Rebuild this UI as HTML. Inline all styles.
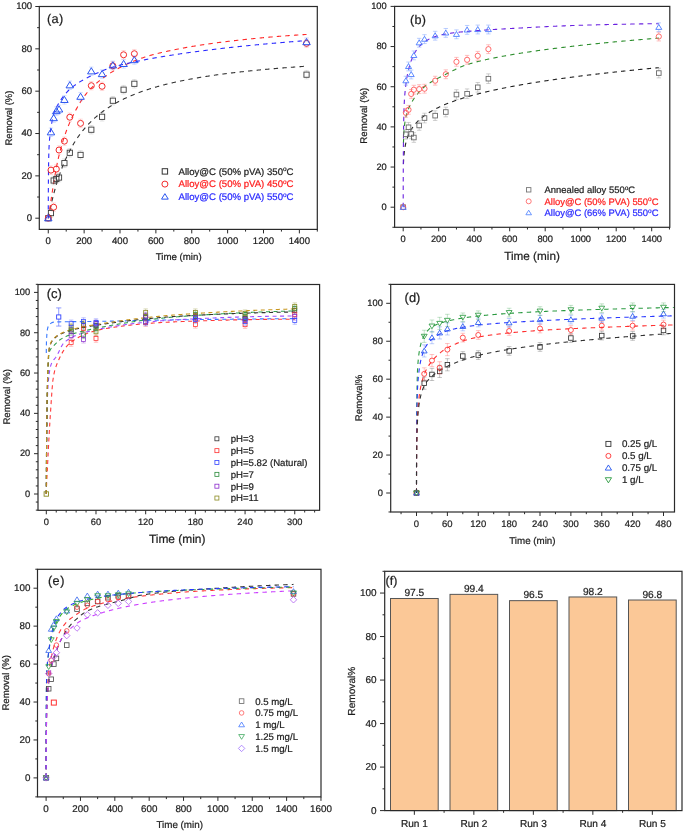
<!DOCTYPE html>
<html><head><meta charset="utf-8"><style>
html,body{margin:0;padding:0;background:#fff;}
body{width:685px;height:833px;overflow:hidden;}
svg{display:block;font-family:"Liberation Sans", sans-serif;text-rendering:geometricPrecision;will-change:transform;}
</style></head><body>
<svg width="685" height="833" viewBox="0 0 685 833" font-family="Liberation Sans, sans-serif">
<rect width="685" height="833" fill="#fff"/>
<path d="M48.27 218.2L48.27 218.2L48.27 218.2L48.27 218.19L48.28 218.17L48.28 218.14L48.29 218.1L48.3 218.04L48.32 217.96L48.34 217.86L48.36 217.73L48.39 217.58L48.43 217.39L48.47 217.17L48.52 216.92L48.58 216.63L48.64 216.3L48.72 215.92L48.8 215.5L48.89 215.04L49 214.52L49.11 213.95L49.24 213.34L49.37 212.67L49.52 211.94L49.69 211.16L49.86 210.32L50.06 209.42L50.26 208.47L50.48 207.45L50.72 206.38L50.97 205.25L51.24 204.07L51.53 202.82L51.84 201.52L52.16 200.17L52.5 198.76L52.86 197.29L53.25 195.78L53.65 194.22L53.65 194.22L54.28 191.83L54.92 189.51L55.55 187.27L56.19 185.1L56.82 182.99L57.45 180.95L58.09 178.97L58.72 177.04L59.35 175.17L59.99 173.35L60.62 171.59L61.26 169.87L61.89 168.2L62.52 166.57L63.16 164.99L63.79 163.45L64.42 161.95L65.06 160.48L65.69 159.06L66.33 157.66L66.96 156.31L67.59 154.98L68.23 153.69L68.86 152.42L69.5 151.19L70.13 149.99L70.76 148.81L71.4 147.66L72.03 146.53L72.66 145.43L73.3 144.35L73.93 143.3L74.57 142.27L75.2 141.26L75.83 140.27L76.47 139.31L77.1 138.36L77.73 137.43L78.37 136.52L79 135.63L79.64 134.75L80.27 133.9L80.9 133.06L81.54 132.23L82.17 131.42L82.8 130.63L83.44 129.85L84.07 129.09L84.71 128.33L85.34 127.6L85.97 126.87L86.61 126.16L87.24 125.46L87.88 124.78L88.51 124.1L89.14 123.44L89.78 122.79L90.41 122.15L91.04 121.52L91.68 120.9L92.31 120.29L92.95 119.69L93.58 119.1L94.21 118.52L94.85 117.95L95.48 117.38L96.11 116.83L96.75 116.29L97.38 115.75L98.02 115.22L98.65 114.7L99.28 114.19L99.92 113.68L100.55 113.19L101.18 112.7L101.82 112.22L102.45 111.74L103.09 111.27L103.72 110.81L104.35 110.35L104.99 109.9L105.62 109.46L106.26 109.03L106.89 108.59L107.52 108.17L108.16 107.75L108.79 107.34L109.42 106.93L110.06 106.53L110.69 106.13L111.33 105.74L111.96 105.35L112.59 104.97L113.23 104.6L113.86 104.22L114.49 103.86L115.13 103.49L115.76 103.14L116.4 102.78L117.03 102.43L117.66 102.09L118.3 101.75L118.93 101.41L119.56 101.08L120.2 100.75L120.83 100.43L121.47 100.11L122.1 99.79L122.73 99.48L123.37 99.17L124 98.87L124.64 98.56L125.27 98.26L125.9 97.97L126.54 97.68L127.17 97.39L127.8 97.1L128.44 96.82L129.07 96.54L129.71 96.27L130.34 96L130.97 95.73L131.61 95.46L132.24 95.2L132.87 94.93L133.51 94.68L134.14 94.42L134.78 94.17L135.41 93.92L136.04 93.67L136.68 93.43L137.31 93.18L137.95 92.94L138.58 92.71L139.21 92.47L139.85 92.24L140.48 92.01L141.11 91.78L141.75 91.55L142.38 91.33L143.02 91.11L143.65 90.89L144.28 90.67L144.92 90.46L145.55 90.25L146.18 90.04L146.82 89.83L147.45 89.62L148.09 89.42L148.72 89.21L149.35 89.01L149.99 88.81L150.62 88.62L151.25 88.42L151.89 88.23L152.52 88.04L153.16 87.85L153.79 87.66L154.42 87.47L155.06 87.29L155.69 87.11L156.33 86.92L156.96 86.74L157.59 86.57L158.23 86.39L158.86 86.21L159.49 86.04L160.13 85.87L160.76 85.7L161.4 85.53L162.03 85.36L162.66 85.2L163.3 85.03L163.93 84.87L164.56 84.71L165.2 84.55L165.83 84.39L166.47 84.23L167.1 84.07L167.73 83.92L168.37 83.76L169 83.61L169.63 83.46L170.27 83.31L170.9 83.16L171.54 83.01L172.17 82.87L172.8 82.72L173.44 82.58L174.07 82.43L174.71 82.29L175.34 82.15L175.97 82.01L176.61 81.87L177.24 81.74L177.87 81.6L178.51 81.46L179.14 81.33L179.78 81.2L180.41 81.06L181.04 80.93L181.68 80.8L182.31 80.67L182.94 80.55L183.58 80.42L184.21 80.29L184.85 80.17L185.48 80.04L186.11 79.92L186.75 79.8L187.38 79.67L188.01 79.55L188.65 79.43L189.28 79.31L189.92 79.2L190.55 79.08L191.18 78.96L191.82 78.85L192.45 78.73L193.09 78.62L193.72 78.5L194.35 78.39L194.99 78.28L195.62 78.17L196.25 78.06L196.89 77.95L197.52 77.84L198.16 77.73L198.79 77.63L199.42 77.52L200.06 77.41L200.69 77.31L201.32 77.21L201.96 77.1L202.59 77L203.23 76.9L203.86 76.8L204.49 76.7L205.13 76.6L205.76 76.5L206.39 76.4L207.03 76.3L207.66 76.2L208.3 76.11L208.93 76.01L209.56 75.91L210.2 75.82L210.83 75.72L211.47 75.63L212.1 75.54L212.73 75.45L213.37 75.35L214 75.26L214.63 75.17L215.27 75.08L215.9 74.99L216.54 74.9L217.17 74.81L217.8 74.73L218.44 74.64L219.07 74.55L219.7 74.47L220.34 74.38L220.97 74.3L221.61 74.21L222.24 74.13L222.87 74.04L223.51 73.96L224.14 73.88L224.77 73.8L225.41 73.71L226.04 73.63L226.68 73.55L227.31 73.47L227.94 73.39L228.58 73.31L229.21 73.23L229.85 73.16L230.48 73.08L231.11 73L231.75 72.92L232.38 72.85L233.01 72.77L233.65 72.7L234.28 72.62L234.92 72.55L235.55 72.47L236.18 72.4L236.82 72.32L237.45 72.25L238.08 72.18L238.72 72.11L239.35 72.03L239.99 71.96L240.62 71.89L241.25 71.82L241.89 71.75L242.52 71.68L243.15 71.61L243.79 71.54L244.42 71.47L245.06 71.41L245.69 71.34L246.32 71.27L246.96 71.2L247.59 71.14L248.23 71.07L248.86 71L249.49 70.94L250.13 70.87L250.76 70.81L251.39 70.74L252.03 70.68L252.66 70.62L253.3 70.55L253.93 70.49L254.56 70.43L255.2 70.36L255.83 70.3L256.46 70.24L257.1 70.18L257.73 70.12L258.37 70.06L259 70L259.63 69.93L260.27 69.87L260.9 69.81L261.53 69.76L262.17 69.7L262.8 69.64L263.44 69.58L264.07 69.52L264.7 69.46L265.34 69.41L265.97 69.35L266.61 69.29L267.24 69.23L267.87 69.18L268.51 69.12L269.14 69.07L269.77 69.01L270.41 68.95L271.04 68.9L271.68 68.84L272.31 68.79L272.94 68.74L273.58 68.68L274.21 68.63L274.84 68.58L275.48 68.52L276.11 68.47L276.75 68.42L277.38 68.36L278.01 68.31L278.65 68.26L279.28 68.21L279.91 68.16L280.55 68.11L281.18 68.05L281.82 68L282.45 67.95L283.08 67.9L283.72 67.85L284.35 67.8L284.99 67.75L285.62 67.7L286.25 67.66L286.89 67.61L287.52 67.56L288.15 67.51L288.79 67.46L289.42 67.41L290.06 67.37L290.69 67.32L291.32 67.27L291.96 67.22L292.59 67.18L293.22 67.13L293.86 67.08L294.49 67.04L295.13 66.99L295.76 66.95L296.39 66.9L297.03 66.86L297.66 66.81L298.29 66.77L298.93 66.72L299.56 66.68L300.2 66.63L300.83 66.59L301.46 66.54L302.1 66.5L302.73 66.46L303.37 66.41L304 66.37L304.63 66.33L305.27 66.28L305.9 66.24L306.53 66.2" fill="none" stroke="#333333" stroke-width="1.1" stroke-dasharray="4.4 4.2" opacity="1.0"/>
<path d="M48.27 218.2L48.27 218.2L48.27 218.19L48.27 218.18L48.28 218.15L48.28 218.11L48.29 218.04L48.3 217.95L48.32 217.84L48.34 217.69L48.36 217.51L48.39 217.29L48.43 217.04L48.47 216.76L48.52 216.43L48.58 216.07L48.64 215.67L48.72 215.24L48.8 214.77L48.89 214.27L49 213.73L49.11 213.17L49.24 212.56L49.37 211.76L49.52 210.76L49.69 209.59L49.86 208.27L50.06 206.83L50.26 205.3L50.48 203.73L50.72 202.14L50.97 200.48L51.24 198.7L51.53 196.8L51.84 194.8L52.16 192.7L52.5 190.52L52.86 188.27L53.25 185.97L53.65 183.55L53.65 183.55L54.28 179.75L54.92 175.98L55.55 172.31L56.19 168.79L56.82 165.43L57.45 162.27L58.09 159.33L58.72 156.61L59.35 154.04L59.99 151.57L60.62 149.19L61.26 146.89L61.89 144.67L62.52 142.52L63.16 140.45L63.79 138.44L64.42 136.5L65.06 134.63L65.69 132.81L66.33 131.06L66.96 129.36L67.59 127.72L68.23 126.13L68.86 124.6L69.5 123.12L70.13 121.69L70.76 120.3L71.4 118.93L72.03 117.59L72.66 116.27L73.3 114.98L73.93 113.71L74.57 112.47L75.2 111.25L75.83 110.05L76.47 108.88L77.1 107.73L77.73 106.6L78.37 105.5L79 104.42L79.64 103.37L80.27 102.33L80.9 101.33L81.54 100.34L82.17 99.38L82.8 98.44L83.44 97.52L84.07 96.63L84.71 95.76L85.34 94.91L85.97 94.08L86.61 93.28L87.24 92.5L87.88 91.74L88.51 91L89.14 90.29L89.78 89.59L90.41 88.92L91.04 88.27L91.68 87.65L92.31 87.03L92.95 86.42L93.58 85.82L94.21 85.24L94.85 84.66L95.48 84.09L96.11 83.53L96.75 82.99L97.38 82.44L98.02 81.91L98.65 81.39L99.28 80.87L99.92 80.37L100.55 79.87L101.18 79.37L101.82 78.89L102.45 78.41L103.09 77.94L103.72 77.47L104.35 77.02L104.99 76.57L105.62 76.12L106.26 75.68L106.89 75.25L107.52 74.83L108.16 74.41L108.79 73.99L109.42 73.58L110.06 73.18L110.69 72.78L111.33 72.39L111.96 72L112.59 71.62L113.23 71.24L113.86 70.87L114.49 70.5L115.13 70.14L115.76 69.78L116.4 69.42L117.03 69.07L117.66 68.73L118.3 68.39L118.93 68.05L119.56 67.72L120.2 67.39L120.83 67.06L121.47 66.74L122.1 66.42L122.73 66.11L123.37 65.8L124 65.49L124.64 65.19L125.27 64.88L125.9 64.59L126.54 64.29L127.17 64L127.8 63.71L128.44 63.43L129.07 63.15L129.71 62.87L130.34 62.59L130.97 62.32L131.61 62.05L132.24 61.78L132.87 61.52L133.51 61.25L134.14 60.99L134.78 60.74L135.41 60.48L136.04 60.23L136.68 59.99L137.31 59.74L137.95 59.5L138.58 59.26L139.21 59.03L139.85 58.8L140.48 58.57L141.11 58.35L141.75 58.12L142.38 57.91L143.02 57.69L143.65 57.48L144.28 57.27L144.92 57.06L145.55 56.86L146.18 56.65L146.82 56.46L147.45 56.26L148.09 56.07L148.72 55.88L149.35 55.69L149.99 55.51L150.62 55.33L151.25 55.15L151.89 54.97L152.52 54.8L153.16 54.63L153.79 54.46L154.42 54.29L155.06 54.13L155.69 53.97L156.33 53.81L156.96 53.65L157.59 53.5L158.23 53.34L158.86 53.19L159.49 53.04L160.13 52.88L160.76 52.73L161.4 52.58L162.03 52.44L162.66 52.29L163.3 52.14L163.93 52L164.56 51.85L165.2 51.71L165.83 51.57L166.47 51.43L167.1 51.29L167.73 51.15L168.37 51.01L169 50.87L169.63 50.74L170.27 50.6L170.9 50.47L171.54 50.34L172.17 50.2L172.8 50.07L173.44 49.94L174.07 49.81L174.71 49.68L175.34 49.55L175.97 49.43L176.61 49.3L177.24 49.18L177.87 49.05L178.51 48.93L179.14 48.81L179.78 48.68L180.41 48.56L181.04 48.44L181.68 48.32L182.31 48.21L182.94 48.09L183.58 47.97L184.21 47.85L184.85 47.74L185.48 47.62L186.11 47.51L186.75 47.4L187.38 47.28L188.01 47.17L188.65 47.06L189.28 46.95L189.92 46.84L190.55 46.73L191.18 46.62L191.82 46.52L192.45 46.41L193.09 46.3L193.72 46.2L194.35 46.09L194.99 45.99L195.62 45.89L196.25 45.78L196.89 45.68L197.52 45.58L198.16 45.48L198.79 45.38L199.42 45.28L200.06 45.18L200.69 45.08L201.32 44.99L201.96 44.89L202.59 44.79L203.23 44.7L203.86 44.6L204.49 44.51L205.13 44.41L205.76 44.32L206.39 44.23L207.03 44.14L207.66 44.04L208.3 43.95L208.93 43.86L209.56 43.77L210.2 43.68L210.83 43.6L211.47 43.51L212.1 43.42L212.73 43.33L213.37 43.25L214 43.16L214.63 43.07L215.27 42.99L215.9 42.9L216.54 42.82L217.17 42.74L217.8 42.65L218.44 42.57L219.07 42.49L219.7 42.41L220.34 42.33L220.97 42.25L221.61 42.17L222.24 42.09L222.87 42.01L223.51 41.93L224.14 41.85L224.77 41.77L225.41 41.7L226.04 41.62L226.68 41.54L227.31 41.47L227.94 41.39L228.58 41.32L229.21 41.24L229.85 41.17L230.48 41.09L231.11 41.02L231.75 40.95L232.38 40.87L233.01 40.8L233.65 40.73L234.28 40.66L234.92 40.58L235.55 40.51L236.18 40.44L236.82 40.37L237.45 40.3L238.08 40.23L238.72 40.16L239.35 40.09L239.99 40.02L240.62 39.95L241.25 39.88L241.89 39.81L242.52 39.75L243.15 39.68L243.79 39.61L244.42 39.54L245.06 39.48L245.69 39.41L246.32 39.34L246.96 39.28L247.59 39.21L248.23 39.15L248.86 39.08L249.49 39.02L250.13 38.95L250.76 38.89L251.39 38.82L252.03 38.76L252.66 38.7L253.3 38.63L253.93 38.57L254.56 38.51L255.2 38.45L255.83 38.39L256.46 38.32L257.1 38.26L257.73 38.2L258.37 38.14L259 38.08L259.63 38.02L260.27 37.96L260.9 37.9L261.53 37.85L262.17 37.79L262.8 37.73L263.44 37.67L264.07 37.61L264.7 37.56L265.34 37.5L265.97 37.44L266.61 37.39L267.24 37.33L267.87 37.27L268.51 37.22L269.14 37.16L269.77 37.11L270.41 37.05L271.04 37L271.68 36.95L272.31 36.89L272.94 36.84L273.58 36.79L274.21 36.73L274.84 36.68L275.48 36.63L276.11 36.58L276.75 36.53L277.38 36.47L278.01 36.42L278.65 36.37L279.28 36.32L279.91 36.27L280.55 36.22L281.18 36.17L281.82 36.12L282.45 36.08L283.08 36.03L283.72 35.98L284.35 35.93L284.99 35.88L285.62 35.84L286.25 35.79L286.89 35.74L287.52 35.7L288.15 35.65L288.79 35.6L289.42 35.56L290.06 35.51L290.69 35.47L291.32 35.42L291.96 35.38L292.59 35.34L293.22 35.29L293.86 35.25L294.49 35.21L295.13 35.16L295.76 35.12L296.39 35.08L297.03 35.04L297.66 35L298.29 34.95L298.93 34.91L299.56 34.87L300.2 34.83L300.83 34.79L301.46 34.75L302.1 34.71L302.73 34.67L303.37 34.63L304 34.6L304.63 34.56L305.27 34.52L305.9 34.48L306.53 34.44" fill="none" stroke="#ff2a2a" stroke-width="1.1" stroke-dasharray="4.4 4.2" opacity="1.0"/>
<path d="M48.27 218.2L48.27 217.08L48.27 215.06L48.27 212.47L48.28 209.45L48.28 206.09L48.29 202.45L48.3 198.61L48.32 194.6L48.34 190.5L48.36 186.34L48.39 182.18L48.43 178.08L48.47 174.06L48.52 169.96L48.58 165.83L48.64 161.74L48.72 157.8L48.8 154.13L48.89 150.87L49 148.15L49.11 145.82L49.24 143.66L49.37 141.64L49.52 139.77L49.69 138.02L49.86 136.35L50.06 134.74L50.26 133.16L50.48 131.56L50.72 129.91L50.97 128.14L51.24 126.28L51.53 124.39L51.84 122.48L52.16 120.6L52.5 118.78L52.86 117.06L53.25 115.48L53.65 114.08L53.65 114.08L54.28 112.19L54.92 110.55L55.55 109.11L56.19 107.81L56.82 106.61L57.45 105.48L58.09 104.4L58.72 103.34L59.35 102.29L59.99 101.27L60.62 100.29L61.26 99.33L61.89 98.41L62.52 97.52L63.16 96.66L63.79 95.82L64.42 95.02L65.06 94.24L65.69 93.49L66.33 92.77L66.96 92.07L67.59 91.4L68.23 90.76L68.86 90.14L69.5 89.54L70.13 88.97L70.76 88.42L71.4 87.89L72.03 87.36L72.66 86.86L73.3 86.36L73.93 85.88L74.57 85.41L75.2 84.96L75.83 84.51L76.47 84.07L77.1 83.65L77.73 83.23L78.37 82.82L79 82.42L79.64 82.02L80.27 81.63L80.9 81.25L81.54 80.88L82.17 80.51L82.8 80.15L83.44 79.8L84.07 79.45L84.71 79.1L85.34 78.76L85.97 78.42L86.61 78.09L87.24 77.76L87.88 77.43L88.51 77.11L89.14 76.79L89.78 76.48L90.41 76.17L91.04 75.86L91.68 75.55L92.31 75.24L92.95 74.94L93.58 74.64L94.21 74.35L94.85 74.05L95.48 73.76L96.11 73.47L96.75 73.19L97.38 72.91L98.02 72.63L98.65 72.35L99.28 72.08L99.92 71.81L100.55 71.54L101.18 71.28L101.82 71.02L102.45 70.77L103.09 70.51L103.72 70.27L104.35 70.02L104.99 69.78L105.62 69.54L106.26 69.31L106.89 69.08L107.52 68.85L108.16 68.63L108.79 68.41L109.42 68.19L110.06 67.98L110.69 67.77L111.33 67.57L111.96 67.37L112.59 67.17L113.23 66.98L113.86 66.79L114.49 66.61L115.13 66.43L115.76 66.25L116.4 66.08L117.03 65.9L117.66 65.74L118.3 65.57L118.93 65.41L119.56 65.24L120.2 65.09L120.83 64.93L121.47 64.77L122.1 64.62L122.73 64.47L123.37 64.32L124 64.17L124.64 64.03L125.27 63.88L125.9 63.74L126.54 63.59L127.17 63.45L127.8 63.31L128.44 63.17L129.07 63.03L129.71 62.89L130.34 62.76L130.97 62.62L131.61 62.48L132.24 62.34L132.87 62.21L133.51 62.07L134.14 61.93L134.78 61.8L135.41 61.66L136.04 61.53L136.68 61.4L137.31 61.26L137.95 61.13L138.58 61L139.21 60.87L139.85 60.74L140.48 60.61L141.11 60.49L141.75 60.36L142.38 60.23L143.02 60.11L143.65 59.98L144.28 59.86L144.92 59.74L145.55 59.61L146.18 59.49L146.82 59.37L147.45 59.25L148.09 59.13L148.72 59.01L149.35 58.9L149.99 58.78L150.62 58.66L151.25 58.55L151.89 58.43L152.52 58.32L153.16 58.21L153.79 58.1L154.42 57.98L155.06 57.87L155.69 57.76L156.33 57.65L156.96 57.55L157.59 57.44L158.23 57.33L158.86 57.22L159.49 57.12L160.13 57.01L160.76 56.9L161.4 56.8L162.03 56.69L162.66 56.59L163.3 56.49L163.93 56.38L164.56 56.28L165.2 56.18L165.83 56.07L166.47 55.97L167.1 55.87L167.73 55.77L168.37 55.67L169 55.57L169.63 55.47L170.27 55.37L170.9 55.27L171.54 55.17L172.17 55.07L172.8 54.97L173.44 54.87L174.07 54.78L174.71 54.68L175.34 54.58L175.97 54.49L176.61 54.39L177.24 54.3L177.87 54.2L178.51 54.11L179.14 54.01L179.78 53.92L180.41 53.82L181.04 53.73L181.68 53.64L182.31 53.55L182.94 53.45L183.58 53.36L184.21 53.27L184.85 53.18L185.48 53.09L186.11 53L186.75 52.91L187.38 52.82L188.01 52.73L188.65 52.64L189.28 52.55L189.92 52.46L190.55 52.38L191.18 52.29L191.82 52.2L192.45 52.11L193.09 52.03L193.72 51.94L194.35 51.85L194.99 51.77L195.62 51.68L196.25 51.6L196.89 51.51L197.52 51.43L198.16 51.35L198.79 51.26L199.42 51.18L200.06 51.1L200.69 51.01L201.32 50.93L201.96 50.85L202.59 50.77L203.23 50.69L203.86 50.6L204.49 50.52L205.13 50.44L205.76 50.36L206.39 50.28L207.03 50.2L207.66 50.12L208.3 50.05L208.93 49.97L209.56 49.89L210.2 49.81L210.83 49.73L211.47 49.66L212.1 49.58L212.73 49.5L213.37 49.43L214 49.35L214.63 49.27L215.27 49.2L215.9 49.12L216.54 49.05L217.17 48.97L217.8 48.9L218.44 48.82L219.07 48.75L219.7 48.68L220.34 48.6L220.97 48.53L221.61 48.46L222.24 48.39L222.87 48.31L223.51 48.24L224.14 48.17L224.77 48.1L225.41 48.03L226.04 47.96L226.68 47.89L227.31 47.82L227.94 47.75L228.58 47.68L229.21 47.61L229.85 47.54L230.48 47.47L231.11 47.4L231.75 47.33L232.38 47.26L233.01 47.19L233.65 47.13L234.28 47.06L234.92 46.99L235.55 46.92L236.18 46.86L236.82 46.79L237.45 46.72L238.08 46.66L238.72 46.59L239.35 46.53L239.99 46.46L240.62 46.39L241.25 46.33L241.89 46.26L242.52 46.2L243.15 46.13L243.79 46.07L244.42 46L245.06 45.94L245.69 45.88L246.32 45.81L246.96 45.75L247.59 45.69L248.23 45.62L248.86 45.56L249.49 45.5L250.13 45.44L250.76 45.37L251.39 45.31L252.03 45.25L252.66 45.19L253.3 45.13L253.93 45.06L254.56 45L255.2 44.94L255.83 44.88L256.46 44.82L257.1 44.76L257.73 44.7L258.37 44.64L259 44.58L259.63 44.52L260.27 44.46L260.9 44.4L261.53 44.34L262.17 44.28L262.8 44.23L263.44 44.17L264.07 44.11L264.7 44.05L265.34 43.99L265.97 43.93L266.61 43.88L267.24 43.82L267.87 43.76L268.51 43.71L269.14 43.65L269.77 43.59L270.41 43.53L271.04 43.48L271.68 43.42L272.31 43.37L272.94 43.31L273.58 43.25L274.21 43.2L274.84 43.14L275.48 43.09L276.11 43.03L276.75 42.98L277.38 42.92L278.01 42.87L278.65 42.82L279.28 42.76L279.91 42.71L280.55 42.65L281.18 42.6L281.82 42.55L282.45 42.49L283.08 42.44L283.72 42.39L284.35 42.33L284.99 42.28L285.62 42.23L286.25 42.18L286.89 42.12L287.52 42.07L288.15 42.02L288.79 41.97L289.42 41.92L290.06 41.87L290.69 41.81L291.32 41.76L291.96 41.71L292.59 41.66L293.22 41.61L293.86 41.56L294.49 41.51L295.13 41.46L295.76 41.41L296.39 41.36L297.03 41.31L297.66 41.26L298.29 41.21L298.93 41.16L299.56 41.11L300.2 41.06L300.83 41.02L301.46 40.97L302.1 40.92L302.73 40.87L303.37 40.82L304 40.77L304.63 40.73L305.27 40.68L305.9 40.63L306.53 40.58" fill="none" stroke="#2b2bff" stroke-width="1.1" stroke-dasharray="4.4 4.2" opacity="1.0"/>
<path d="M48.76 217.35h4.4M48.76 208.89h4.4M50.96 217.35V216.02M50.96 208.89V210.22" stroke="#999999" stroke-width="0.8" fill="none" opacity="0.35"/>
<path d="M51.45 184.75h4.4M51.45 176.28h4.4M53.65 184.75V183.42M53.65 176.28V177.62" stroke="#999999" stroke-width="0.8" fill="none" opacity="0.35"/>
<path d="M54.14 183.27h4.4M54.14 174.8h4.4M56.34 183.27V181.94M56.34 174.8V176.14" stroke="#999999" stroke-width="0.8" fill="none" opacity="0.35"/>
<path d="M56.83 181.79h4.4M56.83 173.32h4.4M59.03 181.79V180.45M59.03 173.32V174.65" stroke="#999999" stroke-width="0.8" fill="none" opacity="0.35"/>
<path d="M62.21 167.39h4.4M62.21 158.92h4.4M64.41 167.39V166.06M64.41 158.92V160.26" stroke="#999999" stroke-width="0.8" fill="none" opacity="0.35"/>
<path d="M67.59 157.02h4.4M67.59 148.55h4.4M69.79 157.02V155.68M69.79 148.55V149.88" stroke="#999999" stroke-width="0.8" fill="none" opacity="0.35"/>
<path d="M78.35 159.14h4.4M78.35 150.67h4.4M80.55 159.14V157.8M80.55 150.67V152" stroke="#999999" stroke-width="0.8" fill="none" opacity="0.35"/>
<path d="M89.11 133.94h4.4M89.11 125.48h4.4M91.31 133.94V132.61M91.31 125.48V126.81" stroke="#999999" stroke-width="0.8" fill="none" opacity="0.35"/>
<path d="M99.88 121.03h4.4M99.88 112.56h4.4M102.08 121.03V119.7M102.08 112.56V113.9" stroke="#999999" stroke-width="0.8" fill="none" opacity="0.35"/>
<path d="M110.64 104.94h4.4M110.64 96.47h4.4M112.84 104.94V103.61M112.84 96.47V97.81" stroke="#999999" stroke-width="0.8" fill="none" opacity="0.35"/>
<path d="M121.4 93.93h4.4M121.4 85.46h4.4M123.6 93.93V92.6M123.6 85.46V86.8" stroke="#999999" stroke-width="0.8" fill="none" opacity="0.35"/>
<path d="M132.16 88h4.4M132.16 79.54h4.4M134.36 88V86.67M134.36 79.54V80.87" stroke="#999999" stroke-width="0.8" fill="none" opacity="0.35"/>
<path d="M304.33 78.9h4.4M304.33 70.43h4.4M306.53 78.9V77.57M306.53 70.43V71.77" stroke="#999999" stroke-width="0.8" fill="none" opacity="0.35"/>
<path d="M48.76 174.38h4.4M48.76 165.91h4.4M50.96 174.38V173.34M50.96 165.91V166.94" stroke="#ff8080" stroke-width="0.8" fill="none" opacity="0.35"/>
<path d="M51.45 211.43h4.4M51.45 202.96h4.4M53.65 211.43V210.39M53.65 202.96V203.99" stroke="#ff8080" stroke-width="0.8" fill="none" opacity="0.35"/>
<path d="M54.14 173.32h4.4M54.14 164.85h4.4M56.34 173.32V172.29M56.34 164.85V165.89" stroke="#ff8080" stroke-width="0.8" fill="none" opacity="0.35"/>
<path d="M56.83 154.27h4.4M56.83 145.8h4.4M59.03 154.27V153.23M59.03 145.8V146.83" stroke="#ff8080" stroke-width="0.8" fill="none" opacity="0.35"/>
<path d="M62.21 145.38h4.4M62.21 136.91h4.4M64.41 145.38V144.34M64.41 136.91V137.94" stroke="#ff8080" stroke-width="0.8" fill="none" opacity="0.35"/>
<path d="M67.59 121.45h4.4M67.59 112.99h4.4M69.79 121.45V120.42M69.79 112.99V114.02" stroke="#ff8080" stroke-width="0.8" fill="none" opacity="0.35"/>
<path d="M78.35 127.59h4.4M78.35 119.12h4.4M80.55 127.59V126.56M80.55 119.12V120.16" stroke="#ff8080" stroke-width="0.8" fill="none" opacity="0.35"/>
<path d="M89.11 89.91h4.4M89.11 81.44h4.4M91.31 89.91V88.88M91.31 81.44V82.48" stroke="#ff8080" stroke-width="0.8" fill="none" opacity="0.35"/>
<path d="M99.88 90.54h4.4M99.88 82.08h4.4M102.08 90.54V89.51M102.08 82.08V83.11" stroke="#ff8080" stroke-width="0.8" fill="none" opacity="0.35"/>
<path d="M110.64 70.01h4.4M110.64 61.54h4.4M112.84 70.01V68.98M112.84 61.54V62.58" stroke="#ff8080" stroke-width="0.8" fill="none" opacity="0.35"/>
<path d="M121.4 59h4.4M121.4 50.53h4.4M123.6 59V57.97M123.6 50.53V51.57" stroke="#ff8080" stroke-width="0.8" fill="none" opacity="0.35"/>
<path d="M132.16 57.94h4.4M132.16 49.48h4.4M134.36 57.94V56.91M134.36 49.48V50.51" stroke="#ff8080" stroke-width="0.8" fill="none" opacity="0.35"/>
<path d="M304.33 47.57h4.4M304.33 39.1h4.4M306.53 47.57V46.54M306.53 39.1V40.14" stroke="#ff8080" stroke-width="0.8" fill="none" opacity="0.35"/>
<path d="M48.76 136.48h4.4M48.76 128.02h4.4M50.96 136.48V135.45M50.96 128.02V129.05" stroke="#7799ff" stroke-width="0.8" fill="none" opacity="0.4"/>
<path d="M51.45 122.3h4.4M51.45 113.83h4.4M53.65 122.3V121.27M53.65 113.83V114.87" stroke="#7799ff" stroke-width="0.8" fill="none" opacity="0.4"/>
<path d="M54.14 115.31h4.4M54.14 106.85h4.4M56.34 115.31V114.28M56.34 106.85V107.88" stroke="#7799ff" stroke-width="0.8" fill="none" opacity="0.4"/>
<path d="M56.83 113.62h4.4M56.83 105.15h4.4M59.03 113.62V112.59M59.03 105.15V106.19" stroke="#7799ff" stroke-width="0.8" fill="none" opacity="0.4"/>
<path d="M62.21 104.09h4.4M62.21 95.63h4.4M64.41 104.09V103.06M64.41 95.63V96.66" stroke="#7799ff" stroke-width="0.8" fill="none" opacity="0.4"/>
<path d="M67.59 89.49h4.4M67.59 81.02h4.4M69.79 89.49V88.45M69.79 81.02V82.05" stroke="#7799ff" stroke-width="0.8" fill="none" opacity="0.4"/>
<path d="M78.35 100.92h4.4M78.35 92.45h4.4M80.55 100.92V99.88M80.55 92.45V93.48" stroke="#7799ff" stroke-width="0.8" fill="none" opacity="0.4"/>
<path d="M89.11 75.51h4.4M89.11 67.05h4.4M91.31 75.51V74.48M91.31 67.05V68.08" stroke="#7799ff" stroke-width="0.8" fill="none" opacity="0.4"/>
<path d="M99.88 78.27h4.4M99.88 69.8h4.4M102.08 78.27V77.23M102.08 69.8V70.83" stroke="#7799ff" stroke-width="0.8" fill="none" opacity="0.4"/>
<path d="M110.64 69.59h4.4M110.64 61.12h4.4M112.84 69.59V68.55M112.84 61.12V62.15" stroke="#7799ff" stroke-width="0.8" fill="none" opacity="0.4"/>
<path d="M121.4 68.1h4.4M121.4 59.64h4.4M123.6 68.1V67.07M123.6 59.64V60.67" stroke="#7799ff" stroke-width="0.8" fill="none" opacity="0.4"/>
<path d="M132.16 64.29h4.4M132.16 55.83h4.4M134.36 64.29V63.26M134.36 55.83V56.86" stroke="#7799ff" stroke-width="0.8" fill="none" opacity="0.4"/>
<path d="M304.33 46.3h4.4M304.33 37.83h4.4M306.53 46.3V45.27M306.53 37.83V38.87" stroke="#7799ff" stroke-width="0.8" fill="none" opacity="0.4"/>
<rect x="45.67" y="215.6" width="5.2" height="5.2" fill="none" stroke="#3c3c3c" stroke-width="0.9"/>
<rect x="48.36" y="210.52" width="5.2" height="5.2" fill="none" stroke="#3c3c3c" stroke-width="0.9"/>
<rect x="51.05" y="177.92" width="5.2" height="5.2" fill="none" stroke="#3c3c3c" stroke-width="0.9"/>
<rect x="53.74" y="176.44" width="5.2" height="5.2" fill="none" stroke="#3c3c3c" stroke-width="0.9"/>
<rect x="56.43" y="174.95" width="5.2" height="5.2" fill="none" stroke="#3c3c3c" stroke-width="0.9"/>
<rect x="61.81" y="160.56" width="5.2" height="5.2" fill="none" stroke="#3c3c3c" stroke-width="0.9"/>
<rect x="67.19" y="150.18" width="5.2" height="5.2" fill="none" stroke="#3c3c3c" stroke-width="0.9"/>
<rect x="77.95" y="152.3" width="5.2" height="5.2" fill="none" stroke="#3c3c3c" stroke-width="0.9"/>
<rect x="88.71" y="127.11" width="5.2" height="5.2" fill="none" stroke="#3c3c3c" stroke-width="0.9"/>
<rect x="99.48" y="114.2" width="5.2" height="5.2" fill="none" stroke="#3c3c3c" stroke-width="0.9"/>
<rect x="110.24" y="98.11" width="5.2" height="5.2" fill="none" stroke="#3c3c3c" stroke-width="0.9"/>
<rect x="121" y="87.1" width="5.2" height="5.2" fill="none" stroke="#3c3c3c" stroke-width="0.9"/>
<rect x="131.76" y="81.17" width="5.2" height="5.2" fill="none" stroke="#3c3c3c" stroke-width="0.9"/>
<rect x="303.93" y="72.07" width="5.2" height="5.2" fill="none" stroke="#3c3c3c" stroke-width="0.9"/>
<circle cx="48.27" cy="218.2" r="3" fill="none" stroke="#f22a2a" stroke-width="1.0"/>
<circle cx="50.96" cy="170.14" r="3" fill="none" stroke="#f22a2a" stroke-width="1.0"/>
<circle cx="53.65" cy="207.19" r="3" fill="none" stroke="#f22a2a" stroke-width="1.0"/>
<circle cx="56.34" cy="169.09" r="3" fill="none" stroke="#f22a2a" stroke-width="1.0"/>
<circle cx="59.03" cy="150.03" r="3" fill="none" stroke="#f22a2a" stroke-width="1.0"/>
<circle cx="64.41" cy="141.14" r="3" fill="none" stroke="#f22a2a" stroke-width="1.0"/>
<circle cx="69.79" cy="117.22" r="3" fill="none" stroke="#f22a2a" stroke-width="1.0"/>
<circle cx="80.55" cy="123.36" r="3" fill="none" stroke="#f22a2a" stroke-width="1.0"/>
<circle cx="91.31" cy="85.68" r="3" fill="none" stroke="#f22a2a" stroke-width="1.0"/>
<circle cx="102.08" cy="86.31" r="3" fill="none" stroke="#f22a2a" stroke-width="1.0"/>
<circle cx="112.84" cy="65.78" r="3" fill="none" stroke="#f22a2a" stroke-width="1.0"/>
<circle cx="123.6" cy="54.77" r="3" fill="none" stroke="#f22a2a" stroke-width="1.0"/>
<circle cx="134.36" cy="53.71" r="3" fill="none" stroke="#f22a2a" stroke-width="1.0"/>
<circle cx="306.53" cy="43.34" r="3" fill="none" stroke="#f22a2a" stroke-width="1.0"/>
<path d="M48.27 214.68L52.02 220.81L44.52 220.81Z" fill="none" stroke="#2a55f0" stroke-width="1.0"/>
<path d="M50.96 128.73L54.71 134.86L47.21 134.86Z" fill="none" stroke="#2a55f0" stroke-width="1.0"/>
<path d="M53.65 114.55L57.4 120.68L49.9 120.68Z" fill="none" stroke="#2a55f0" stroke-width="1.0"/>
<path d="M56.34 107.56L60.09 113.69L52.59 113.69Z" fill="none" stroke="#2a55f0" stroke-width="1.0"/>
<path d="M59.03 105.87L62.78 112L55.28 112Z" fill="none" stroke="#2a55f0" stroke-width="1.0"/>
<path d="M64.41 96.34L68.16 102.47L60.66 102.47Z" fill="none" stroke="#2a55f0" stroke-width="1.0"/>
<path d="M69.79 81.73L73.54 87.87L66.04 87.87Z" fill="none" stroke="#2a55f0" stroke-width="1.0"/>
<path d="M80.55 93.17L84.3 99.3L76.8 99.3Z" fill="none" stroke="#2a55f0" stroke-width="1.0"/>
<path d="M91.31 67.76L95.07 73.89L87.56 73.89Z" fill="none" stroke="#2a55f0" stroke-width="1.0"/>
<path d="M102.08 70.51L105.83 76.65L98.32 76.65Z" fill="none" stroke="#2a55f0" stroke-width="1.0"/>
<path d="M112.84 61.84L116.59 67.97L109.08 67.97Z" fill="none" stroke="#2a55f0" stroke-width="1.0"/>
<path d="M123.6 60.35L127.35 66.48L119.85 66.48Z" fill="none" stroke="#2a55f0" stroke-width="1.0"/>
<path d="M134.36 56.54L138.11 62.67L130.61 62.67Z" fill="none" stroke="#2a55f0" stroke-width="1.0"/>
<path d="M306.53 38.55L310.29 44.68L302.78 44.68Z" fill="none" stroke="#2a55f0" stroke-width="1.0"/>
<rect x="39.3" y="6.5" width="278" height="222.9" fill="none" stroke="#2a2a2a" stroke-width="1.2"/>
<path d="M48.27 229.4V233.4M84.14 229.4V233.4M120.01 229.4V233.4M155.88 229.4V233.4M191.75 229.4V233.4M227.62 229.4V233.4M263.49 229.4V233.4M299.36 229.4V233.4M66.21 229.4V231.6M102.08 229.4V231.6M137.95 229.4V231.6M173.81 229.4V231.6M209.69 229.4V231.6M245.56 229.4V231.6M281.43 229.4V231.6M317.3 229.4V231.6" stroke="#2a2a2a" stroke-width="1.0" fill="none"/>
<text x="48.27" y="244.2" font-size="9.58" text-anchor="middle" fill="#1e1e1e"  stroke="#1e1e1e" stroke-width="0.22">0</text>
<text x="84.14" y="244.2" font-size="9.58" text-anchor="middle" fill="#1e1e1e"  stroke="#1e1e1e" stroke-width="0.22">200</text>
<text x="120.01" y="244.2" font-size="9.58" text-anchor="middle" fill="#1e1e1e"  stroke="#1e1e1e" stroke-width="0.22">400</text>
<text x="155.88" y="244.2" font-size="9.58" text-anchor="middle" fill="#1e1e1e"  stroke="#1e1e1e" stroke-width="0.22">600</text>
<text x="191.75" y="244.2" font-size="9.58" text-anchor="middle" fill="#1e1e1e"  stroke="#1e1e1e" stroke-width="0.22">800</text>
<text x="227.62" y="244.2" font-size="9.58" text-anchor="middle" fill="#1e1e1e"  stroke="#1e1e1e" stroke-width="0.22">1000</text>
<text x="263.49" y="244.2" font-size="9.58" text-anchor="middle" fill="#1e1e1e"  stroke="#1e1e1e" stroke-width="0.22">1200</text>
<text x="299.36" y="244.2" font-size="9.58" text-anchor="middle" fill="#1e1e1e"  stroke="#1e1e1e" stroke-width="0.22">1400</text>
<path d="M39.3 218.2H35.3M39.3 175.86H35.3M39.3 133.52H35.3M39.3 91.18H35.3M39.3 48.84H35.3M39.3 6.5H35.3M39.3 197.03H37.1M39.3 154.69H37.1M39.3 112.35H37.1M39.3 70.01H37.1M39.3 27.67H37.1" stroke="#2a2a2a" stroke-width="1.0" fill="none"/>
<text x="32.2" y="221.08" font-size="9.58" text-anchor="end" fill="#1e1e1e"  stroke="#1e1e1e" stroke-width="0.22">0</text>
<text x="32.2" y="178.74" font-size="9.58" text-anchor="end" fill="#1e1e1e"  stroke="#1e1e1e" stroke-width="0.22">20</text>
<text x="32.2" y="136.4" font-size="9.58" text-anchor="end" fill="#1e1e1e"  stroke="#1e1e1e" stroke-width="0.22">40</text>
<text x="32.2" y="94.06" font-size="9.58" text-anchor="end" fill="#1e1e1e"  stroke="#1e1e1e" stroke-width="0.22">60</text>
<text x="32.2" y="51.72" font-size="9.58" text-anchor="end" fill="#1e1e1e"  stroke="#1e1e1e" stroke-width="0.22">80</text>
<text x="32.2" y="9.38" font-size="9.58" text-anchor="end" fill="#1e1e1e"  stroke="#1e1e1e" stroke-width="0.22">100</text>
<text x="0" y="0" transform="translate(11.5,118) rotate(-90)" font-size="9.53" text-anchor="middle" fill="#1e1e1e"  stroke="#1e1e1e" stroke-width="0.22">Removal (%)</text>
<text x="178.7" y="260" font-size="9.68" text-anchor="middle" fill="#1e1e1e"  stroke="#1e1e1e" stroke-width="0.22">Time (min)</text>
<text x="46.9" y="23.2" font-size="12.77" text-anchor="start" fill="#1e1e1e" letter-spacing="0.35" stroke="#1e1e1e" stroke-width="0.22">(a)</text>
<rect x="162.2" y="168.7" width="5.4" height="5.4" fill="none" stroke="#333333" stroke-width="1.0"/>
<text x="178.5" y="174.7" font-size="9.6" text-anchor="start" fill="#222222"  stroke="#222222" stroke-width="0.22">Alloy@C (50% pVA) 350<tspan font-size="6.5" dy="-3.4">o</tspan><tspan dy="3.4">C</tspan></text>
<circle cx="164.9" cy="184.1" r="3" fill="none" stroke="#f22a2a" stroke-width="1.0"/>
<text x="178.5" y="187.4" font-size="9.6" text-anchor="start" fill="#ff2020"  stroke="#ff2020" stroke-width="0.22">Alloy@C (50% pVA) 450<tspan font-size="6.5" dy="-3.4">o</tspan><tspan dy="3.4">C</tspan></text>
<path d="M164.9 193.65L168.26 199.14L161.54 199.14Z" fill="none" stroke="#2a55f0" stroke-width="1.0"/>
<text x="178.5" y="200.1" font-size="9.6" text-anchor="start" fill="#2a2aff"  stroke="#2a2aff" stroke-width="0.22">Alloy@C (50% pVA) 550<tspan font-size="6.5" dy="-3.4">o</tspan><tspan dy="3.4">C</tspan></text>
<path d="M403.46 163.96L403.5 162.69L403.57 161.21L403.64 159.76L403.72 158.36L403.82 157L403.92 155.68L404.03 154.38L404.16 153.11L404.29 151.88L404.44 150.67L404.6 149.48L404.78 148.32L404.97 147.18L405.17 146.05L405.39 144.95L405.62 143.87L405.87 142.8L406.14 141.76L406.43 140.72L406.73 139.71L407.05 138.7L407.39 137.71L407.75 136.74L408.13 135.78L408.52 134.83L408.52 134.83L409.15 133.45L409.78 132.18L410.41 131.01L411.03 129.93L411.66 128.91L412.29 127.96L412.92 127.05L413.54 126.2L414.17 125.39L414.8 124.61L415.42 123.87L416.05 123.16L416.68 122.48L417.31 121.82L417.93 121.19L418.56 120.58L419.19 119.99L419.82 119.42L420.44 118.87L421.07 118.33L421.7 117.81L422.32 117.3L422.95 116.81L423.58 116.33L424.21 115.86L424.83 115.4L425.46 114.95L426.09 114.52L426.72 114.09L427.34 113.68L427.97 113.27L428.6 112.87L429.22 112.48L429.85 112.09L430.48 111.72L431.11 111.35L431.73 110.99L432.36 110.63L432.99 110.28L433.62 109.94L434.24 109.6L434.87 109.27L435.5 108.94L436.12 108.62L436.75 108.31L437.38 108L438.01 107.69L438.63 107.39L439.26 107.09L439.89 106.8L440.52 106.51L441.14 106.22L441.77 105.94L442.4 105.66L443.02 105.39L443.65 105.12L444.28 104.85L444.91 104.59L445.53 104.33L446.16 104.07L446.79 103.82L447.41 103.57L448.04 103.32L448.67 103.08L449.3 102.83L449.92 102.59L450.55 102.36L451.18 102.12L451.81 101.89L452.43 101.66L453.06 101.44L453.69 101.21L454.31 100.99L454.94 100.77L455.57 100.55L456.2 100.34L456.82 100.12L457.45 99.91L458.08 99.7L458.71 99.49L459.33 99.29L459.96 99.08L460.59 98.88L461.21 98.68L461.84 98.48L462.47 98.29L463.1 98.09L463.72 97.9L464.35 97.71L464.98 97.52L465.61 97.33L466.23 97.15L466.86 96.96L467.49 96.78L468.11 96.59L468.74 96.41L469.37 96.24L470 96.06L470.62 95.88L471.25 95.71L471.88 95.53L472.51 95.36L473.13 95.19L473.76 95.02L474.39 94.85L475.01 94.68L475.64 94.52L476.27 94.35L476.9 94.19L477.52 94.03L478.15 93.87L478.78 93.7L479.4 93.55L480.03 93.39L480.66 93.23L481.29 93.07L481.91 92.92L482.54 92.77L483.17 92.61L483.8 92.46L484.42 92.31L485.05 92.16L485.68 92.01L486.3 91.86L486.93 91.72L487.56 91.57L488.19 91.42L488.81 91.28L489.44 91.14L490.07 90.99L490.7 90.85L491.32 90.71L491.95 90.57L492.58 90.43L493.2 90.29L493.83 90.15L494.46 90.02L495.09 89.88L495.71 89.75L496.34 89.61L496.97 89.48L497.6 89.34L498.22 89.21L498.85 89.08L499.48 88.95L500.1 88.82L500.73 88.69L501.36 88.56L501.99 88.43L502.61 88.3L503.24 88.18L503.87 88.05L504.5 87.92L505.12 87.8L505.75 87.68L506.38 87.55L507 87.43L507.63 87.31L508.26 87.18L508.89 87.06L509.51 86.94L510.14 86.82L510.77 86.7L511.39 86.58L512.02 86.47L512.65 86.35L513.28 86.23L513.9 86.11L514.53 86L515.16 85.88L515.79 85.77L516.41 85.65L517.04 85.54L517.67 85.43L518.29 85.31L518.92 85.2L519.55 85.09L520.18 84.98L520.8 84.87L521.43 84.76L522.06 84.65L522.69 84.54L523.31 84.43L523.94 84.32L524.57 84.21L525.19 84.1L525.82 84L526.45 83.89L527.08 83.78L527.7 83.68L528.33 83.57L528.96 83.47L529.59 83.36L530.21 83.26L530.84 83.16L531.47 83.05L532.09 82.95L532.72 82.85L533.35 82.75L533.98 82.64L534.6 82.54L535.23 82.44L535.86 82.34L536.49 82.24L537.11 82.14L537.74 82.04L538.37 81.94L538.99 81.85L539.62 81.75L540.25 81.65L540.88 81.55L541.5 81.46L542.13 81.36L542.76 81.26L543.38 81.17L544.01 81.07L544.64 80.98L545.27 80.88L545.89 80.79L546.52 80.69L547.15 80.6L547.78 80.51L548.4 80.41L549.03 80.32L549.66 80.23L550.28 80.14L550.91 80.04L551.54 79.95L552.17 79.86L552.79 79.77L553.42 79.68L554.05 79.59L554.68 79.5L555.3 79.41L555.93 79.32L556.56 79.23L557.18 79.14L557.81 79.06L558.44 78.97L559.07 78.88L559.69 78.79L560.32 78.71L560.95 78.62L561.58 78.53L562.2 78.45L562.83 78.36L563.46 78.27L564.08 78.19L564.71 78.1L565.34 78.02L565.97 77.93L566.59 77.85L567.22 77.77L567.85 77.68L568.48 77.6L569.1 77.52L569.73 77.43L570.36 77.35L570.98 77.27L571.61 77.18L572.24 77.1L572.87 77.02L573.49 76.94L574.12 76.86L574.75 76.78L575.38 76.7L576 76.62L576.63 76.54L577.26 76.46L577.88 76.38L578.51 76.3L579.14 76.22L579.77 76.14L580.39 76.06L581.02 75.98L581.65 75.9L582.27 75.82L582.9 75.75L583.53 75.67L584.16 75.59L584.78 75.51L585.41 75.44L586.04 75.36L586.67 75.28L587.29 75.21L587.92 75.13L588.55 75.05L589.17 74.98L589.8 74.9L590.43 74.83L591.06 74.75L591.68 74.68L592.31 74.6L592.94 74.53L593.57 74.45L594.19 74.38L594.82 74.31L595.45 74.23L596.07 74.16L596.7 74.09L597.33 74.01L597.96 73.94L598.58 73.87L599.21 73.79L599.84 73.72L600.47 73.65L601.09 73.58L601.72 73.51L602.35 73.44L602.97 73.36L603.6 73.29L604.23 73.22L604.86 73.15L605.48 73.08L606.11 73.01L606.74 72.94L607.37 72.87L607.99 72.8L608.62 72.73L609.25 72.66L609.87 72.59L610.5 72.52L611.13 72.45L611.76 72.38L612.38 72.32L613.01 72.25L613.64 72.18L614.26 72.11L614.89 72.04L615.52 71.97L616.15 71.91L616.77 71.84L617.4 71.77L618.03 71.7L618.66 71.64L619.28 71.57L619.91 71.5L620.54 71.44L621.16 71.37L621.79 71.3L622.42 71.24L623.05 71.17L623.67 71.11L624.3 71.04L624.93 70.98L625.56 70.91L626.18 70.85L626.81 70.78L627.44 70.72L628.06 70.65L628.69 70.59L629.32 70.52L629.95 70.46L630.57 70.39L631.2 70.33L631.83 70.27L632.46 70.2L633.08 70.14L633.71 70.08L634.34 70.01L634.96 69.95L635.59 69.89L636.22 69.82L636.85 69.76L637.47 69.7L638.1 69.64L638.73 69.57L639.36 69.51L639.98 69.45L640.61 69.39L641.24 69.33L641.86 69.26L642.49 69.2L643.12 69.14L643.75 69.08L644.37 69.02L645 68.96L645.63 68.9L646.25 68.84L646.88 68.78L647.51 68.72L648.14 68.66L648.76 68.6L649.39 68.54L650.02 68.48L650.65 68.42L651.27 68.36L651.9 68.3L652.53 68.24L653.15 68.18L653.78 68.12L654.41 68.06L655.04 68L655.66 67.94L656.29 67.88L656.92 67.83L657.55 67.77L658.17 67.71L658.8 67.65" fill="none" stroke="#222222" stroke-width="1.1" stroke-dasharray="4.4 4.2" opacity="1.0"/>
<path d="M403.46 143.14L403.5 141.59L403.57 139.68L403.64 137.77L403.72 135.89L403.82 134.05L403.92 132.28L404.03 130.62L404.16 129.07L404.29 127.58L404.44 126.14L404.6 124.74L404.78 123.38L404.97 122.06L405.17 120.79L405.39 119.56L405.62 118.36L405.87 117.19L406.14 116.05L406.43 114.94L406.73 113.86L407.05 112.8L407.39 111.76L407.75 110.75L408.13 109.75L408.52 108.76L408.52 108.76L409.15 107.33L409.78 106L410.41 104.74L411.03 103.54L411.66 102.4L412.29 101.31L412.92 100.26L413.54 99.27L414.17 98.31L414.8 97.39L415.42 96.5L416.05 95.65L416.68 94.83L417.31 94.04L417.93 93.28L418.56 92.55L419.19 91.84L419.82 91.15L420.44 90.49L421.07 89.85L421.7 89.23L422.32 88.64L422.95 88.06L423.58 87.5L424.21 86.97L424.83 86.45L425.46 85.94L426.09 85.46L426.72 84.99L427.34 84.53L427.97 84.09L428.6 83.66L429.22 83.25L429.85 82.84L430.48 82.44L431.11 82.05L431.73 81.67L432.36 81.3L432.99 80.94L433.62 80.58L434.24 80.22L434.87 79.88L435.5 79.53L436.12 79.2L436.75 78.86L437.38 78.53L438.01 78.2L438.63 77.88L439.26 77.56L439.89 77.24L440.52 76.92L441.14 76.6L441.77 76.29L442.4 75.97L443.02 75.66L443.65 75.35L444.28 75.03L444.91 74.72L445.53 74.4L446.16 74.09L446.79 73.77L447.41 73.46L448.04 73.14L448.67 72.82L449.3 72.5L449.92 72.18L450.55 71.86L451.18 71.54L451.81 71.22L452.43 70.91L453.06 70.6L453.69 70.29L454.31 69.98L454.94 69.67L455.57 69.37L456.2 69.07L456.82 68.78L457.45 68.48L458.08 68.2L458.71 67.91L459.33 67.63L459.96 67.36L460.59 67.09L461.21 66.83L461.84 66.57L462.47 66.32L463.1 66.07L463.72 65.83L464.35 65.59L464.98 65.36L465.61 65.14L466.23 64.92L466.86 64.71L467.49 64.51L468.11 64.31L468.74 64.11L469.37 63.91L470 63.72L470.62 63.54L471.25 63.35L471.88 63.17L472.51 62.99L473.13 62.81L473.76 62.63L474.39 62.46L475.01 62.29L475.64 62.12L476.27 61.96L476.9 61.8L477.52 61.63L478.15 61.48L478.78 61.32L479.4 61.16L480.03 61.01L480.66 60.86L481.29 60.71L481.91 60.56L482.54 60.41L483.17 60.27L483.8 60.12L484.42 59.98L485.05 59.84L485.68 59.7L486.3 59.56L486.93 59.43L487.56 59.29L488.19 59.16L488.81 59.02L489.44 58.89L490.07 58.76L490.7 58.63L491.32 58.5L491.95 58.37L492.58 58.24L493.2 58.12L493.83 57.99L494.46 57.87L495.09 57.74L495.71 57.62L496.34 57.5L496.97 57.37L497.6 57.25L498.22 57.13L498.85 57.01L499.48 56.89L500.1 56.77L500.73 56.65L501.36 56.53L501.99 56.41L502.61 56.3L503.24 56.18L503.87 56.07L504.5 55.95L505.12 55.84L505.75 55.72L506.38 55.61L507 55.5L507.63 55.39L508.26 55.28L508.89 55.16L509.51 55.06L510.14 54.95L510.77 54.84L511.39 54.73L512.02 54.62L512.65 54.52L513.28 54.41L513.9 54.3L514.53 54.2L515.16 54.1L515.79 53.99L516.41 53.89L517.04 53.79L517.67 53.68L518.29 53.58L518.92 53.48L519.55 53.38L520.18 53.28L520.8 53.18L521.43 53.08L522.06 52.98L522.69 52.89L523.31 52.79L523.94 52.69L524.57 52.59L525.19 52.5L525.82 52.4L526.45 52.31L527.08 52.21L527.7 52.12L528.33 52.02L528.96 51.93L529.59 51.84L530.21 51.75L530.84 51.65L531.47 51.56L532.09 51.47L532.72 51.38L533.35 51.29L533.98 51.2L534.6 51.11L535.23 51.02L535.86 50.93L536.49 50.84L537.11 50.75L537.74 50.67L538.37 50.58L538.99 50.49L539.62 50.41L540.25 50.32L540.88 50.23L541.5 50.15L542.13 50.06L542.76 49.98L543.38 49.89L544.01 49.81L544.64 49.72L545.27 49.64L545.89 49.56L546.52 49.47L547.15 49.39L547.78 49.31L548.4 49.23L549.03 49.15L549.66 49.06L550.28 48.98L550.91 48.9L551.54 48.82L552.17 48.74L552.79 48.66L553.42 48.58L554.05 48.5L554.68 48.42L555.3 48.34L555.93 48.27L556.56 48.19L557.18 48.11L557.81 48.03L558.44 47.95L559.07 47.88L559.69 47.8L560.32 47.72L560.95 47.65L561.58 47.57L562.2 47.5L562.83 47.42L563.46 47.34L564.08 47.27L564.71 47.19L565.34 47.12L565.97 47.04L566.59 46.97L567.22 46.9L567.85 46.82L568.48 46.75L569.1 46.68L569.73 46.6L570.36 46.53L570.98 46.46L571.61 46.38L572.24 46.31L572.87 46.24L573.49 46.17L574.12 46.1L574.75 46.02L575.38 45.95L576 45.88L576.63 45.81L577.26 45.74L577.88 45.67L578.51 45.6L579.14 45.53L579.77 45.46L580.39 45.39L581.02 45.32L581.65 45.25L582.27 45.18L582.9 45.11L583.53 45.04L584.16 44.97L584.78 44.91L585.41 44.84L586.04 44.77L586.67 44.7L587.29 44.64L587.92 44.57L588.55 44.5L589.17 44.43L589.8 44.37L590.43 44.3L591.06 44.24L591.68 44.17L592.31 44.1L592.94 44.04L593.57 43.97L594.19 43.91L594.82 43.84L595.45 43.78L596.07 43.71L596.7 43.65L597.33 43.58L597.96 43.52L598.58 43.46L599.21 43.39L599.84 43.33L600.47 43.27L601.09 43.2L601.72 43.14L602.35 43.08L602.97 43.02L603.6 42.95L604.23 42.89L604.86 42.83L605.48 42.77L606.11 42.71L606.74 42.65L607.37 42.58L607.99 42.52L608.62 42.46L609.25 42.4L609.87 42.34L610.5 42.28L611.13 42.22L611.76 42.16L612.38 42.1L613.01 42.04L613.64 41.98L614.26 41.92L614.89 41.86L615.52 41.81L616.15 41.75L616.77 41.69L617.4 41.63L618.03 41.57L618.66 41.51L619.28 41.46L619.91 41.4L620.54 41.34L621.16 41.28L621.79 41.23L622.42 41.17L623.05 41.11L623.67 41.06L624.3 41L624.93 40.94L625.56 40.89L626.18 40.83L626.81 40.78L627.44 40.72L628.06 40.66L628.69 40.61L629.32 40.55L629.95 40.5L630.57 40.44L631.2 40.39L631.83 40.33L632.46 40.28L633.08 40.23L633.71 40.17L634.34 40.12L634.96 40.06L635.59 40.01L636.22 39.96L636.85 39.9L637.47 39.85L638.1 39.8L638.73 39.74L639.36 39.69L639.98 39.64L640.61 39.59L641.24 39.53L641.86 39.48L642.49 39.43L643.12 39.38L643.75 39.33L644.37 39.27L645 39.22L645.63 39.17L646.25 39.12L646.88 39.07L647.51 39.02L648.14 38.97L648.76 38.92L649.39 38.87L650.02 38.82L650.65 38.77L651.27 38.72L651.9 38.67L652.53 38.62L653.15 38.57L653.78 38.52L654.41 38.47L655.04 38.42L655.66 38.37L656.29 38.32L656.92 38.27L657.55 38.22L658.17 38.17L658.8 38.13" fill="none" stroke="#2f8f2f" stroke-width="1.1" stroke-dasharray="4.4 4.2" opacity="1.0"/>
<path d="M403.2 207.2L403.2 205.86L403.2 203.42L403.2 200.28L403.21 196.6L403.21 192.45L403.22 187.92L403.23 183.04L403.25 177.88L403.27 172.46L403.29 166.82L403.32 160.82L403.36 154.44L403.4 147.88L403.45 141.4L403.5 135.31L403.57 129.96L403.64 125.03L403.72 120.31L403.82 115.88L403.92 111.83L404.03 108.26L404.16 105.21L404.29 102.4L404.44 99.78L404.6 97.33L404.78 95.02L404.97 92.83L405.17 90.73L405.39 88.69L405.62 86.67L405.87 84.62L406.14 82.57L406.43 80.57L406.73 78.63L407.05 76.74L407.39 74.9L407.75 73.11L408.13 71.36L408.52 69.65L408.52 69.65L409.15 67.2L409.78 64.97L410.41 62.94L411.03 61.11L411.66 59.44L412.29 57.92L412.92 56.54L413.54 55.22L414.17 53.97L414.8 52.79L415.42 51.69L416.05 50.65L416.68 49.68L417.31 48.79L417.93 47.96L418.56 47.2L419.19 46.51L419.82 45.88L420.44 45.28L421.07 44.71L421.7 44.16L422.32 43.63L422.95 43.12L423.58 42.64L424.21 42.17L424.83 41.72L425.46 41.29L426.09 40.87L426.72 40.48L427.34 40.1L427.97 39.74L428.6 39.39L429.22 39.05L429.85 38.74L430.48 38.43L431.11 38.14L431.73 37.86L432.36 37.6L432.99 37.35L433.62 37.11L434.24 36.88L434.87 36.67L435.5 36.47L436.12 36.27L436.75 36.08L437.38 35.9L438.01 35.73L438.63 35.56L439.26 35.4L439.89 35.24L440.52 35.09L441.14 34.94L441.77 34.8L442.4 34.66L443.02 34.53L443.65 34.4L444.28 34.27L444.91 34.15L445.53 34.03L446.16 33.92L446.79 33.81L447.41 33.7L448.04 33.6L448.67 33.5L449.3 33.4L449.92 33.3L450.55 33.21L451.18 33.12L451.81 33.03L452.43 32.94L453.06 32.86L453.69 32.78L454.31 32.7L454.94 32.62L455.57 32.55L456.2 32.47L456.82 32.4L457.45 32.33L458.08 32.27L458.71 32.2L459.33 32.13L459.96 32.07L460.59 32.01L461.21 31.95L461.84 31.89L462.47 31.83L463.1 31.77L463.72 31.71L464.35 31.66L464.98 31.6L465.61 31.55L466.23 31.5L466.86 31.44L467.49 31.39L468.11 31.34L468.74 31.29L469.37 31.24L470 31.19L470.62 31.14L471.25 31.09L471.88 31.04L472.51 31L473.13 30.95L473.76 30.9L474.39 30.85L475.01 30.81L475.64 30.76L476.27 30.71L476.9 30.67L477.52 30.62L478.15 30.57L478.78 30.53L479.4 30.48L480.03 30.43L480.66 30.39L481.29 30.34L481.91 30.3L482.54 30.25L483.17 30.21L483.8 30.16L484.42 30.12L485.05 30.07L485.68 30.03L486.3 29.99L486.93 29.95L487.56 29.91L488.19 29.86L488.81 29.82L489.44 29.78L490.07 29.74L490.7 29.7L491.32 29.66L491.95 29.62L492.58 29.58L493.2 29.54L493.83 29.5L494.46 29.46L495.09 29.42L495.71 29.39L496.34 29.35L496.97 29.31L497.6 29.27L498.22 29.23L498.85 29.2L499.48 29.16L500.1 29.12L500.73 29.09L501.36 29.05L501.99 29.01L502.61 28.98L503.24 28.94L503.87 28.91L504.5 28.87L505.12 28.83L505.75 28.8L506.38 28.76L507 28.73L507.63 28.69L508.26 28.66L508.89 28.62L509.51 28.59L510.14 28.55L510.77 28.52L511.39 28.48L512.02 28.45L512.65 28.42L513.28 28.38L513.9 28.35L514.53 28.31L515.16 28.28L515.79 28.25L516.41 28.21L517.04 28.18L517.67 28.14L518.29 28.11L518.92 28.08L519.55 28.04L520.18 28.01L520.8 27.97L521.43 27.94L522.06 27.91L522.69 27.87L523.31 27.84L523.94 27.8L524.57 27.77L525.19 27.74L525.82 27.7L526.45 27.67L527.08 27.63L527.7 27.6L528.33 27.57L528.96 27.53L529.59 27.5L530.21 27.46L530.84 27.43L531.47 27.4L532.09 27.36L532.72 27.33L533.35 27.3L533.98 27.27L534.6 27.23L535.23 27.2L535.86 27.17L536.49 27.13L537.11 27.1L537.74 27.07L538.37 27.04L538.99 27L539.62 26.97L540.25 26.94L540.88 26.91L541.5 26.88L542.13 26.85L542.76 26.81L543.38 26.78L544.01 26.75L544.64 26.72L545.27 26.69L545.89 26.66L546.52 26.63L547.15 26.6L547.78 26.57L548.4 26.54L549.03 26.51L549.66 26.48L550.28 26.45L550.91 26.42L551.54 26.39L552.17 26.36L552.79 26.33L553.42 26.3L554.05 26.28L554.68 26.25L555.3 26.22L555.93 26.19L556.56 26.16L557.18 26.14L557.81 26.11L558.44 26.08L559.07 26.06L559.69 26.03L560.32 26L560.95 25.98L561.58 25.95L562.2 25.93L562.83 25.9L563.46 25.87L564.08 25.85L564.71 25.83L565.34 25.8L565.97 25.78L566.59 25.75L567.22 25.73L567.85 25.7L568.48 25.68L569.1 25.66L569.73 25.64L570.36 25.61L570.98 25.59L571.61 25.57L572.24 25.55L572.87 25.52L573.49 25.5L574.12 25.48L574.75 25.46L575.38 25.44L576 25.42L576.63 25.4L577.26 25.38L577.88 25.36L578.51 25.34L579.14 25.32L579.77 25.3L580.39 25.28L581.02 25.27L581.65 25.25L582.27 25.23L582.9 25.21L583.53 25.19L584.16 25.18L584.78 25.16L585.41 25.14L586.04 25.12L586.67 25.1L587.29 25.09L587.92 25.07L588.55 25.05L589.17 25.04L589.8 25.02L590.43 25L591.06 24.98L591.68 24.97L592.31 24.95L592.94 24.93L593.57 24.92L594.19 24.9L594.82 24.88L595.45 24.87L596.07 24.85L596.7 24.83L597.33 24.82L597.96 24.8L598.58 24.79L599.21 24.77L599.84 24.75L600.47 24.74L601.09 24.72L601.72 24.71L602.35 24.69L602.97 24.68L603.6 24.66L604.23 24.65L604.86 24.63L605.48 24.62L606.11 24.6L606.74 24.59L607.37 24.57L607.99 24.56L608.62 24.54L609.25 24.53L609.87 24.51L610.5 24.5L611.13 24.48L611.76 24.47L612.38 24.46L613.01 24.44L613.64 24.43L614.26 24.41L614.89 24.4L615.52 24.39L616.15 24.37L616.77 24.36L617.4 24.35L618.03 24.33L618.66 24.32L619.28 24.31L619.91 24.29L620.54 24.28L621.16 24.27L621.79 24.25L622.42 24.24L623.05 24.23L623.67 24.22L624.3 24.2L624.93 24.19L625.56 24.18L626.18 24.17L626.81 24.16L627.44 24.14L628.06 24.13L628.69 24.12L629.32 24.11L629.95 24.1L630.57 24.09L631.2 24.07L631.83 24.06L632.46 24.05L633.08 24.04L633.71 24.03L634.34 24.02L634.96 24.01L635.59 24L636.22 23.99L636.85 23.98L637.47 23.97L638.1 23.96L638.73 23.94L639.36 23.93L639.98 23.92L640.61 23.91L641.24 23.9L641.86 23.9L642.49 23.89L643.12 23.88L643.75 23.87L644.37 23.86L645 23.85L645.63 23.84L646.25 23.83L646.88 23.82L647.51 23.81L648.14 23.8L648.76 23.79L649.39 23.79L650.02 23.78L650.65 23.77L651.27 23.76L651.9 23.75L652.53 23.74L653.15 23.74L653.78 23.73L654.41 23.72L655.04 23.71L655.66 23.71L656.29 23.7L656.92 23.69L657.55 23.68L658.17 23.68L658.8 23.67" fill="none" stroke="#6a22e0" stroke-width="1.1" stroke-dasharray="4.4 4.2" opacity="1.0"/>
<path d="M403.66 139.13h4.4M403.66 129.49h4.4M405.86 139.13V136.71M405.86 129.49V131.91" stroke="#aaaaaa" stroke-width="0.8" fill="none" opacity="0.7"/>
<path d="M406.32 132.1h4.4M406.32 122.46h4.4M408.52 132.1V129.68M408.52 122.46V124.88" stroke="#aaaaaa" stroke-width="0.8" fill="none" opacity="0.7"/>
<path d="M408.99 138.73h4.4M408.99 129.09h4.4M411.19 138.73V136.31M411.19 129.09V131.51" stroke="#aaaaaa" stroke-width="0.8" fill="none" opacity="0.7"/>
<path d="M411.65 142.34h4.4M411.65 132.7h4.4M413.85 142.34V139.92M413.85 132.7V135.12" stroke="#aaaaaa" stroke-width="0.8" fill="none" opacity="0.7"/>
<path d="M416.98 130.29h4.4M416.98 120.66h4.4M419.18 130.29V127.87M419.18 120.66V123.07" stroke="#aaaaaa" stroke-width="0.8" fill="none" opacity="0.7"/>
<path d="M422.3 122.86h4.4M422.3 113.23h4.4M424.5 122.86V120.44M424.5 113.23V115.64" stroke="#aaaaaa" stroke-width="0.8" fill="none" opacity="0.7"/>
<path d="M432.95 120.45h4.4M432.95 110.82h4.4M435.15 120.45V118.04M435.15 110.82V113.24" stroke="#aaaaaa" stroke-width="0.8" fill="none" opacity="0.7"/>
<path d="M443.6 116.84h4.4M443.6 107.2h4.4M445.8 116.84V114.42M445.8 107.2V109.62" stroke="#aaaaaa" stroke-width="0.8" fill="none" opacity="0.7"/>
<path d="M454.25 99.37h4.4M454.25 89.73h4.4M456.45 99.37V96.95M456.45 89.73V92.15" stroke="#aaaaaa" stroke-width="0.8" fill="none" opacity="0.7"/>
<path d="M464.9 98.57h4.4M464.9 88.93h4.4M467.1 98.57V96.15M467.1 88.93V91.35" stroke="#aaaaaa" stroke-width="0.8" fill="none" opacity="0.7"/>
<path d="M475.55 92.14h4.4M475.55 82.5h4.4M477.75 92.14V89.72M477.75 82.5V84.92" stroke="#aaaaaa" stroke-width="0.8" fill="none" opacity="0.7"/>
<path d="M486.2 83.51h4.4M486.2 73.87h4.4M488.4 83.51V81.09M488.4 73.87V76.29" stroke="#aaaaaa" stroke-width="0.8" fill="none" opacity="0.7"/>
<path d="M656.6 77.88h4.4M656.6 68.25h4.4M658.8 77.88V75.47M658.8 68.25V70.67" stroke="#aaaaaa" stroke-width="0.8" fill="none" opacity="0.7"/>
<path d="M403.66 117.24h4.4M403.66 108.41h4.4M405.86 117.24V115.52M405.86 108.41V110.12" stroke="#ff9090" stroke-width="0.8" fill="none" opacity="0.7"/>
<path d="M406.32 114.23h4.4M406.32 105.39h4.4M408.52 114.23V112.51M408.52 105.39V107.11" stroke="#ff9090" stroke-width="0.8" fill="none" opacity="0.7"/>
<path d="M408.99 98.37h4.4M408.99 89.53h4.4M411.19 98.37V96.65M411.19 89.53V91.25" stroke="#ff9090" stroke-width="0.8" fill="none" opacity="0.7"/>
<path d="M411.65 94.15h4.4M411.65 85.31h4.4M413.85 94.15V92.43M413.85 85.31V87.03" stroke="#ff9090" stroke-width="0.8" fill="none" opacity="0.7"/>
<path d="M416.98 93.55h4.4M416.98 84.71h4.4M419.18 93.55V91.83M419.18 84.71V86.43" stroke="#ff9090" stroke-width="0.8" fill="none" opacity="0.7"/>
<path d="M422.3 93.15h4.4M422.3 84.31h4.4M424.5 93.15V91.43M424.5 84.31V86.03" stroke="#ff9090" stroke-width="0.8" fill="none" opacity="0.7"/>
<path d="M432.95 85.11h4.4M432.95 76.28h4.4M435.15 85.11V83.4M435.15 76.28V78" stroke="#ff9090" stroke-width="0.8" fill="none" opacity="0.7"/>
<path d="M443.6 78.69h4.4M443.6 69.85h4.4M445.8 78.69V76.97M445.8 69.85V71.57" stroke="#ff9090" stroke-width="0.8" fill="none" opacity="0.7"/>
<path d="M454.25 66.24h4.4M454.25 57.4h4.4M456.45 66.24V64.52M456.45 57.4V59.12" stroke="#ff9090" stroke-width="0.8" fill="none" opacity="0.7"/>
<path d="M464.9 64.23h4.4M464.9 55.4h4.4M467.1 64.23V62.51M467.1 55.4V57.11" stroke="#ff9090" stroke-width="0.8" fill="none" opacity="0.7"/>
<path d="M475.55 60.21h4.4M475.55 51.38h4.4M477.75 60.21V58.5M477.75 51.38V53.1" stroke="#ff9090" stroke-width="0.8" fill="none" opacity="0.7"/>
<path d="M486.2 53.59h4.4M486.2 44.75h4.4M488.4 53.59V51.87M488.4 44.75V46.47" stroke="#ff9090" stroke-width="0.8" fill="none" opacity="0.7"/>
<path d="M656.6 40.94h4.4M656.6 32.1h4.4M658.8 40.94V39.22M658.8 32.1V33.82" stroke="#ff9090" stroke-width="0.8" fill="none" opacity="0.7"/>
<path d="M403.66 85.11h4.4M403.66 76.28h4.4M405.86 85.11V83.4M405.86 76.28V78" stroke="#88aaff" stroke-width="0.8" fill="none" opacity="0.7"/>
<path d="M406.32 70.86h4.4M406.32 62.02h4.4M408.52 70.86V69.14M408.52 62.02V63.74" stroke="#88aaff" stroke-width="0.8" fill="none" opacity="0.7"/>
<path d="M408.99 78.89h4.4M408.99 70.05h4.4M411.19 78.89V77.17M411.19 70.05V71.77" stroke="#88aaff" stroke-width="0.8" fill="none" opacity="0.7"/>
<path d="M411.65 59.81h4.4M411.65 50.98h4.4M413.85 59.81V58.1M413.85 50.98V52.7" stroke="#88aaff" stroke-width="0.8" fill="none" opacity="0.7"/>
<path d="M416.98 47.16h4.4M416.98 38.33h4.4M419.18 47.16V45.44M419.18 38.33V40.04" stroke="#88aaff" stroke-width="0.8" fill="none" opacity="0.7"/>
<path d="M422.3 43.55h4.4M422.3 34.71h4.4M424.5 43.55V41.83M424.5 34.71V36.43" stroke="#88aaff" stroke-width="0.8" fill="none" opacity="0.7"/>
<path d="M432.95 40.13h4.4M432.95 31.3h4.4M435.15 40.13V38.42M435.15 31.3V33.02" stroke="#88aaff" stroke-width="0.8" fill="none" opacity="0.7"/>
<path d="M443.6 37.32h4.4M443.6 28.49h4.4M445.8 37.32V35.61M445.8 28.49V30.21" stroke="#88aaff" stroke-width="0.8" fill="none" opacity="0.7"/>
<path d="M454.25 38.73h4.4M454.25 29.89h4.4M456.45 38.73V37.01M456.45 29.89V31.61" stroke="#88aaff" stroke-width="0.8" fill="none" opacity="0.7"/>
<path d="M464.9 34.31h4.4M464.9 25.48h4.4M467.1 34.31V32.59M467.1 25.48V27.19" stroke="#88aaff" stroke-width="0.8" fill="none" opacity="0.7"/>
<path d="M475.55 33.91h4.4M475.55 25.07h4.4M477.75 33.91V32.19M477.75 25.07V26.79" stroke="#88aaff" stroke-width="0.8" fill="none" opacity="0.7"/>
<path d="M486.2 33.91h4.4M486.2 25.07h4.4M488.4 33.91V32.19M488.4 25.07V26.79" stroke="#88aaff" stroke-width="0.8" fill="none" opacity="0.7"/>
<path d="M656.6 31.7h4.4M656.6 22.87h4.4M658.8 31.7V29.98M658.8 22.87V24.58" stroke="#88aaff" stroke-width="0.8" fill="none" opacity="0.7"/>
<rect x="400.9" y="204.9" width="4.6" height="4.6" fill="none" stroke="#6a6a6a" stroke-width="0.9"/>
<rect x="403.56" y="132.01" width="4.6" height="4.6" fill="none" stroke="#6a6a6a" stroke-width="0.9"/>
<rect x="406.22" y="124.98" width="4.6" height="4.6" fill="none" stroke="#6a6a6a" stroke-width="0.9"/>
<rect x="408.89" y="131.61" width="4.6" height="4.6" fill="none" stroke="#6a6a6a" stroke-width="0.9"/>
<rect x="411.55" y="135.22" width="4.6" height="4.6" fill="none" stroke="#6a6a6a" stroke-width="0.9"/>
<rect x="416.88" y="123.17" width="4.6" height="4.6" fill="none" stroke="#6a6a6a" stroke-width="0.9"/>
<rect x="422.2" y="115.74" width="4.6" height="4.6" fill="none" stroke="#6a6a6a" stroke-width="0.9"/>
<rect x="432.85" y="113.34" width="4.6" height="4.6" fill="none" stroke="#6a6a6a" stroke-width="0.9"/>
<rect x="443.5" y="109.72" width="4.6" height="4.6" fill="none" stroke="#6a6a6a" stroke-width="0.9"/>
<rect x="454.15" y="92.25" width="4.6" height="4.6" fill="none" stroke="#6a6a6a" stroke-width="0.9"/>
<rect x="464.8" y="91.45" width="4.6" height="4.6" fill="none" stroke="#6a6a6a" stroke-width="0.9"/>
<rect x="475.45" y="85.02" width="4.6" height="4.6" fill="none" stroke="#6a6a6a" stroke-width="0.9"/>
<rect x="486.1" y="76.39" width="4.6" height="4.6" fill="none" stroke="#6a6a6a" stroke-width="0.9"/>
<rect x="656.5" y="70.77" width="4.6" height="4.6" fill="none" stroke="#6a6a6a" stroke-width="0.9"/>
<circle cx="403.2" cy="207.2" r="2.6" fill="none" stroke="#ff5a5a" stroke-width="0.9"/>
<circle cx="405.86" cy="112.82" r="2.6" fill="none" stroke="#ff5a5a" stroke-width="0.9"/>
<circle cx="408.52" cy="109.81" r="2.6" fill="none" stroke="#ff5a5a" stroke-width="0.9"/>
<circle cx="411.19" cy="93.95" r="2.6" fill="none" stroke="#ff5a5a" stroke-width="0.9"/>
<circle cx="413.85" cy="89.73" r="2.6" fill="none" stroke="#ff5a5a" stroke-width="0.9"/>
<circle cx="419.18" cy="89.13" r="2.6" fill="none" stroke="#ff5a5a" stroke-width="0.9"/>
<circle cx="424.5" cy="88.73" r="2.6" fill="none" stroke="#ff5a5a" stroke-width="0.9"/>
<circle cx="435.15" cy="80.7" r="2.6" fill="none" stroke="#ff5a5a" stroke-width="0.9"/>
<circle cx="445.8" cy="74.27" r="2.6" fill="none" stroke="#ff5a5a" stroke-width="0.9"/>
<circle cx="456.45" cy="61.82" r="2.6" fill="none" stroke="#ff5a5a" stroke-width="0.9"/>
<circle cx="467.1" cy="59.81" r="2.6" fill="none" stroke="#ff5a5a" stroke-width="0.9"/>
<circle cx="477.75" cy="55.8" r="2.6" fill="none" stroke="#ff5a5a" stroke-width="0.9"/>
<circle cx="488.4" cy="49.17" r="2.6" fill="none" stroke="#ff5a5a" stroke-width="0.9"/>
<circle cx="658.8" cy="36.52" r="2.6" fill="none" stroke="#ff5a5a" stroke-width="0.9"/>
<path d="M403.2 204.36L406.22 209.31L400.18 209.31Z" fill="none" stroke="#4a7aff" stroke-width="0.9"/>
<path d="M405.86 77.86L408.89 82.8L402.84 82.8Z" fill="none" stroke="#4a7aff" stroke-width="0.9"/>
<path d="M408.52 63.6L411.55 68.55L405.5 68.55Z" fill="none" stroke="#4a7aff" stroke-width="0.9"/>
<path d="M411.19 71.64L414.21 76.58L408.16 76.58Z" fill="none" stroke="#4a7aff" stroke-width="0.9"/>
<path d="M413.85 52.56L416.87 57.5L410.83 57.5Z" fill="none" stroke="#4a7aff" stroke-width="0.9"/>
<path d="M419.18 39.91L422.2 44.85L416.15 44.85Z" fill="none" stroke="#4a7aff" stroke-width="0.9"/>
<path d="M424.5 36.3L427.52 41.24L421.48 41.24Z" fill="none" stroke="#4a7aff" stroke-width="0.9"/>
<path d="M435.15 32.88L438.17 37.82L432.13 37.82Z" fill="none" stroke="#4a7aff" stroke-width="0.9"/>
<path d="M445.8 30.07L448.82 35.01L442.78 35.01Z" fill="none" stroke="#4a7aff" stroke-width="0.9"/>
<path d="M456.45 31.48L459.47 36.42L453.43 36.42Z" fill="none" stroke="#4a7aff" stroke-width="0.9"/>
<path d="M467.1 27.06L470.12 32L464.08 32Z" fill="none" stroke="#4a7aff" stroke-width="0.9"/>
<path d="M477.75 26.66L480.77 31.6L474.73 31.6Z" fill="none" stroke="#4a7aff" stroke-width="0.9"/>
<path d="M488.4 26.66L491.42 31.6L485.38 31.6Z" fill="none" stroke="#4a7aff" stroke-width="0.9"/>
<path d="M658.8 24.45L661.82 29.39L655.78 29.39Z" fill="none" stroke="#4a7aff" stroke-width="0.9"/>
<rect x="394.6" y="6.4" width="275.2" height="220.9" fill="none" stroke="#2a2a2a" stroke-width="1.2"/>
<path d="M403.2 227.3V231.3M438.7 227.3V231.3M474.2 227.3V231.3M509.7 227.3V231.3M545.2 227.3V231.3M580.7 227.3V231.3M616.2 227.3V231.3M651.7 227.3V231.3M420.95 227.3V229.5M456.45 227.3V229.5M491.95 227.3V229.5M527.45 227.3V229.5M562.95 227.3V229.5M598.45 227.3V229.5M633.95 227.3V229.5M669.45 227.3V229.5" stroke="#2a2a2a" stroke-width="1.0" fill="none"/>
<text x="403.2" y="242.3" font-size="9.27" text-anchor="middle" fill="#1e1e1e"  stroke="#1e1e1e" stroke-width="0.22">0</text>
<text x="438.7" y="242.3" font-size="9.27" text-anchor="middle" fill="#1e1e1e"  stroke="#1e1e1e" stroke-width="0.22">200</text>
<text x="474.2" y="242.3" font-size="9.27" text-anchor="middle" fill="#1e1e1e"  stroke="#1e1e1e" stroke-width="0.22">400</text>
<text x="509.7" y="242.3" font-size="9.27" text-anchor="middle" fill="#1e1e1e"  stroke="#1e1e1e" stroke-width="0.22">600</text>
<text x="545.2" y="242.3" font-size="9.27" text-anchor="middle" fill="#1e1e1e"  stroke="#1e1e1e" stroke-width="0.22">800</text>
<text x="580.7" y="242.3" font-size="9.27" text-anchor="middle" fill="#1e1e1e"  stroke="#1e1e1e" stroke-width="0.22">1000</text>
<text x="616.2" y="242.3" font-size="9.27" text-anchor="middle" fill="#1e1e1e"  stroke="#1e1e1e" stroke-width="0.22">1200</text>
<text x="651.7" y="242.3" font-size="9.27" text-anchor="middle" fill="#1e1e1e"  stroke="#1e1e1e" stroke-width="0.22">1400</text>
<path d="M394.6 207.2H390.6M394.6 167.04H390.6M394.6 126.88H390.6M394.6 86.72H390.6M394.6 46.56H390.6M394.6 6.4H390.6M394.6 227.28H392.4M394.6 187.12H392.4M394.6 146.96H392.4M394.6 106.8H392.4M394.6 66.64H392.4M394.6 26.48H392.4" stroke="#2a2a2a" stroke-width="1.0" fill="none"/>
<text x="386.7" y="209.99" font-size="9.27" text-anchor="end" fill="#1e1e1e"  stroke="#1e1e1e" stroke-width="0.22">0</text>
<text x="386.7" y="169.83" font-size="9.27" text-anchor="end" fill="#1e1e1e"  stroke="#1e1e1e" stroke-width="0.22">20</text>
<text x="386.7" y="129.67" font-size="9.27" text-anchor="end" fill="#1e1e1e"  stroke="#1e1e1e" stroke-width="0.22">40</text>
<text x="386.7" y="89.51" font-size="9.27" text-anchor="end" fill="#1e1e1e"  stroke="#1e1e1e" stroke-width="0.22">60</text>
<text x="386.7" y="49.35" font-size="9.27" text-anchor="end" fill="#1e1e1e"  stroke="#1e1e1e" stroke-width="0.22">80</text>
<text x="386.7" y="9.19" font-size="9.27" text-anchor="end" fill="#1e1e1e"  stroke="#1e1e1e" stroke-width="0.22">100</text>
<text x="0" y="0" transform="translate(366.8,115.7) rotate(-90)" font-size="9.68" text-anchor="middle" fill="#1e1e1e"  stroke="#1e1e1e" stroke-width="0.22">Removal (%)</text>
<text x="532" y="259.8" font-size="11.74" text-anchor="middle" fill="#1e1e1e"  stroke="#1e1e1e" stroke-width="0.22">Time (min)</text>
<text x="409.9" y="23.6" font-size="12.57" text-anchor="start" fill="#1e1e1e" letter-spacing="0.35" stroke="#1e1e1e" stroke-width="0.22">(b)</text>
<rect x="526.5" y="187.6" width="4.4" height="4.4" fill="none" stroke="#777777" stroke-width="0.9"/>
<text x="544.6" y="193" font-size="9.42" text-anchor="start" fill="#222222"  stroke="#222222" stroke-width="0.22">Annealed alloy 550<tspan font-size="6.5" dy="-3.4">o</tspan><tspan dy="3.4">C</tspan></text>
<circle cx="528.7" cy="201.3" r="2.5" fill="none" stroke="#ff6a6a" stroke-width="0.9"/>
<text x="544.6" y="204.5" font-size="9.42" text-anchor="start" fill="#ff2020"  stroke="#ff2020" stroke-width="0.22">Alloy@C (50% PVA) 550<tspan font-size="6.5" dy="-3.4">o</tspan><tspan dy="3.4">C</tspan></text>
<path d="M528.7 210.18L531.5 214.75L525.9 214.75Z" fill="none" stroke="#5a8aff" stroke-width="0.9"/>
<text x="544.6" y="216" font-size="9.42" text-anchor="start" fill="#2a2aff"  stroke="#2a2aff" stroke-width="0.22">Alloy@C (66% PVA) 550<tspan font-size="6.5" dy="-3.4">o</tspan><tspan dy="3.4">C</tspan></text>
<path d="M46.3 352.88L46.3 352.28L46.3 351.19L46.31 349.8L46.33 348.21L46.35 346.45L46.39 344.58L46.44 342.64L46.51 340.65L46.61 338.65L46.72 336.68L46.86 334.66L47.02 332.62L47.22 330.71L47.45 329.14L47.71 328.01L48.02 327.02L48.36 326.13L48.74 325.36L49.17 324.72L49.65 324.22L50.18 323.78L50.76 323.36L51.4 322.97L52.09 322.63L52.84 322.35L53.66 322.15L54.54 322.04L55.49 321.99L56.52 321.94L57.61 321.9L58.78 321.86L60.03 321.83L61.35 321.8L62.76 321.77L64.26 321.74L65.84 321.72L67.52 321.7L69.28 321.68L71.15 321.67L71.15 321.67L71.71 321.66L72.27 321.66L72.83 321.65L73.39 321.65L73.95 321.65L74.51 321.64L75.07 321.64L75.63 321.63L76.19 321.63L76.75 321.62L77.31 321.62L77.87 321.62L78.43 321.61L78.99 321.61L79.55 321.6L80.11 321.6L80.67 321.6L81.23 321.59L81.79 321.59L82.35 321.58L82.92 321.58L83.48 321.57L84.04 321.57L84.6 321.56L85.16 321.56L85.72 321.55L86.28 321.55L86.84 321.54L87.4 321.54L87.96 321.53L88.52 321.52L89.08 321.52L89.64 321.51L90.2 321.51L90.76 321.5L91.32 321.49L91.88 321.49L92.44 321.48L93 321.47L93.56 321.46L94.12 321.46L94.68 321.45L95.24 321.44L95.81 321.43L96.37 321.42L96.93 321.42L97.49 321.41L98.05 321.4L98.61 321.39L99.17 321.38L99.73 321.37L100.29 321.36L100.85 321.35L101.41 321.34L101.97 321.33L102.53 321.32L103.09 321.31L103.65 321.3L104.21 321.29L104.77 321.28L105.33 321.27L105.89 321.26L106.45 321.25L107.01 321.24L107.57 321.23L108.13 321.22L108.7 321.2L109.26 321.19L109.82 321.18L110.38 321.17L110.94 321.16L111.5 321.15L112.06 321.13L112.62 321.12L113.18 321.11L113.74 321.1L114.3 321.09L114.86 321.08L115.42 321.06L115.98 321.05L116.54 321.04L117.1 321.03L117.66 321.01L118.22 321L118.78 320.99L119.34 320.98L119.9 320.97L120.46 320.95L121.02 320.94L121.59 320.93L122.15 320.92L122.71 320.9L123.27 320.89L123.83 320.88L124.39 320.87L124.95 320.85L125.51 320.84L126.07 320.83L126.63 320.82L127.19 320.8L127.75 320.79L128.31 320.78L128.87 320.77L129.43 320.75L129.99 320.74L130.55 320.73L131.11 320.72L131.67 320.7L132.23 320.69L132.79 320.68L133.35 320.67L133.91 320.65L134.48 320.64L135.04 320.63L135.6 320.62L136.16 320.6L136.72 320.59L137.28 320.58L137.84 320.57L138.4 320.56L138.96 320.54L139.52 320.53L140.08 320.52L140.64 320.51L141.2 320.5L141.76 320.48L142.32 320.47L142.88 320.46L143.44 320.45L144 320.44L144.56 320.42L145.12 320.41L145.68 320.4L146.24 320.39L146.8 320.38L147.37 320.37L147.93 320.35L148.49 320.34L149.05 320.33L149.61 320.32L150.17 320.31L150.73 320.3L151.29 320.29L151.85 320.28L152.41 320.26L152.97 320.25L153.53 320.24L154.09 320.23L154.65 320.22L155.21 320.21L155.77 320.2L156.33 320.19L156.89 320.18L157.45 320.17L158.01 320.16L158.57 320.15L159.13 320.14L159.69 320.13L160.26 320.12L160.82 320.11L161.38 320.1L161.94 320.09L162.5 320.08L163.06 320.07L163.62 320.06L164.18 320.05L164.74 320.04L165.3 320.03L165.86 320.02L166.42 320.01L166.98 320L167.54 319.99L168.1 319.98L168.66 319.97L169.22 319.96L169.78 319.95L170.34 319.94L170.9 319.93L171.46 319.93L172.02 319.92L172.58 319.91L173.15 319.9L173.71 319.89L174.27 319.88L174.83 319.87L175.39 319.87L175.95 319.86L176.51 319.85L177.07 319.84L177.63 319.83L178.19 319.83L178.75 319.82L179.31 319.81L179.87 319.8L180.43 319.8L180.99 319.79L181.55 319.78L182.11 319.77L182.67 319.76L183.23 319.76L183.79 319.75L184.35 319.74L184.91 319.73L185.47 319.73L186.04 319.72L186.6 319.71L187.16 319.7L187.72 319.7L188.28 319.69L188.84 319.68L189.4 319.68L189.96 319.67L190.52 319.66L191.08 319.65L191.64 319.65L192.2 319.64L192.76 319.63L193.32 319.63L193.88 319.62L194.44 319.61L195 319.6L195.56 319.6L196.12 319.59L196.68 319.58L197.24 319.58L197.8 319.57L198.36 319.56L198.93 319.55L199.49 319.55L200.05 319.54L200.61 319.53L201.17 319.53L201.73 319.52L202.29 319.51L202.85 319.51L203.41 319.5L203.97 319.49L204.53 319.49L205.09 319.48L205.65 319.47L206.21 319.47L206.77 319.46L207.33 319.45L207.89 319.45L208.45 319.44L209.01 319.43L209.57 319.43L210.13 319.42L210.69 319.41L211.26 319.41L211.82 319.4L212.38 319.39L212.94 319.39L213.5 319.38L214.06 319.37L214.62 319.37L215.18 319.36L215.74 319.36L216.3 319.35L216.86 319.34L217.42 319.34L217.98 319.33L218.54 319.32L219.1 319.32L219.66 319.31L220.22 319.3L220.78 319.3L221.34 319.29L221.9 319.29L222.46 319.28L223.02 319.27L223.58 319.27L224.15 319.26L224.71 319.26L225.27 319.25L225.83 319.24L226.39 319.24L226.95 319.23L227.51 319.23L228.07 319.22L228.63 319.21L229.19 319.21L229.75 319.2L230.31 319.2L230.87 319.19L231.43 319.18L231.99 319.18L232.55 319.17L233.11 319.17L233.67 319.16L234.23 319.15L234.79 319.15L235.35 319.14L235.91 319.14L236.47 319.13L237.04 319.13L237.6 319.12L238.16 319.11L238.72 319.11L239.28 319.1L239.84 319.1L240.4 319.09L240.96 319.09L241.52 319.08L242.08 319.07L242.64 319.07L243.2 319.06L243.76 319.06L244.32 319.05L244.88 319.05L245.44 319.04L246 319.04L246.56 319.03L247.12 319.02L247.68 319.02L248.24 319.01L248.8 319.01L249.36 319L249.93 319L250.49 318.99L251.05 318.99L251.61 318.98L252.17 318.98L252.73 318.97L253.29 318.97L253.85 318.96L254.41 318.96L254.97 318.95L255.53 318.94L256.09 318.94L256.65 318.93L257.21 318.93L257.77 318.92L258.33 318.92L258.89 318.91L259.45 318.91L260.01 318.9L260.57 318.9L261.13 318.89L261.69 318.89L262.25 318.88L262.82 318.88L263.38 318.87L263.94 318.87L264.5 318.86L265.06 318.86L265.62 318.85L266.18 318.85L266.74 318.84L267.3 318.84L267.86 318.83L268.42 318.83L268.98 318.82L269.54 318.82L270.1 318.81L270.66 318.81L271.22 318.8L271.78 318.8L272.34 318.79L272.9 318.79L273.46 318.78L274.02 318.78L274.58 318.77L275.14 318.77L275.71 318.76L276.27 318.76L276.83 318.75L277.39 318.75L277.95 318.74L278.51 318.74L279.07 318.74L279.63 318.73L280.19 318.73L280.75 318.72L281.31 318.72L281.87 318.71L282.43 318.71L282.99 318.7L283.55 318.7L284.11 318.69L284.67 318.69L285.23 318.68L285.79 318.68L286.35 318.68L286.91 318.67L287.47 318.67L288.03 318.66L288.6 318.66L289.16 318.65L289.72 318.65L290.28 318.64L290.84 318.64L291.4 318.63L291.96 318.63L292.52 318.63L293.08 318.62L293.64 318.62L294.2 318.61L294.76 318.61" fill="none" stroke="#3a7aff" stroke-width="1.1" stroke-dasharray="4 3.5" opacity="1.0"/>
<path d="M46.3 494L46.3 493.85L46.3 493.53L46.31 493.01L46.33 492.28L46.35 491.28L46.39 489.99L46.44 488.39L46.51 486.47L46.61 484.22L46.72 481.66L46.86 478.79L47.02 475.66L47.22 472.2L47.45 467.7L47.71 462.22L48.02 456.09L48.36 449.61L48.74 442.34L49.17 434.35L49.65 425.89L50.18 417.29L50.76 408.58L51.4 398.8L52.09 389.01L52.84 380.71L53.66 375.32L54.54 371.32L55.49 367.98L56.52 365.09L57.61 362.45L58.78 359.81L60.03 357.11L61.35 354.45L62.76 351.88L64.26 349.46L65.84 347.24L67.52 345.3L69.28 343.68L71.15 342.18L71.15 342.18L71.71 341.75L72.27 341.34L72.83 340.93L73.39 340.54L73.95 340.15L74.51 339.78L75.07 339.41L75.63 339.06L76.19 338.71L76.75 338.37L77.31 338.04L77.87 337.72L78.43 337.4L78.99 337.09L79.55 336.79L80.11 336.5L80.67 336.22L81.23 335.94L81.79 335.67L82.35 335.4L82.92 335.14L83.48 334.89L84.04 334.64L84.6 334.4L85.16 334.17L85.72 333.94L86.28 333.72L86.84 333.5L87.4 333.29L87.96 333.08L88.52 332.88L89.08 332.68L89.64 332.49L90.2 332.3L90.76 332.12L91.32 331.94L91.88 331.77L92.44 331.6L93 331.44L93.56 331.28L94.12 331.12L94.68 330.97L95.24 330.82L95.81 330.68L96.37 330.54L96.93 330.4L97.49 330.27L98.05 330.14L98.61 330.02L99.17 329.9L99.73 329.78L100.29 329.66L100.85 329.55L101.41 329.44L101.97 329.33L102.53 329.22L103.09 329.12L103.65 329.01L104.21 328.91L104.77 328.8L105.33 328.7L105.89 328.6L106.45 328.5L107.01 328.4L107.57 328.3L108.13 328.21L108.7 328.11L109.26 328.02L109.82 327.92L110.38 327.83L110.94 327.74L111.5 327.65L112.06 327.56L112.62 327.47L113.18 327.38L113.74 327.3L114.3 327.21L114.86 327.13L115.42 327.04L115.98 326.96L116.54 326.88L117.1 326.8L117.66 326.72L118.22 326.64L118.78 326.56L119.34 326.48L119.9 326.4L120.46 326.33L121.02 326.25L121.59 326.18L122.15 326.1L122.71 326.03L123.27 325.96L123.83 325.89L124.39 325.82L124.95 325.75L125.51 325.68L126.07 325.61L126.63 325.54L127.19 325.48L127.75 325.41L128.31 325.34L128.87 325.28L129.43 325.22L129.99 325.15L130.55 325.09L131.11 325.03L131.67 324.97L132.23 324.91L132.79 324.85L133.35 324.79L133.91 324.73L134.48 324.67L135.04 324.61L135.6 324.56L136.16 324.5L136.72 324.44L137.28 324.39L137.84 324.33L138.4 324.28L138.96 324.23L139.52 324.17L140.08 324.12L140.64 324.07L141.2 324.02L141.76 323.97L142.32 323.92L142.88 323.87L143.44 323.82L144 323.77L144.56 323.72L145.12 323.68L145.68 323.63L146.24 323.58L146.8 323.54L147.37 323.49L147.93 323.45L148.49 323.4L149.05 323.36L149.61 323.32L150.17 323.28L150.73 323.23L151.29 323.19L151.85 323.15L152.41 323.11L152.97 323.07L153.53 323.03L154.09 322.99L154.65 322.95L155.21 322.91L155.77 322.87L156.33 322.84L156.89 322.8L157.45 322.76L158.01 322.73L158.57 322.69L159.13 322.66L159.69 322.62L160.26 322.59L160.82 322.55L161.38 322.52L161.94 322.49L162.5 322.45L163.06 322.42L163.62 322.39L164.18 322.36L164.74 322.33L165.3 322.29L165.86 322.26L166.42 322.23L166.98 322.2L167.54 322.18L168.1 322.15L168.66 322.12L169.22 322.09L169.78 322.06L170.34 322.03L170.9 322.01L171.46 321.98L172.02 321.95L172.58 321.93L173.15 321.9L173.71 321.88L174.27 321.85L174.83 321.83L175.39 321.8L175.95 321.78L176.51 321.76L177.07 321.73L177.63 321.71L178.19 321.69L178.75 321.67L179.31 321.64L179.87 321.62L180.43 321.6L180.99 321.58L181.55 321.56L182.11 321.54L182.67 321.52L183.23 321.5L183.79 321.47L184.35 321.45L184.91 321.43L185.47 321.41L186.04 321.39L186.6 321.37L187.16 321.35L187.72 321.33L188.28 321.31L188.84 321.29L189.4 321.27L189.96 321.25L190.52 321.23L191.08 321.21L191.64 321.19L192.2 321.17L192.76 321.15L193.32 321.13L193.88 321.11L194.44 321.09L195 321.07L195.56 321.05L196.12 321.03L196.68 321.01L197.24 320.99L197.8 320.97L198.36 320.95L198.93 320.93L199.49 320.92L200.05 320.9L200.61 320.88L201.17 320.86L201.73 320.84L202.29 320.82L202.85 320.8L203.41 320.78L203.97 320.77L204.53 320.75L205.09 320.73L205.65 320.71L206.21 320.69L206.77 320.68L207.33 320.66L207.89 320.64L208.45 320.62L209.01 320.61L209.57 320.59L210.13 320.57L210.69 320.55L211.26 320.54L211.82 320.52L212.38 320.5L212.94 320.49L213.5 320.47L214.06 320.45L214.62 320.44L215.18 320.42L215.74 320.4L216.3 320.39L216.86 320.37L217.42 320.36L217.98 320.34L218.54 320.32L219.1 320.31L219.66 320.29L220.22 320.28L220.78 320.26L221.34 320.25L221.9 320.23L222.46 320.22L223.02 320.2L223.58 320.19L224.15 320.17L224.71 320.16L225.27 320.14L225.83 320.13L226.39 320.11L226.95 320.1L227.51 320.08L228.07 320.07L228.63 320.06L229.19 320.04L229.75 320.03L230.31 320.02L230.87 320L231.43 319.99L231.99 319.98L232.55 319.96L233.11 319.95L233.67 319.94L234.23 319.92L234.79 319.91L235.35 319.9L235.91 319.88L236.47 319.87L237.04 319.86L237.6 319.85L238.16 319.84L238.72 319.82L239.28 319.81L239.84 319.8L240.4 319.79L240.96 319.78L241.52 319.77L242.08 319.75L242.64 319.74L243.2 319.73L243.76 319.72L244.32 319.71L244.88 319.7L245.44 319.69L246 319.68L246.56 319.67L247.12 319.66L247.68 319.65L248.24 319.64L248.8 319.63L249.36 319.62L249.93 319.61L250.49 319.6L251.05 319.59L251.61 319.58L252.17 319.57L252.73 319.56L253.29 319.55L253.85 319.54L254.41 319.53L254.97 319.52L255.53 319.52L256.09 319.51L256.65 319.5L257.21 319.49L257.77 319.48L258.33 319.47L258.89 319.47L259.45 319.46L260.01 319.45L260.57 319.44L261.13 319.44L261.69 319.43L262.25 319.42L262.82 319.41L263.38 319.41L263.94 319.4L264.5 319.39L265.06 319.39L265.62 319.38L266.18 319.37L266.74 319.37L267.3 319.36L267.86 319.36L268.42 319.35L268.98 319.34L269.54 319.34L270.1 319.33L270.66 319.33L271.22 319.32L271.78 319.32L272.34 319.31L272.9 319.31L273.46 319.3L274.02 319.3L274.58 319.29L275.14 319.29L275.71 319.28L276.27 319.28L276.83 319.28L277.39 319.27L277.95 319.27L278.51 319.27L279.07 319.26L279.63 319.26L280.19 319.26L280.75 319.25L281.31 319.25L281.87 319.25L282.43 319.24L282.99 319.24L283.55 319.24L284.11 319.24L284.67 319.23L285.23 319.23L285.79 319.23L286.35 319.23L286.91 319.23L287.47 319.22L288.03 319.22L288.6 319.22L289.16 319.22L289.72 319.22L290.28 319.22L290.84 319.22L291.4 319.22L291.96 319.21L292.52 319.21L293.08 319.21L293.64 319.21L294.2 319.21L294.76 319.21" fill="none" stroke="#ff3a3a" stroke-width="1.1" stroke-dasharray="4 3.5" opacity="1.0"/>
<path d="M46.3 494L46.3 493.55L46.3 492.5L46.31 490.73L46.33 488.06L46.35 484.37L46.39 479.55L46.44 473.58L46.51 466.47L46.61 458.32L46.72 449.28L46.86 435.52L47.02 418.11L47.22 405.15L47.45 397.67L47.71 391.29L48.02 385.91L48.36 381.36L48.74 377.45L49.17 373.91L49.65 370.71L50.18 367.89L50.76 365.52L51.4 363.65L52.09 362.19L52.84 361L53.66 359.96L54.54 358.94L55.49 357.79L56.52 356.33L57.61 354.36L58.78 351.94L60.03 349.28L61.35 346.63L62.76 344.25L64.26 342.43L65.84 341.15L67.52 339.95L69.28 338.82L71.15 337.76L71.15 337.76L71.71 337.46L72.27 337.17L72.83 336.89L73.39 336.62L73.95 336.36L74.51 336.11L75.07 335.86L75.63 335.62L76.19 335.38L76.75 335.16L77.31 334.94L77.87 334.72L78.43 334.51L78.99 334.31L79.55 334.11L80.11 333.92L80.67 333.73L81.23 333.54L81.79 333.36L82.35 333.19L82.92 333.01L83.48 332.84L84.04 332.68L84.6 332.52L85.16 332.36L85.72 332.2L86.28 332.05L86.84 331.9L87.4 331.75L87.96 331.61L88.52 331.47L89.08 331.33L89.64 331.19L90.2 331.05L90.76 330.92L91.32 330.79L91.88 330.66L92.44 330.53L93 330.4L93.56 330.28L94.12 330.15L94.68 330.03L95.24 329.91L95.81 329.79L96.37 329.67L96.93 329.55L97.49 329.43L98.05 329.32L98.61 329.2L99.17 329.09L99.73 328.97L100.29 328.86L100.85 328.75L101.41 328.63L101.97 328.52L102.53 328.41L103.09 328.3L103.65 328.2L104.21 328.09L104.77 327.98L105.33 327.88L105.89 327.77L106.45 327.67L107.01 327.57L107.57 327.47L108.13 327.36L108.7 327.26L109.26 327.17L109.82 327.07L110.38 326.97L110.94 326.87L111.5 326.78L112.06 326.68L112.62 326.59L113.18 326.49L113.74 326.4L114.3 326.31L114.86 326.22L115.42 326.13L115.98 326.04L116.54 325.95L117.1 325.86L117.66 325.77L118.22 325.69L118.78 325.6L119.34 325.51L119.9 325.43L120.46 325.35L121.02 325.26L121.59 325.18L122.15 325.1L122.71 325.02L123.27 324.94L123.83 324.86L124.39 324.78L124.95 324.7L125.51 324.62L126.07 324.54L126.63 324.47L127.19 324.39L127.75 324.31L128.31 324.24L128.87 324.17L129.43 324.09L129.99 324.02L130.55 323.95L131.11 323.88L131.67 323.8L132.23 323.73L132.79 323.66L133.35 323.59L133.91 323.53L134.48 323.46L135.04 323.39L135.6 323.32L136.16 323.26L136.72 323.19L137.28 323.13L137.84 323.06L138.4 323L138.96 322.93L139.52 322.87L140.08 322.81L140.64 322.75L141.2 322.68L141.76 322.62L142.32 322.56L142.88 322.5L143.44 322.44L144 322.39L144.56 322.33L145.12 322.27L145.68 322.21L146.24 322.16L146.8 322.1L147.37 322.04L147.93 321.99L148.49 321.93L149.05 321.88L149.61 321.83L150.17 321.77L150.73 321.72L151.29 321.67L151.85 321.62L152.41 321.57L152.97 321.51L153.53 321.46L154.09 321.41L154.65 321.37L155.21 321.32L155.77 321.27L156.33 321.22L156.89 321.17L157.45 321.13L158.01 321.08L158.57 321.03L159.13 320.99L159.69 320.94L160.26 320.9L160.82 320.85L161.38 320.81L161.94 320.77L162.5 320.72L163.06 320.68L163.62 320.64L164.18 320.6L164.74 320.56L165.3 320.52L165.86 320.48L166.42 320.44L166.98 320.4L167.54 320.36L168.1 320.32L168.66 320.28L169.22 320.24L169.78 320.21L170.34 320.17L170.9 320.13L171.46 320.1L172.02 320.06L172.58 320.03L173.15 319.99L173.71 319.96L174.27 319.92L174.83 319.89L175.39 319.86L175.95 319.82L176.51 319.79L177.07 319.76L177.63 319.73L178.19 319.7L178.75 319.66L179.31 319.63L179.87 319.6L180.43 319.57L180.99 319.54L181.55 319.51L182.11 319.48L182.67 319.45L183.23 319.43L183.79 319.4L184.35 319.37L184.91 319.34L185.47 319.31L186.04 319.28L186.6 319.25L187.16 319.22L187.72 319.19L188.28 319.16L188.84 319.14L189.4 319.11L189.96 319.08L190.52 319.05L191.08 319.02L191.64 318.99L192.2 318.97L192.76 318.94L193.32 318.91L193.88 318.88L194.44 318.86L195 318.83L195.56 318.8L196.12 318.77L196.68 318.75L197.24 318.72L197.8 318.69L198.36 318.67L198.93 318.64L199.49 318.61L200.05 318.59L200.61 318.56L201.17 318.53L201.73 318.51L202.29 318.48L202.85 318.45L203.41 318.43L203.97 318.4L204.53 318.38L205.09 318.35L205.65 318.33L206.21 318.3L206.77 318.28L207.33 318.25L207.89 318.23L208.45 318.2L209.01 318.18L209.57 318.15L210.13 318.13L210.69 318.1L211.26 318.08L211.82 318.06L212.38 318.03L212.94 318.01L213.5 317.99L214.06 317.96L214.62 317.94L215.18 317.91L215.74 317.89L216.3 317.87L216.86 317.85L217.42 317.82L217.98 317.8L218.54 317.78L219.1 317.76L219.66 317.73L220.22 317.71L220.78 317.69L221.34 317.67L221.9 317.65L222.46 317.62L223.02 317.6L223.58 317.58L224.15 317.56L224.71 317.54L225.27 317.52L225.83 317.5L226.39 317.48L226.95 317.46L227.51 317.43L228.07 317.41L228.63 317.39L229.19 317.37L229.75 317.35L230.31 317.33L230.87 317.31L231.43 317.29L231.99 317.28L232.55 317.26L233.11 317.24L233.67 317.22L234.23 317.2L234.79 317.18L235.35 317.16L235.91 317.14L236.47 317.12L237.04 317.11L237.6 317.09L238.16 317.07L238.72 317.05L239.28 317.04L239.84 317.02L240.4 317L240.96 316.98L241.52 316.97L242.08 316.95L242.64 316.93L243.2 316.92L243.76 316.9L244.32 316.88L244.88 316.87L245.44 316.85L246 316.83L246.56 316.82L247.12 316.8L247.68 316.79L248.24 316.77L248.8 316.76L249.36 316.74L249.93 316.73L250.49 316.71L251.05 316.7L251.61 316.68L252.17 316.67L252.73 316.65L253.29 316.64L253.85 316.62L254.41 316.61L254.97 316.6L255.53 316.58L256.09 316.57L256.65 316.56L257.21 316.54L257.77 316.53L258.33 316.52L258.89 316.5L259.45 316.49L260.01 316.48L260.57 316.47L261.13 316.45L261.69 316.44L262.25 316.43L262.82 316.42L263.38 316.41L263.94 316.4L264.5 316.38L265.06 316.37L265.62 316.36L266.18 316.35L266.74 316.34L267.3 316.33L267.86 316.32L268.42 316.31L268.98 316.3L269.54 316.29L270.1 316.28L270.66 316.27L271.22 316.26L271.78 316.25L272.34 316.24L272.9 316.23L273.46 316.22L274.02 316.21L274.58 316.2L275.14 316.2L275.71 316.19L276.27 316.18L276.83 316.17L277.39 316.16L277.95 316.15L278.51 316.15L279.07 316.14L279.63 316.13L280.19 316.12L280.75 316.12L281.31 316.11L281.87 316.1L282.43 316.1L282.99 316.09L283.55 316.08L284.11 316.08L284.67 316.07L285.23 316.07L285.79 316.06L286.35 316.05L286.91 316.05L287.47 316.04L288.03 316.04L288.6 316.03L289.16 316.03L289.72 316.02L290.28 316.02L290.84 316.01L291.4 316.01L291.96 316.01L292.52 316L293.08 316L293.64 315.99L294.2 315.99L294.76 315.99" fill="none" stroke="#a050ff" stroke-width="1.1" stroke-dasharray="4 3.5" opacity="1.0"/>
<path d="M46.3 494L46.3 492.54L46.3 489.79L46.31 486.09L46.33 481.52L46.35 476.09L46.39 469.82L46.44 462.7L46.51 454.72L46.61 445.91L46.72 435.64L46.86 422.95L47.02 409.22L47.22 396.37L47.45 386.52L47.71 377.72L48.02 369.27L48.36 361.78L48.74 355.94L49.17 352.58L49.65 351.08L50.18 349.91L50.76 348.99L51.4 348.23L52.09 347.53L52.84 346.78L53.66 345.85L54.54 344.85L55.49 343.82L56.52 342.78L57.61 341.74L58.78 340.72L60.03 339.75L61.35 338.85L62.76 338.04L64.26 337.28L65.84 336.55L67.52 335.83L69.28 335.14L71.15 334.47L71.15 334.47L71.71 334.28L72.27 334.09L72.83 333.91L73.39 333.73L73.95 333.56L74.51 333.38L75.07 333.22L75.63 333.05L76.19 332.89L76.75 332.73L77.31 332.57L77.87 332.42L78.43 332.26L78.99 332.12L79.55 331.97L80.11 331.82L80.67 331.68L81.23 331.54L81.79 331.4L82.35 331.26L82.92 331.13L83.48 330.99L84.04 330.86L84.6 330.73L85.16 330.6L85.72 330.47L86.28 330.35L86.84 330.22L87.4 330.1L87.96 329.97L88.52 329.85L89.08 329.73L89.64 329.61L90.2 329.49L90.76 329.37L91.32 329.26L91.88 329.14L92.44 329.02L93 328.91L93.56 328.79L94.12 328.68L94.68 328.56L95.24 328.45L95.81 328.34L96.37 328.23L96.93 328.11L97.49 328L98.05 327.89L98.61 327.78L99.17 327.67L99.73 327.56L100.29 327.45L100.85 327.34L101.41 327.23L101.97 327.12L102.53 327.01L103.09 326.9L103.65 326.8L104.21 326.69L104.77 326.58L105.33 326.47L105.89 326.37L106.45 326.26L107.01 326.16L107.57 326.05L108.13 325.95L108.7 325.85L109.26 325.74L109.82 325.64L110.38 325.54L110.94 325.44L111.5 325.33L112.06 325.23L112.62 325.13L113.18 325.03L113.74 324.93L114.3 324.83L114.86 324.74L115.42 324.64L115.98 324.54L116.54 324.44L117.1 324.35L117.66 324.25L118.22 324.15L118.78 324.06L119.34 323.96L119.9 323.87L120.46 323.78L121.02 323.68L121.59 323.59L122.15 323.5L122.71 323.41L123.27 323.31L123.83 323.22L124.39 323.13L124.95 323.04L125.51 322.95L126.07 322.86L126.63 322.78L127.19 322.69L127.75 322.6L128.31 322.51L128.87 322.43L129.43 322.34L129.99 322.25L130.55 322.17L131.11 322.08L131.67 322L132.23 321.92L132.79 321.83L133.35 321.75L133.91 321.67L134.48 321.59L135.04 321.51L135.6 321.43L136.16 321.35L136.72 321.27L137.28 321.19L137.84 321.11L138.4 321.03L138.96 320.95L139.52 320.87L140.08 320.8L140.64 320.72L141.2 320.64L141.76 320.57L142.32 320.49L142.88 320.42L143.44 320.35L144 320.27L144.56 320.2L145.12 320.13L145.68 320.06L146.24 319.98L146.8 319.91L147.37 319.84L147.93 319.77L148.49 319.7L149.05 319.63L149.61 319.57L150.17 319.5L150.73 319.43L151.29 319.36L151.85 319.3L152.41 319.23L152.97 319.16L153.53 319.1L154.09 319.03L154.65 318.97L155.21 318.91L155.77 318.84L156.33 318.78L156.89 318.72L157.45 318.66L158.01 318.59L158.57 318.53L159.13 318.47L159.69 318.41L160.26 318.35L160.82 318.3L161.38 318.24L161.94 318.18L162.5 318.12L163.06 318.06L163.62 318.01L164.18 317.95L164.74 317.9L165.3 317.84L165.86 317.79L166.42 317.73L166.98 317.68L167.54 317.63L168.1 317.57L168.66 317.52L169.22 317.47L169.78 317.42L170.34 317.37L170.9 317.32L171.46 317.27L172.02 317.22L172.58 317.17L173.15 317.12L173.71 317.07L174.27 317.02L174.83 316.98L175.39 316.93L175.95 316.88L176.51 316.84L177.07 316.79L177.63 316.75L178.19 316.7L178.75 316.66L179.31 316.62L179.87 316.57L180.43 316.53L180.99 316.49L181.55 316.45L182.11 316.4L182.67 316.36L183.23 316.32L183.79 316.28L184.35 316.24L184.91 316.2L185.47 316.15L186.04 316.11L186.6 316.07L187.16 316.03L187.72 315.99L188.28 315.95L188.84 315.91L189.4 315.87L189.96 315.83L190.52 315.79L191.08 315.75L191.64 315.71L192.2 315.67L192.76 315.63L193.32 315.59L193.88 315.55L194.44 315.51L195 315.48L195.56 315.44L196.12 315.4L196.68 315.36L197.24 315.32L197.8 315.28L198.36 315.25L198.93 315.21L199.49 315.17L200.05 315.13L200.61 315.1L201.17 315.06L201.73 315.02L202.29 314.99L202.85 314.95L203.41 314.91L203.97 314.88L204.53 314.84L205.09 314.81L205.65 314.77L206.21 314.73L206.77 314.7L207.33 314.66L207.89 314.63L208.45 314.59L209.01 314.56L209.57 314.52L210.13 314.49L210.69 314.45L211.26 314.42L211.82 314.39L212.38 314.35L212.94 314.32L213.5 314.28L214.06 314.25L214.62 314.22L215.18 314.18L215.74 314.15L216.3 314.12L216.86 314.08L217.42 314.05L217.98 314.02L218.54 313.99L219.1 313.96L219.66 313.92L220.22 313.89L220.78 313.86L221.34 313.83L221.9 313.8L222.46 313.77L223.02 313.73L223.58 313.7L224.15 313.67L224.71 313.64L225.27 313.61L225.83 313.58L226.39 313.55L226.95 313.52L227.51 313.49L228.07 313.46L228.63 313.43L229.19 313.4L229.75 313.37L230.31 313.34L230.87 313.31L231.43 313.28L231.99 313.26L232.55 313.23L233.11 313.2L233.67 313.17L234.23 313.14L234.79 313.11L235.35 313.09L235.91 313.06L236.47 313.03L237.04 313L237.6 312.98L238.16 312.95L238.72 312.92L239.28 312.9L239.84 312.87L240.4 312.84L240.96 312.82L241.52 312.79L242.08 312.76L242.64 312.74L243.2 312.71L243.76 312.69L244.32 312.66L244.88 312.63L245.44 312.61L246 312.58L246.56 312.56L247.12 312.53L247.68 312.51L248.24 312.49L248.8 312.46L249.36 312.44L249.93 312.41L250.49 312.39L251.05 312.36L251.61 312.34L252.17 312.32L252.73 312.29L253.29 312.27L253.85 312.25L254.41 312.23L254.97 312.2L255.53 312.18L256.09 312.16L256.65 312.13L257.21 312.11L257.77 312.09L258.33 312.07L258.89 312.05L259.45 312.03L260.01 312L260.57 311.98L261.13 311.96L261.69 311.94L262.25 311.92L262.82 311.9L263.38 311.88L263.94 311.86L264.5 311.84L265.06 311.82L265.62 311.8L266.18 311.78L266.74 311.76L267.3 311.74L267.86 311.72L268.42 311.7L268.98 311.68L269.54 311.66L270.1 311.64L270.66 311.62L271.22 311.6L271.78 311.59L272.34 311.57L272.9 311.55L273.46 311.53L274.02 311.51L274.58 311.49L275.14 311.48L275.71 311.46L276.27 311.44L276.83 311.43L277.39 311.41L277.95 311.39L278.51 311.37L279.07 311.36L279.63 311.34L280.19 311.32L280.75 311.31L281.31 311.29L281.87 311.28L282.43 311.26L282.99 311.24L283.55 311.23L284.11 311.21L284.67 311.2L285.23 311.18L285.79 311.17L286.35 311.15L286.91 311.14L287.47 311.12L288.03 311.11L288.6 311.1L289.16 311.08L289.72 311.07L290.28 311.05L290.84 311.04L291.4 311.03L291.96 311.01L292.52 311L293.08 310.99L293.64 310.97L294.2 310.96L294.76 310.95" fill="none" stroke="#30a050" stroke-width="1.1" stroke-dasharray="4 3.5" opacity="1.0"/>
<path d="M46.3 494L46.3 492.53L46.3 489.76L46.31 486L46.33 481.31L46.35 475.7L46.39 469.16L46.44 461.69L46.51 453.29L46.61 443.56L46.72 431.24L46.86 417.42L47.02 403.85L47.22 392.8L47.45 383.61L47.71 374.53L48.02 365.99L48.36 358.5L48.74 352.61L49.17 348.97L49.65 346.97L50.18 345.19L50.76 343.63L51.4 342.27L52.09 341.08L52.84 340.04L53.66 339.12L54.54 338.28L55.49 337.48L56.52 336.66L57.61 335.86L58.78 335.11L60.03 334.41L61.35 333.75L62.76 333.12L64.26 332.53L65.84 331.96L67.52 331.4L69.28 330.85L71.15 330.3L71.15 330.3L71.71 330.14L72.27 329.98L72.83 329.83L73.39 329.68L73.95 329.53L74.51 329.39L75.07 329.25L75.63 329.11L76.19 328.98L76.75 328.84L77.31 328.71L77.87 328.59L78.43 328.46L78.99 328.34L79.55 328.22L80.11 328.1L80.67 327.98L81.23 327.87L81.79 327.75L82.35 327.64L82.92 327.53L83.48 327.42L84.04 327.32L84.6 327.21L85.16 327.11L85.72 327L86.28 326.9L86.84 326.8L87.4 326.7L87.96 326.6L88.52 326.51L89.08 326.41L89.64 326.32L90.2 326.22L90.76 326.13L91.32 326.04L91.88 325.94L92.44 325.85L93 325.76L93.56 325.67L94.12 325.58L94.68 325.49L95.24 325.41L95.81 325.32L96.37 325.23L96.93 325.14L97.49 325.06L98.05 324.97L98.61 324.89L99.17 324.8L99.73 324.72L100.29 324.63L100.85 324.55L101.41 324.46L101.97 324.38L102.53 324.3L103.09 324.21L103.65 324.13L104.21 324.05L104.77 323.97L105.33 323.89L105.89 323.8L106.45 323.72L107.01 323.64L107.57 323.56L108.13 323.48L108.7 323.4L109.26 323.32L109.82 323.24L110.38 323.16L110.94 323.08L111.5 323L112.06 322.93L112.62 322.85L113.18 322.77L113.74 322.69L114.3 322.62L114.86 322.54L115.42 322.46L115.98 322.39L116.54 322.31L117.1 322.24L117.66 322.16L118.22 322.09L118.78 322.01L119.34 321.94L119.9 321.86L120.46 321.79L121.02 321.72L121.59 321.65L122.15 321.57L122.71 321.5L123.27 321.43L123.83 321.36L124.39 321.29L124.95 321.22L125.51 321.15L126.07 321.08L126.63 321.01L127.19 320.94L127.75 320.87L128.31 320.8L128.87 320.73L129.43 320.67L129.99 320.6L130.55 320.53L131.11 320.47L131.67 320.4L132.23 320.34L132.79 320.27L133.35 320.21L133.91 320.14L134.48 320.08L135.04 320.01L135.6 319.95L136.16 319.89L136.72 319.82L137.28 319.76L137.84 319.7L138.4 319.64L138.96 319.58L139.52 319.52L140.08 319.46L140.64 319.4L141.2 319.34L141.76 319.28L142.32 319.22L142.88 319.16L143.44 319.1L144 319.05L144.56 318.99L145.12 318.93L145.68 318.88L146.24 318.82L146.8 318.76L147.37 318.71L147.93 318.65L148.49 318.6L149.05 318.55L149.61 318.49L150.17 318.44L150.73 318.39L151.29 318.33L151.85 318.28L152.41 318.23L152.97 318.18L153.53 318.13L154.09 318.08L154.65 318.03L155.21 317.98L155.77 317.93L156.33 317.88L156.89 317.83L157.45 317.78L158.01 317.73L158.57 317.69L159.13 317.64L159.69 317.59L160.26 317.55L160.82 317.5L161.38 317.46L161.94 317.41L162.5 317.37L163.06 317.32L163.62 317.28L164.18 317.23L164.74 317.19L165.3 317.15L165.86 317.11L166.42 317.06L166.98 317.02L167.54 316.98L168.1 316.94L168.66 316.9L169.22 316.86L169.78 316.82L170.34 316.78L170.9 316.74L171.46 316.7L172.02 316.67L172.58 316.63L173.15 316.59L173.71 316.55L174.27 316.52L174.83 316.48L175.39 316.45L175.95 316.41L176.51 316.38L177.07 316.34L177.63 316.31L178.19 316.27L178.75 316.24L179.31 316.21L179.87 316.18L180.43 316.14L180.99 316.11L181.55 316.08L182.11 316.05L182.67 316.01L183.23 315.98L183.79 315.95L184.35 315.92L184.91 315.89L185.47 315.86L186.04 315.83L186.6 315.79L187.16 315.76L187.72 315.73L188.28 315.7L188.84 315.67L189.4 315.64L189.96 315.61L190.52 315.58L191.08 315.55L191.64 315.52L192.2 315.49L192.76 315.46L193.32 315.43L193.88 315.4L194.44 315.37L195 315.34L195.56 315.31L196.12 315.28L196.68 315.25L197.24 315.22L197.8 315.2L198.36 315.17L198.93 315.14L199.49 315.11L200.05 315.08L200.61 315.05L201.17 315.03L201.73 315L202.29 314.97L202.85 314.94L203.41 314.91L203.97 314.89L204.53 314.86L205.09 314.83L205.65 314.8L206.21 314.78L206.77 314.75L207.33 314.72L207.89 314.7L208.45 314.67L209.01 314.64L209.57 314.62L210.13 314.59L210.69 314.57L211.26 314.54L211.82 314.51L212.38 314.49L212.94 314.46L213.5 314.44L214.06 314.41L214.62 314.39L215.18 314.36L215.74 314.34L216.3 314.31L216.86 314.29L217.42 314.26L217.98 314.24L218.54 314.21L219.1 314.19L219.66 314.16L220.22 314.14L220.78 314.12L221.34 314.09L221.9 314.07L222.46 314.04L223.02 314.02L223.58 314L224.15 313.97L224.71 313.95L225.27 313.93L225.83 313.9L226.39 313.88L226.95 313.86L227.51 313.84L228.07 313.81L228.63 313.79L229.19 313.77L229.75 313.75L230.31 313.72L230.87 313.7L231.43 313.68L231.99 313.66L232.55 313.64L233.11 313.62L233.67 313.59L234.23 313.57L234.79 313.55L235.35 313.53L235.91 313.51L236.47 313.49L237.04 313.47L237.6 313.45L238.16 313.43L238.72 313.41L239.28 313.39L239.84 313.37L240.4 313.35L240.96 313.33L241.52 313.31L242.08 313.29L242.64 313.27L243.2 313.25L243.76 313.23L244.32 313.21L244.88 313.19L245.44 313.17L246 313.15L246.56 313.14L247.12 313.12L247.68 313.1L248.24 313.08L248.8 313.06L249.36 313.04L249.93 313.03L250.49 313.01L251.05 312.99L251.61 312.97L252.17 312.96L252.73 312.94L253.29 312.92L253.85 312.9L254.41 312.89L254.97 312.87L255.53 312.85L256.09 312.84L256.65 312.82L257.21 312.8L257.77 312.79L258.33 312.77L258.89 312.75L259.45 312.74L260.01 312.72L260.57 312.71L261.13 312.69L261.69 312.68L262.25 312.66L262.82 312.64L263.38 312.63L263.94 312.61L264.5 312.6L265.06 312.58L265.62 312.57L266.18 312.55L266.74 312.54L267.3 312.53L267.86 312.51L268.42 312.5L268.98 312.48L269.54 312.47L270.1 312.45L270.66 312.44L271.22 312.43L271.78 312.41L272.34 312.4L272.9 312.39L273.46 312.37L274.02 312.36L274.58 312.35L275.14 312.33L275.71 312.32L276.27 312.31L276.83 312.3L277.39 312.28L277.95 312.27L278.51 312.26L279.07 312.25L279.63 312.24L280.19 312.22L280.75 312.21L281.31 312.2L281.87 312.19L282.43 312.18L282.99 312.17L283.55 312.16L284.11 312.14L284.67 312.13L285.23 312.12L285.79 312.11L286.35 312.1L286.91 312.09L287.47 312.08L288.03 312.07L288.6 312.06L289.16 312.05L289.72 312.04L290.28 312.03L290.84 312.02L291.4 312.01L291.96 312L292.52 311.99L293.08 311.98L293.64 311.97L294.2 311.96L294.76 311.96" fill="none" stroke="#333333" stroke-width="1.1" stroke-dasharray="4 3.5" opacity="1.0"/>
<path d="M46.3 494L46.3 492.58L46.3 489.87L46.31 486.18L46.33 481.53L46.35 475.94L46.39 469.38L46.44 461.85L46.51 453.34L46.61 443.41L46.72 430.62L46.86 416.18L47.02 402.06L47.22 390.79L47.45 381.67L47.71 372.75L48.02 364.42L48.36 357.15L48.74 351.46L49.17 347.96L49.65 346.02L50.18 344.31L50.76 342.8L51.4 341.49L52.09 340.35L52.84 339.35L53.66 338.46L54.54 337.65L55.49 336.86L56.52 336.06L57.61 335.27L58.78 334.53L60.03 333.83L61.35 333.17L62.76 332.54L64.26 331.95L65.84 331.37L67.52 330.81L69.28 330.26L71.15 329.7L71.15 329.7L71.71 329.53L72.27 329.37L72.83 329.21L73.39 329.06L73.95 328.91L74.51 328.77L75.07 328.62L75.63 328.48L76.19 328.34L76.75 328.21L77.31 328.07L77.87 327.94L78.43 327.82L78.99 327.69L79.55 327.57L80.11 327.44L80.67 327.32L81.23 327.21L81.79 327.09L82.35 326.97L82.92 326.86L83.48 326.75L84.04 326.64L84.6 326.53L85.16 326.42L85.72 326.31L86.28 326.21L86.84 326.1L87.4 326L87.96 325.9L88.52 325.8L89.08 325.7L89.64 325.6L90.2 325.5L90.76 325.4L91.32 325.3L91.88 325.21L92.44 325.11L93 325.02L93.56 324.92L94.12 324.83L94.68 324.74L95.24 324.64L95.81 324.55L96.37 324.46L96.93 324.37L97.49 324.28L98.05 324.19L98.61 324.09L99.17 324L99.73 323.91L100.29 323.82L100.85 323.74L101.41 323.65L101.97 323.56L102.53 323.47L103.09 323.38L103.65 323.29L104.21 323.2L104.77 323.12L105.33 323.03L105.89 322.94L106.45 322.86L107.01 322.77L107.57 322.69L108.13 322.6L108.7 322.52L109.26 322.43L109.82 322.35L110.38 322.26L110.94 322.18L111.5 322.09L112.06 322.01L112.62 321.93L113.18 321.85L113.74 321.76L114.3 321.68L114.86 321.6L115.42 321.52L115.98 321.44L116.54 321.36L117.1 321.28L117.66 321.2L118.22 321.12L118.78 321.04L119.34 320.96L119.9 320.88L120.46 320.81L121.02 320.73L121.59 320.65L122.15 320.58L122.71 320.5L123.27 320.42L123.83 320.35L124.39 320.27L124.95 320.2L125.51 320.12L126.07 320.05L126.63 319.97L127.19 319.9L127.75 319.83L128.31 319.75L128.87 319.68L129.43 319.61L129.99 319.54L130.55 319.46L131.11 319.39L131.67 319.32L132.23 319.25L132.79 319.18L133.35 319.11L133.91 319.04L134.48 318.97L135.04 318.9L135.6 318.84L136.16 318.77L136.72 318.7L137.28 318.63L137.84 318.57L138.4 318.5L138.96 318.43L139.52 318.37L140.08 318.3L140.64 318.24L141.2 318.17L141.76 318.11L142.32 318.04L142.88 317.98L143.44 317.92L144 317.85L144.56 317.79L145.12 317.73L145.68 317.67L146.24 317.61L146.8 317.54L147.37 317.48L147.93 317.42L148.49 317.36L149.05 317.3L149.61 317.24L150.17 317.18L150.73 317.13L151.29 317.07L151.85 317.01L152.41 316.95L152.97 316.89L153.53 316.84L154.09 316.78L154.65 316.72L155.21 316.67L155.77 316.61L156.33 316.56L156.89 316.5L157.45 316.45L158.01 316.39L158.57 316.34L159.13 316.29L159.69 316.23L160.26 316.18L160.82 316.13L161.38 316.08L161.94 316.03L162.5 315.97L163.06 315.92L163.62 315.87L164.18 315.82L164.74 315.77L165.3 315.72L165.86 315.67L166.42 315.63L166.98 315.58L167.54 315.53L168.1 315.48L168.66 315.43L169.22 315.39L169.78 315.34L170.34 315.29L170.9 315.25L171.46 315.2L172.02 315.16L172.58 315.11L173.15 315.07L173.71 315.02L174.27 314.98L174.83 314.94L175.39 314.89L175.95 314.85L176.51 314.81L177.07 314.77L177.63 314.72L178.19 314.68L178.75 314.64L179.31 314.6L179.87 314.56L180.43 314.52L180.99 314.48L181.55 314.44L182.11 314.4L182.67 314.36L183.23 314.32L183.79 314.28L184.35 314.24L184.91 314.2L185.47 314.16L186.04 314.12L186.6 314.09L187.16 314.05L187.72 314.01L188.28 313.97L188.84 313.93L189.4 313.89L189.96 313.86L190.52 313.82L191.08 313.78L191.64 313.74L192.2 313.71L192.76 313.67L193.32 313.63L193.88 313.6L194.44 313.56L195 313.52L195.56 313.49L196.12 313.45L196.68 313.41L197.24 313.38L197.8 313.34L198.36 313.3L198.93 313.27L199.49 313.23L200.05 313.2L200.61 313.16L201.17 313.13L201.73 313.09L202.29 313.06L202.85 313.02L203.41 312.99L203.97 312.95L204.53 312.92L205.09 312.89L205.65 312.85L206.21 312.82L206.77 312.78L207.33 312.75L207.89 312.72L208.45 312.68L209.01 312.65L209.57 312.62L210.13 312.58L210.69 312.55L211.26 312.52L211.82 312.49L212.38 312.45L212.94 312.42L213.5 312.39L214.06 312.36L214.62 312.32L215.18 312.29L215.74 312.26L216.3 312.23L216.86 312.2L217.42 312.17L217.98 312.13L218.54 312.1L219.1 312.07L219.66 312.04L220.22 312.01L220.78 311.98L221.34 311.95L221.9 311.92L222.46 311.89L223.02 311.86L223.58 311.83L224.15 311.8L224.71 311.77L225.27 311.74L225.83 311.71L226.39 311.68L226.95 311.65L227.51 311.62L228.07 311.59L228.63 311.56L229.19 311.53L229.75 311.51L230.31 311.48L230.87 311.45L231.43 311.42L231.99 311.39L232.55 311.36L233.11 311.34L233.67 311.31L234.23 311.28L234.79 311.25L235.35 311.23L235.91 311.2L236.47 311.17L237.04 311.14L237.6 311.12L238.16 311.09L238.72 311.06L239.28 311.04L239.84 311.01L240.4 310.98L240.96 310.96L241.52 310.93L242.08 310.9L242.64 310.88L243.2 310.85L243.76 310.83L244.32 310.8L244.88 310.77L245.44 310.75L246 310.72L246.56 310.7L247.12 310.67L247.68 310.65L248.24 310.62L248.8 310.6L249.36 310.57L249.93 310.55L250.49 310.53L251.05 310.5L251.61 310.48L252.17 310.45L252.73 310.43L253.29 310.4L253.85 310.38L254.41 310.36L254.97 310.33L255.53 310.31L256.09 310.29L256.65 310.26L257.21 310.24L257.77 310.22L258.33 310.19L258.89 310.17L259.45 310.15L260.01 310.13L260.57 310.1L261.13 310.08L261.69 310.06L262.25 310.04L262.82 310.02L263.38 309.99L263.94 309.97L264.5 309.95L265.06 309.93L265.62 309.91L266.18 309.89L266.74 309.86L267.3 309.84L267.86 309.82L268.42 309.8L268.98 309.78L269.54 309.76L270.1 309.74L270.66 309.72L271.22 309.7L271.78 309.68L272.34 309.66L272.9 309.64L273.46 309.62L274.02 309.6L274.58 309.58L275.14 309.56L275.71 309.54L276.27 309.52L276.83 309.5L277.39 309.48L277.95 309.46L278.51 309.44L279.07 309.42L279.63 309.4L280.19 309.38L280.75 309.37L281.31 309.35L281.87 309.33L282.43 309.31L282.99 309.29L283.55 309.27L284.11 309.26L284.67 309.24L285.23 309.22L285.79 309.2L286.35 309.18L286.91 309.17L287.47 309.15L288.03 309.13L288.6 309.11L289.16 309.1L289.72 309.08L290.28 309.06L290.84 309.05L291.4 309.03L291.96 309.01L292.52 309L293.08 308.98L293.64 308.96L294.2 308.95L294.76 308.93" fill="none" stroke="#c8961e" stroke-width="1.1" stroke-dasharray="4 3.5" opacity="1.0"/>
<rect x="44.1" y="491.8" width="4.4" height="4.4" fill="none" stroke="#8a8a20" stroke-width="0.9"/>
<path d="M56.12 326.07h5.2M56.12 307.92h5.2M58.72 326.07V319.1M58.72 307.92V314.9" stroke="#6677ff" stroke-width="0.8" fill="none" opacity="0.9"/>
<rect x="56.62" y="314.9" width="4.2" height="4.2" fill="none" stroke="#3344ff" stroke-width="0.9"/>
<path d="M68.95 333.53h4.4M68.95 326.27h4.4M71.15 333.53V332M71.15 326.27V327.8" stroke="#333333" stroke-width="0.7" fill="none" opacity="0.45"/>
<rect x="69.15" y="327.9" width="4" height="4" fill="none" stroke="#333333" stroke-width="0.75"/>
<path d="M81.37 329.29h4.4M81.37 322.04h4.4M83.57 329.29V327.76M83.57 322.04V323.56" stroke="#333333" stroke-width="0.7" fill="none" opacity="0.45"/>
<rect x="81.57" y="323.66" width="4" height="4" fill="none" stroke="#333333" stroke-width="0.75"/>
<path d="M93.79 329.09h4.4M93.79 321.83h4.4M95.99 329.09V327.56M95.99 321.83V323.36" stroke="#333333" stroke-width="0.7" fill="none" opacity="0.45"/>
<rect x="93.99" y="323.46" width="4" height="4" fill="none" stroke="#333333" stroke-width="0.75"/>
<path d="M143.48 321.23h4.4M143.48 313.97h4.4M145.68 321.23V319.7M145.68 313.97V315.5" stroke="#333333" stroke-width="0.7" fill="none" opacity="0.45"/>
<rect x="143.68" y="315.6" width="4" height="4" fill="none" stroke="#333333" stroke-width="0.75"/>
<path d="M193.18 320.22h4.4M193.18 312.96h4.4M195.38 320.22V318.69M195.38 312.96V314.49" stroke="#333333" stroke-width="0.7" fill="none" opacity="0.45"/>
<rect x="193.38" y="314.59" width="4" height="4" fill="none" stroke="#333333" stroke-width="0.75"/>
<path d="M242.87 322.24h4.4M242.87 314.98h4.4M245.07 322.24V320.71M245.07 314.98V316.51" stroke="#333333" stroke-width="0.7" fill="none" opacity="0.45"/>
<rect x="243.07" y="316.61" width="4" height="4" fill="none" stroke="#333333" stroke-width="0.75"/>
<path d="M292.56 314.17h4.4M292.56 306.92h4.4M294.76 314.17V312.64M294.76 306.92V308.44" stroke="#333333" stroke-width="0.7" fill="none" opacity="0.45"/>
<rect x="292.76" y="308.54" width="4" height="4" fill="none" stroke="#333333" stroke-width="0.75"/>
<path d="M68.95 346.23h4.4M68.95 338.97h4.4M71.15 346.23V344.7M71.15 338.97V340.5" stroke="#ff3030" stroke-width="0.7" fill="none" opacity="0.45"/>
<rect x="69.15" y="340.6" width="4" height="4" fill="none" stroke="#ff3030" stroke-width="0.75"/>
<path d="M81.37 332.12h4.4M81.37 324.86h4.4M83.57 332.12V330.59M83.57 324.86V326.39" stroke="#ff3030" stroke-width="0.7" fill="none" opacity="0.45"/>
<rect x="81.57" y="326.49" width="4" height="4" fill="none" stroke="#ff3030" stroke-width="0.75"/>
<path d="M93.79 342.2h4.4M93.79 334.94h4.4M95.99 342.2V340.67M95.99 334.94V336.47" stroke="#ff3030" stroke-width="0.7" fill="none" opacity="0.45"/>
<rect x="93.99" y="336.57" width="4" height="4" fill="none" stroke="#ff3030" stroke-width="0.75"/>
<path d="M143.48 326.27h4.4M143.48 319.01h4.4M145.68 326.27V324.74M145.68 319.01V320.54" stroke="#ff3030" stroke-width="0.7" fill="none" opacity="0.45"/>
<rect x="143.68" y="320.64" width="4" height="4" fill="none" stroke="#ff3030" stroke-width="0.75"/>
<path d="M193.18 328.08h4.4M193.18 320.83h4.4M195.38 328.08V326.55M195.38 320.83V322.35" stroke="#ff3030" stroke-width="0.7" fill="none" opacity="0.45"/>
<rect x="193.38" y="322.45" width="4" height="4" fill="none" stroke="#ff3030" stroke-width="0.75"/>
<path d="M242.87 328.28h4.4M242.87 321.03h4.4M245.07 328.28V326.76M245.07 321.03V322.56" stroke="#ff3030" stroke-width="0.7" fill="none" opacity="0.45"/>
<rect x="243.07" y="322.66" width="4" height="4" fill="none" stroke="#ff3030" stroke-width="0.75"/>
<path d="M292.56 318.2h4.4M292.56 310.95h4.4M294.76 318.2V316.68M294.76 310.95V312.48" stroke="#ff3030" stroke-width="0.7" fill="none" opacity="0.45"/>
<rect x="292.76" y="312.58" width="4" height="4" fill="none" stroke="#ff3030" stroke-width="0.75"/>
<path d="M68.95 335.34h4.4M68.95 328.08h4.4M71.15 335.34V333.81M71.15 328.08V329.61" stroke="#2a8a3a" stroke-width="0.7" fill="none" opacity="0.45"/>
<rect x="69.15" y="329.71" width="4" height="4" fill="none" stroke="#2a8a3a" stroke-width="0.75"/>
<path d="M81.37 338.57h4.4M81.37 331.31h4.4M83.57 338.57V337.04M83.57 331.31V332.84" stroke="#2a8a3a" stroke-width="0.7" fill="none" opacity="0.45"/>
<rect x="81.57" y="332.94" width="4" height="4" fill="none" stroke="#2a8a3a" stroke-width="0.75"/>
<path d="M93.79 332.12h4.4M93.79 324.86h4.4M95.99 332.12V330.59M95.99 324.86V326.39" stroke="#2a8a3a" stroke-width="0.7" fill="none" opacity="0.45"/>
<rect x="93.99" y="326.49" width="4" height="4" fill="none" stroke="#2a8a3a" stroke-width="0.75"/>
<path d="M143.48 320.22h4.4M143.48 312.96h4.4M145.68 320.22V318.69M145.68 312.96V314.49" stroke="#2a8a3a" stroke-width="0.7" fill="none" opacity="0.45"/>
<rect x="143.68" y="314.59" width="4" height="4" fill="none" stroke="#2a8a3a" stroke-width="0.75"/>
<path d="M193.18 318.2h4.4M193.18 310.95h4.4M195.38 318.2V316.68M195.38 310.95V312.48" stroke="#2a8a3a" stroke-width="0.7" fill="none" opacity="0.45"/>
<rect x="193.38" y="312.58" width="4" height="4" fill="none" stroke="#2a8a3a" stroke-width="0.75"/>
<path d="M242.87 320.22h4.4M242.87 312.96h4.4M245.07 320.22V318.69M245.07 312.96V314.49" stroke="#2a8a3a" stroke-width="0.7" fill="none" opacity="0.45"/>
<rect x="243.07" y="314.59" width="4" height="4" fill="none" stroke="#2a8a3a" stroke-width="0.75"/>
<path d="M292.56 312.16h4.4M292.56 304.9h4.4M294.76 312.16V310.63M294.76 304.9V306.43" stroke="#2a8a3a" stroke-width="0.7" fill="none" opacity="0.45"/>
<rect x="292.76" y="306.53" width="4" height="4" fill="none" stroke="#2a8a3a" stroke-width="0.75"/>
<path d="M68.95 338.97h4.4M68.95 331.71h4.4M71.15 338.97V337.44M71.15 331.71V333.24" stroke="#8a2acc" stroke-width="0.7" fill="none" opacity="0.45"/>
<rect x="69.15" y="333.34" width="4" height="4" fill="none" stroke="#8a2acc" stroke-width="0.75"/>
<path d="M81.37 343h4.4M81.37 335.74h4.4M83.57 343V341.47M83.57 335.74V337.27" stroke="#8a2acc" stroke-width="0.7" fill="none" opacity="0.45"/>
<rect x="81.57" y="337.37" width="4" height="4" fill="none" stroke="#8a2acc" stroke-width="0.75"/>
<path d="M93.79 327.28h4.4M93.79 320.02h4.4M95.99 327.28V325.75M95.99 320.02V321.55" stroke="#8a2acc" stroke-width="0.7" fill="none" opacity="0.45"/>
<rect x="93.99" y="321.65" width="4" height="4" fill="none" stroke="#8a2acc" stroke-width="0.75"/>
<path d="M143.48 319.41h4.4M143.48 312.16h4.4M145.68 319.41V317.89M145.68 312.16V313.69" stroke="#8a2acc" stroke-width="0.7" fill="none" opacity="0.45"/>
<rect x="143.68" y="313.79" width="4" height="4" fill="none" stroke="#8a2acc" stroke-width="0.75"/>
<path d="M193.18 321.03h4.4M193.18 313.77h4.4M195.38 321.03V319.5M195.38 313.77V315.3" stroke="#8a2acc" stroke-width="0.7" fill="none" opacity="0.45"/>
<rect x="193.38" y="315.4" width="4" height="4" fill="none" stroke="#8a2acc" stroke-width="0.75"/>
<path d="M242.87 323.24h4.4M242.87 315.99h4.4M245.07 323.24V321.72M245.07 315.99V317.52" stroke="#8a2acc" stroke-width="0.7" fill="none" opacity="0.45"/>
<rect x="243.07" y="317.62" width="4" height="4" fill="none" stroke="#8a2acc" stroke-width="0.75"/>
<path d="M292.56 320.22h4.4M292.56 312.96h4.4M294.76 320.22V318.69M294.76 312.96V314.49" stroke="#8a2acc" stroke-width="0.7" fill="none" opacity="0.45"/>
<rect x="292.76" y="314.59" width="4" height="4" fill="none" stroke="#8a2acc" stroke-width="0.75"/>
<path d="M68.95 330.5h4.4M68.95 323.24h4.4M71.15 330.5V328.97M71.15 323.24V324.77" stroke="#8a8a20" stroke-width="0.7" fill="none" opacity="0.45"/>
<rect x="69.15" y="324.87" width="4" height="4" fill="none" stroke="#8a8a20" stroke-width="0.75"/>
<path d="M81.37 327.88h4.4M81.37 320.62h4.4M83.57 327.88V326.35M83.57 320.62V322.15" stroke="#8a8a20" stroke-width="0.7" fill="none" opacity="0.45"/>
<rect x="81.57" y="322.25" width="4" height="4" fill="none" stroke="#8a8a20" stroke-width="0.75"/>
<path d="M93.79 335.34h4.4M93.79 328.08h4.4M95.99 335.34V333.81M95.99 328.08V329.61" stroke="#8a8a20" stroke-width="0.7" fill="none" opacity="0.45"/>
<rect x="93.99" y="329.71" width="4" height="4" fill="none" stroke="#8a8a20" stroke-width="0.75"/>
<path d="M143.48 316.19h4.4M143.48 308.93h4.4M145.68 316.19V314.66M145.68 308.93V310.46" stroke="#8a8a20" stroke-width="0.7" fill="none" opacity="0.45"/>
<rect x="143.68" y="310.56" width="4" height="4" fill="none" stroke="#8a8a20" stroke-width="0.75"/>
<path d="M193.18 316.19h4.4M193.18 308.93h4.4M195.38 316.19V314.66M195.38 308.93V310.46" stroke="#8a8a20" stroke-width="0.7" fill="none" opacity="0.45"/>
<rect x="193.38" y="310.56" width="4" height="4" fill="none" stroke="#8a8a20" stroke-width="0.75"/>
<path d="M242.87 317.2h4.4M242.87 309.94h4.4M245.07 317.2V315.67M245.07 309.94V311.47" stroke="#8a8a20" stroke-width="0.7" fill="none" opacity="0.45"/>
<rect x="243.07" y="311.57" width="4" height="4" fill="none" stroke="#8a8a20" stroke-width="0.75"/>
<path d="M292.56 310.14h4.4M292.56 302.88h4.4M294.76 310.14V308.61M294.76 302.88V304.41" stroke="#8a8a20" stroke-width="0.7" fill="none" opacity="0.45"/>
<rect x="292.76" y="304.51" width="4" height="4" fill="none" stroke="#8a8a20" stroke-width="0.75"/>
<path d="M68.95 327.28h4.4M68.95 320.02h4.4M71.15 327.28V325.75M71.15 320.02V321.55" stroke="#3344ff" stroke-width="0.7" fill="none" opacity="0.45"/>
<rect x="69.15" y="321.65" width="4" height="4" fill="none" stroke="#3344ff" stroke-width="0.75"/>
<path d="M81.37 325.06h4.4M81.37 317.8h4.4M83.57 325.06V323.53M83.57 317.8V319.33" stroke="#3344ff" stroke-width="0.7" fill="none" opacity="0.45"/>
<rect x="81.57" y="319.43" width="4" height="4" fill="none" stroke="#3344ff" stroke-width="0.75"/>
<path d="M93.79 326.07h4.4M93.79 318.81h4.4M95.99 326.07V324.54M95.99 318.81V320.34" stroke="#3344ff" stroke-width="0.7" fill="none" opacity="0.45"/>
<rect x="93.99" y="320.44" width="4" height="4" fill="none" stroke="#3344ff" stroke-width="0.75"/>
<path d="M143.48 325.66h4.4M143.48 318.41h4.4M145.68 325.66V324.14M145.68 318.41V319.94" stroke="#3344ff" stroke-width="0.7" fill="none" opacity="0.45"/>
<rect x="143.68" y="320.04" width="4" height="4" fill="none" stroke="#3344ff" stroke-width="0.75"/>
<path d="M193.18 323.24h4.4M193.18 315.99h4.4M195.38 323.24V321.72M195.38 315.99V317.52" stroke="#3344ff" stroke-width="0.7" fill="none" opacity="0.45"/>
<rect x="193.38" y="317.62" width="4" height="4" fill="none" stroke="#3344ff" stroke-width="0.75"/>
<path d="M242.87 325.26h4.4M242.87 318h4.4M245.07 325.26V323.73M245.07 318V319.53" stroke="#3344ff" stroke-width="0.7" fill="none" opacity="0.45"/>
<rect x="243.07" y="319.63" width="4" height="4" fill="none" stroke="#3344ff" stroke-width="0.75"/>
<path d="M292.56 324.25h4.4M292.56 317h4.4M294.76 324.25V322.72M294.76 317V318.52" stroke="#3344ff" stroke-width="0.7" fill="none" opacity="0.45"/>
<rect x="292.76" y="318.62" width="4" height="4" fill="none" stroke="#3344ff" stroke-width="0.75"/>
<rect x="38" y="284.5" width="281.6" height="225.8" fill="none" stroke="#2a2a2a" stroke-width="1.2"/>
<path d="M46.3 510.3V514.3M95.99 510.3V514.3M145.68 510.3V514.3M195.38 510.3V514.3M245.07 510.3V514.3M294.76 510.3V514.3M56.24 510.3V512.5M66.18 510.3V512.5M76.12 510.3V512.5M86.05 510.3V512.5M105.93 510.3V512.5M115.87 510.3V512.5M125.81 510.3V512.5M135.75 510.3V512.5M155.62 510.3V512.5M165.56 510.3V512.5M175.5 510.3V512.5M185.44 510.3V512.5M205.31 510.3V512.5M215.25 510.3V512.5M225.19 510.3V512.5M235.13 510.3V512.5M255.01 510.3V512.5M264.94 510.3V512.5M274.88 510.3V512.5M284.82 510.3V512.5M304.7 510.3V512.5M314.64 510.3V512.5" stroke="#2a2a2a" stroke-width="1.0" fill="none"/>
<text x="46.3" y="525.2" font-size="9.27" text-anchor="middle" fill="#1e1e1e"  stroke="#1e1e1e" stroke-width="0.22">0</text>
<text x="95.99" y="525.2" font-size="9.27" text-anchor="middle" fill="#1e1e1e"  stroke="#1e1e1e" stroke-width="0.22">60</text>
<text x="145.68" y="525.2" font-size="9.27" text-anchor="middle" fill="#1e1e1e"  stroke="#1e1e1e" stroke-width="0.22">120</text>
<text x="195.38" y="525.2" font-size="9.27" text-anchor="middle" fill="#1e1e1e"  stroke="#1e1e1e" stroke-width="0.22">180</text>
<text x="245.07" y="525.2" font-size="9.27" text-anchor="middle" fill="#1e1e1e"  stroke="#1e1e1e" stroke-width="0.22">240</text>
<text x="294.76" y="525.2" font-size="9.27" text-anchor="middle" fill="#1e1e1e"  stroke="#1e1e1e" stroke-width="0.22">300</text>
<path d="M38 494H34M38 453.68H34M38 413.36H34M38 373.04H34M38 332.72H34M38 292.4H34M38 510.13H35.8M38 502.06H35.8M38 485.94H35.8M38 477.87H35.8M38 469.81H35.8M38 461.74H35.8M38 445.62H35.8M38 437.55H35.8M38 429.49H35.8M38 421.42H35.8M38 405.3H35.8M38 397.23H35.8M38 389.17H35.8M38 381.1H35.8M38 364.98H35.8M38 356.91H35.8M38 348.85H35.8M38 340.78H35.8M38 324.66H35.8M38 316.59H35.8M38 308.53H35.8M38 300.46H35.8M38 284.34H35.8" stroke="#2a2a2a" stroke-width="1.0" fill="none"/>
<text x="30.2" y="496.79" font-size="9.27" text-anchor="end" fill="#1e1e1e"  stroke="#1e1e1e" stroke-width="0.22">0</text>
<text x="30.2" y="456.47" font-size="9.27" text-anchor="end" fill="#1e1e1e"  stroke="#1e1e1e" stroke-width="0.22">20</text>
<text x="30.2" y="416.15" font-size="9.27" text-anchor="end" fill="#1e1e1e"  stroke="#1e1e1e" stroke-width="0.22">40</text>
<text x="30.2" y="375.83" font-size="9.27" text-anchor="end" fill="#1e1e1e"  stroke="#1e1e1e" stroke-width="0.22">60</text>
<text x="30.2" y="335.51" font-size="9.27" text-anchor="end" fill="#1e1e1e"  stroke="#1e1e1e" stroke-width="0.22">80</text>
<text x="30.2" y="295.19" font-size="9.27" text-anchor="end" fill="#1e1e1e"  stroke="#1e1e1e" stroke-width="0.22">100</text>
<text x="0" y="0" transform="translate(10,396.8) rotate(-90)" font-size="9.63" text-anchor="middle" fill="#1e1e1e"  stroke="#1e1e1e" stroke-width="0.22">Removal (%)</text>
<text x="177.2" y="543.1" font-size="11.95" text-anchor="middle" fill="#1e1e1e"  stroke="#1e1e1e" stroke-width="0.22">Time (min)</text>
<text x="46.7" y="298.4" font-size="12.98" text-anchor="start" fill="#1e1e1e"  stroke="#1e1e1e" stroke-width="0.22">(c)</text>
<rect x="214.9" y="436.8" width="4" height="4" fill="none" stroke="#333333" stroke-width="0.8"/>
<text x="230.7" y="442.2" font-size="9.62" text-anchor="start" fill="#1e1e1e"  stroke="#1e1e1e" stroke-width="0.22">pH=3</text>
<rect x="214.9" y="448.65" width="4" height="4" fill="none" stroke="#ff3030" stroke-width="0.8"/>
<text x="230.7" y="454.05" font-size="9.62" text-anchor="start" fill="#1e1e1e"  stroke="#1e1e1e" stroke-width="0.22">pH=5</text>
<rect x="214.9" y="460.5" width="4" height="4" fill="none" stroke="#3344ff" stroke-width="0.8"/>
<text x="230.7" y="465.9" font-size="9.62" text-anchor="start" fill="#1e1e1e"  stroke="#1e1e1e" stroke-width="0.22">pH=5.82 (Natural)</text>
<rect x="214.9" y="472.35" width="4" height="4" fill="none" stroke="#2a8a3a" stroke-width="0.8"/>
<text x="230.7" y="477.75" font-size="9.62" text-anchor="start" fill="#1e1e1e"  stroke="#1e1e1e" stroke-width="0.22">pH=7</text>
<rect x="214.9" y="484.2" width="4" height="4" fill="none" stroke="#8a2acc" stroke-width="0.8"/>
<text x="230.7" y="489.6" font-size="9.62" text-anchor="start" fill="#1e1e1e"  stroke="#1e1e1e" stroke-width="0.22">pH=9</text>
<rect x="214.9" y="496.05" width="4" height="4" fill="none" stroke="#8a8a20" stroke-width="0.8"/>
<text x="230.7" y="501.45" font-size="9.62" text-anchor="start" fill="#1e1e1e"  stroke="#1e1e1e" stroke-width="0.22">pH=11</text>
<path d="M416.5 493L416.5 489.8L416.5 484L416.51 476.61L416.52 468.09L416.53 458.81L416.56 449.12L416.59 439.41L416.63 430.12L416.69 421.44L416.76 412.56L416.85 403.59L416.95 394.8L417.07 386.54L417.21 379.19L417.38 373.21L417.57 369.06L417.78 365.73L418.02 362.55L418.29 359.53L418.58 356.69L418.91 354.02L419.27 351.53L419.67 349.2L420.1 347.05L420.57 345.05L421.07 343.19L421.62 341.47L422.21 339.86L422.85 338.34L423.53 336.89L424.25 335.49L425.03 334.13L425.85 332.87L426.73 331.69L427.66 330.6L428.64 329.58L429.68 328.65L430.78 327.8L431.94 327.01L431.94 327.01L432.54 326.64L433.15 326.29L433.76 325.95L434.36 325.63L434.97 325.33L435.58 325.04L436.18 324.77L436.79 324.5L437.39 324.25L438 324.01L438.61 323.78L439.21 323.55L439.82 323.34L440.42 323.13L441.03 322.93L441.64 322.73L442.24 322.55L442.85 322.36L443.46 322.18L444.06 322.01L444.67 321.84L445.27 321.68L445.88 321.52L446.49 321.36L447.09 321.2L447.7 321.05L448.3 320.9L448.91 320.76L449.52 320.61L450.12 320.47L450.73 320.33L451.34 320.2L451.94 320.07L452.55 319.93L453.15 319.81L453.76 319.68L454.37 319.56L454.97 319.44L455.58 319.32L456.18 319.2L456.79 319.08L457.4 318.97L458 318.86L458.61 318.75L459.22 318.64L459.82 318.54L460.43 318.43L461.03 318.33L461.64 318.23L462.25 318.13L462.85 318.03L463.46 317.94L464.07 317.84L464.67 317.75L465.28 317.66L465.88 317.57L466.49 317.48L467.1 317.4L467.7 317.31L468.31 317.23L468.91 317.14L469.52 317.06L470.13 316.98L470.73 316.9L471.34 316.82L471.95 316.75L472.55 316.67L473.16 316.6L473.76 316.52L474.37 316.45L474.98 316.38L475.58 316.31L476.19 316.24L476.79 316.17L477.4 316.1L478.01 316.04L478.61 315.97L479.22 315.91L479.83 315.84L480.43 315.78L481.04 315.72L481.64 315.65L482.25 315.59L482.86 315.53L483.46 315.47L484.07 315.41L484.67 315.35L485.28 315.3L485.89 315.24L486.49 315.18L487.1 315.13L487.71 315.07L488.31 315.01L488.92 314.96L489.52 314.91L490.13 314.85L490.74 314.8L491.34 314.75L491.95 314.69L492.56 314.64L493.16 314.59L493.77 314.54L494.37 314.49L494.98 314.44L495.59 314.39L496.19 314.34L496.8 314.29L497.4 314.25L498.01 314.2L498.62 314.15L499.22 314.11L499.83 314.06L500.44 314.01L501.04 313.97L501.65 313.92L502.25 313.88L502.86 313.83L503.47 313.79L504.07 313.75L504.68 313.7L505.28 313.66L505.89 313.62L506.5 313.57L507.1 313.53L507.71 313.49L508.32 313.45L508.92 313.41L509.53 313.37L510.13 313.33L510.74 313.29L511.35 313.25L511.95 313.21L512.56 313.17L513.16 313.13L513.77 313.09L514.38 313.05L514.98 313.02L515.59 312.98L516.2 312.94L516.8 312.9L517.41 312.87L518.01 312.83L518.62 312.79L519.23 312.76L519.83 312.72L520.44 312.69L521.05 312.65L521.65 312.62L522.26 312.58L522.86 312.55L523.47 312.51L524.08 312.48L524.68 312.44L525.29 312.41L525.89 312.38L526.5 312.34L527.11 312.31L527.71 312.28L528.32 312.24L528.93 312.21L529.53 312.18L530.14 312.15L530.74 312.11L531.35 312.08L531.96 312.05L532.56 312.02L533.17 311.99L533.77 311.96L534.38 311.93L534.99 311.9L535.59 311.86L536.2 311.83L536.81 311.8L537.41 311.77L538.02 311.74L538.62 311.71L539.23 311.68L539.84 311.65L540.44 311.63L541.05 311.6L541.65 311.57L542.26 311.54L542.87 311.51L543.47 311.48L544.08 311.45L544.69 311.43L545.29 311.4L545.9 311.37L546.5 311.34L547.11 311.32L547.72 311.29L548.32 311.26L548.93 311.24L549.54 311.21L550.14 311.19L550.75 311.16L551.35 311.13L551.96 311.11L552.57 311.08L553.17 311.06L553.78 311.03L554.38 311.01L554.99 310.98L555.6 310.96L556.2 310.93L556.81 310.91L557.42 310.88L558.02 310.86L558.63 310.84L559.23 310.81L559.84 310.79L560.45 310.77L561.05 310.74L561.66 310.72L562.26 310.7L562.87 310.67L563.48 310.65L564.08 310.63L564.69 310.6L565.3 310.58L565.9 310.56L566.51 310.54L567.11 310.52L567.72 310.49L568.33 310.47L568.93 310.45L569.54 310.43L570.14 310.41L570.75 310.38L571.36 310.36L571.96 310.34L572.57 310.32L573.18 310.3L573.78 310.28L574.39 310.26L574.99 310.24L575.6 310.21L576.21 310.19L576.81 310.17L577.42 310.15L578.03 310.13L578.63 310.11L579.24 310.09L579.84 310.07L580.45 310.05L581.06 310.03L581.66 310.01L582.27 309.99L582.87 309.97L583.48 309.95L584.09 309.93L584.69 309.91L585.3 309.89L585.91 309.87L586.51 309.85L587.12 309.83L587.72 309.81L588.33 309.79L588.94 309.77L589.54 309.75L590.15 309.73L590.75 309.71L591.36 309.7L591.97 309.68L592.57 309.66L593.18 309.64L593.79 309.62L594.39 309.6L595 309.58L595.6 309.56L596.21 309.54L596.82 309.52L597.42 309.5L598.03 309.49L598.63 309.47L599.24 309.45L599.85 309.43L600.45 309.41L601.06 309.39L601.67 309.37L602.27 309.35L602.88 309.34L603.48 309.32L604.09 309.3L604.7 309.28L605.3 309.26L605.91 309.24L606.52 309.23L607.12 309.21L607.73 309.19L608.33 309.17L608.94 309.15L609.55 309.13L610.15 309.12L610.76 309.1L611.36 309.08L611.97 309.06L612.58 309.04L613.18 309.03L613.79 309.01L614.4 308.99L615 308.97L615.61 308.96L616.21 308.94L616.82 308.92L617.43 308.9L618.03 308.89L618.64 308.87L619.24 308.85L619.85 308.83L620.46 308.82L621.06 308.8L621.67 308.78L622.28 308.77L622.88 308.75L623.49 308.73L624.09 308.72L624.7 308.7L625.31 308.68L625.91 308.66L626.52 308.65L627.12 308.63L627.73 308.61L628.34 308.6L628.94 308.58L629.55 308.56L630.16 308.55L630.76 308.53L631.37 308.52L631.97 308.5L632.58 308.48L633.19 308.47L633.79 308.45L634.4 308.43L635.01 308.42L635.61 308.4L636.22 308.39L636.82 308.37L637.43 308.35L638.04 308.34L638.64 308.32L639.25 308.31L639.85 308.29L640.46 308.28L641.07 308.26L641.67 308.24L642.28 308.23L642.89 308.21L643.49 308.2L644.1 308.18L644.7 308.17L645.31 308.15L645.92 308.14L646.52 308.12L647.13 308.11L647.73 308.09L648.34 308.08L648.95 308.06L649.55 308.04L650.16 308.03L650.77 308.01L651.37 308L651.98 307.98L652.58 307.97L653.19 307.96L653.8 307.94L654.4 307.93L655.01 307.91L655.61 307.9L656.22 307.88L656.83 307.87L657.43 307.85L658.04 307.84L658.65 307.82L659.25 307.81L659.86 307.79L660.46 307.78L661.07 307.77L661.68 307.75L662.28 307.74L662.89 307.72L663.5 307.71L664.1 307.69L664.71 307.68L665.31 307.67L665.92 307.65L666.53 307.64L667.13 307.62L667.74 307.61L668.34 307.6L668.95 307.58L669.56 307.57L670.16 307.56L670.77 307.54L671.38 307.53L671.98 307.51L672.59 307.5L673.19 307.49L673.8 307.47" fill="none" stroke="#2a9a40" stroke-width="1.1" stroke-dasharray="4.4 4.2" opacity="1.0"/>
<path d="M416.5 493L416.5 490.24L416.5 485.25L416.51 478.88L416.52 471.55L416.53 463.57L416.56 455.26L416.59 446.96L416.63 439.06L416.69 431.77L416.76 424.44L416.85 417.13L416.95 410.03L417.07 403.32L417.21 397.24L417.38 392.04L417.57 387.99L417.78 384.46L418.02 381.06L418.29 377.79L418.58 374.67L418.91 371.69L419.27 368.87L419.67 366.21L420.1 363.69L420.57 361.33L421.07 359.11L421.62 357.02L422.21 355.05L422.85 353.18L423.53 351.41L424.25 349.7L425.03 348.08L425.85 346.57L426.73 345.16L427.66 343.85L428.64 342.62L429.68 341.47L430.78 340.38L431.94 339.34L431.94 339.34L432.54 338.83L433.15 338.34L433.76 337.86L434.36 337.4L434.97 336.96L435.58 336.54L436.18 336.12L436.79 335.73L437.39 335.34L438 334.98L438.61 334.62L439.21 334.28L439.82 333.95L440.42 333.63L441.03 333.33L441.64 333.04L442.24 332.75L442.85 332.48L443.46 332.23L444.06 331.98L444.67 331.74L445.27 331.51L445.88 331.3L446.49 331.09L447.09 330.9L447.7 330.71L448.3 330.53L448.91 330.35L449.52 330.18L450.12 330.01L450.73 329.84L451.34 329.68L451.94 329.53L452.55 329.37L453.15 329.22L453.76 329.08L454.37 328.94L454.97 328.8L455.58 328.66L456.18 328.53L456.79 328.4L457.4 328.27L458 328.15L458.61 328.03L459.22 327.91L459.82 327.79L460.43 327.68L461.03 327.56L461.64 327.46L462.25 327.35L462.85 327.24L463.46 327.14L464.07 327.04L464.67 326.94L465.28 326.84L465.88 326.75L466.49 326.65L467.1 326.56L467.7 326.47L468.31 326.38L468.91 326.3L469.52 326.21L470.13 326.13L470.73 326.04L471.34 325.96L471.95 325.88L472.55 325.8L473.16 325.72L473.76 325.65L474.37 325.57L474.98 325.5L475.58 325.43L476.19 325.35L476.79 325.28L477.4 325.21L478.01 325.14L478.61 325.08L479.22 325.01L479.83 324.94L480.43 324.88L481.04 324.81L481.64 324.75L482.25 324.69L482.86 324.62L483.46 324.56L484.07 324.5L484.67 324.44L485.28 324.38L485.89 324.33L486.49 324.27L487.1 324.21L487.71 324.16L488.31 324.1L488.92 324.05L489.52 323.99L490.13 323.94L490.74 323.89L491.34 323.84L491.95 323.78L492.56 323.73L493.16 323.68L493.77 323.63L494.37 323.58L494.98 323.53L495.59 323.49L496.19 323.44L496.8 323.39L497.4 323.34L498.01 323.3L498.62 323.25L499.22 323.21L499.83 323.16L500.44 323.12L501.04 323.07L501.65 323.03L502.25 322.99L502.86 322.94L503.47 322.9L504.07 322.86L504.68 322.82L505.28 322.78L505.89 322.73L506.5 322.69L507.1 322.65L507.71 322.61L508.32 322.57L508.92 322.53L509.53 322.49L510.13 322.45L510.74 322.42L511.35 322.38L511.95 322.34L512.56 322.3L513.16 322.26L513.77 322.23L514.38 322.19L514.98 322.15L515.59 322.11L516.2 322.08L516.8 322.04L517.41 322.01L518.01 321.97L518.62 321.93L519.23 321.9L519.83 321.86L520.44 321.83L521.05 321.79L521.65 321.76L522.26 321.72L522.86 321.69L523.47 321.65L524.08 321.62L524.68 321.59L525.29 321.55L525.89 321.52L526.5 321.48L527.11 321.45L527.71 321.42L528.32 321.38L528.93 321.35L529.53 321.32L530.14 321.28L530.74 321.25L531.35 321.22L531.96 321.18L532.56 321.15L533.17 321.12L533.77 321.09L534.38 321.05L534.99 321.02L535.59 320.99L536.2 320.96L536.81 320.92L537.41 320.89L538.02 320.86L538.62 320.83L539.23 320.79L539.84 320.76L540.44 320.73L541.05 320.7L541.65 320.67L542.26 320.63L542.87 320.6L543.47 320.57L544.08 320.54L544.69 320.51L545.29 320.48L545.9 320.45L546.5 320.42L547.11 320.39L547.72 320.36L548.32 320.33L548.93 320.3L549.54 320.27L550.14 320.24L550.75 320.21L551.35 320.18L551.96 320.15L552.57 320.12L553.17 320.09L553.78 320.06L554.38 320.03L554.99 320.01L555.6 319.98L556.2 319.95L556.81 319.92L557.42 319.89L558.02 319.87L558.63 319.84L559.23 319.81L559.84 319.78L560.45 319.76L561.05 319.73L561.66 319.7L562.26 319.67L562.87 319.65L563.48 319.62L564.08 319.59L564.69 319.57L565.3 319.54L565.9 319.51L566.51 319.49L567.11 319.46L567.72 319.44L568.33 319.41L568.93 319.38L569.54 319.36L570.14 319.33L570.75 319.31L571.36 319.28L571.96 319.26L572.57 319.23L573.18 319.21L573.78 319.18L574.39 319.15L574.99 319.13L575.6 319.1L576.21 319.08L576.81 319.06L577.42 319.03L578.03 319.01L578.63 318.98L579.24 318.96L579.84 318.93L580.45 318.91L581.06 318.88L581.66 318.86L582.27 318.84L582.87 318.81L583.48 318.79L584.09 318.76L584.69 318.74L585.3 318.72L585.91 318.69L586.51 318.67L587.12 318.65L587.72 318.62L588.33 318.6L588.94 318.58L589.54 318.55L590.15 318.53L590.75 318.51L591.36 318.48L591.97 318.46L592.57 318.44L593.18 318.42L593.79 318.39L594.39 318.37L595 318.35L595.6 318.32L596.21 318.3L596.82 318.28L597.42 318.26L598.03 318.23L598.63 318.21L599.24 318.19L599.85 318.17L600.45 318.14L601.06 318.12L601.67 318.1L602.27 318.08L602.88 318.06L603.48 318.03L604.09 318.01L604.7 317.99L605.3 317.97L605.91 317.95L606.52 317.92L607.12 317.9L607.73 317.88L608.33 317.86L608.94 317.84L609.55 317.82L610.15 317.79L610.76 317.77L611.36 317.75L611.97 317.73L612.58 317.71L613.18 317.69L613.79 317.67L614.4 317.65L615 317.63L615.61 317.6L616.21 317.58L616.82 317.56L617.43 317.54L618.03 317.52L618.64 317.5L619.24 317.48L619.85 317.46L620.46 317.44L621.06 317.42L621.67 317.4L622.28 317.38L622.88 317.36L623.49 317.34L624.09 317.32L624.7 317.3L625.31 317.28L625.91 317.26L626.52 317.24L627.12 317.22L627.73 317.2L628.34 317.18L628.94 317.16L629.55 317.14L630.16 317.12L630.76 317.1L631.37 317.08L631.97 317.06L632.58 317.04L633.19 317.02L633.79 317L634.4 316.98L635.01 316.96L635.61 316.94L636.22 316.92L636.82 316.91L637.43 316.89L638.04 316.87L638.64 316.85L639.25 316.83L639.85 316.81L640.46 316.79L641.07 316.77L641.67 316.75L642.28 316.73L642.89 316.72L643.49 316.7L644.1 316.68L644.7 316.66L645.31 316.64L645.92 316.62L646.52 316.6L647.13 316.59L647.73 316.57L648.34 316.55L648.95 316.53L649.55 316.51L650.16 316.5L650.77 316.48L651.37 316.46L651.98 316.44L652.58 316.42L653.19 316.41L653.8 316.39L654.4 316.37L655.01 316.35L655.61 316.33L656.22 316.32L656.83 316.3L657.43 316.28L658.04 316.26L658.65 316.25L659.25 316.23L659.86 316.21L660.46 316.19L661.07 316.18L661.68 316.16L662.28 316.14L662.89 316.12L663.5 316.11L664.1 316.09L664.71 316.07L665.31 316.06L665.92 316.04L666.53 316.02L667.13 316L667.74 315.99L668.34 315.97L668.95 315.95L669.56 315.94L670.16 315.92L670.77 315.9L671.38 315.89L671.98 315.87L672.59 315.85L673.19 315.84L673.8 315.82" fill="none" stroke="#2a3aff" stroke-width="1.1" stroke-dasharray="4.4 4.2" opacity="1.0"/>
<path d="M416.5 493L416.5 491.22L416.5 487.99L416.51 483.87L416.52 479.08L416.53 473.79L416.56 468.16L416.59 462.34L416.63 456.48L416.69 450.76L416.76 445.38L416.85 440.19L416.95 435L417.07 429.89L417.21 424.91L417.38 420.15L417.57 415.68L417.78 411.59L418.02 407.97L418.29 404.72L418.58 401.57L418.91 398.54L419.27 395.63L419.67 392.84L420.1 390.17L420.57 387.61L421.07 385.17L421.62 382.83L422.21 380.59L422.85 378.44L423.53 376.36L424.25 374.35L425.03 372.41L425.85 370.58L426.73 368.85L427.66 367.2L428.64 365.63L429.68 364.1L430.78 362.62L431.94 361.16L431.94 361.16L432.54 360.42L433.15 359.71L433.76 359.02L434.36 358.34L434.97 357.69L435.58 357.05L436.18 356.43L436.79 355.83L437.39 355.25L438 354.68L438.61 354.13L439.21 353.6L439.82 353.08L440.42 352.58L441.03 352.09L441.64 351.62L442.24 351.17L442.85 350.73L443.46 350.3L444.06 349.89L444.67 349.49L445.27 349.11L445.88 348.74L446.49 348.38L447.09 348.04L447.7 347.7L448.3 347.38L448.91 347.06L449.52 346.75L450.12 346.44L450.73 346.14L451.34 345.84L451.94 345.55L452.55 345.26L453.15 344.98L453.76 344.7L454.37 344.43L454.97 344.16L455.58 343.89L456.18 343.64L456.79 343.38L457.4 343.13L458 342.89L458.61 342.65L459.22 342.41L459.82 342.18L460.43 341.95L461.03 341.73L461.64 341.51L462.25 341.3L462.85 341.09L463.46 340.88L464.07 340.68L464.67 340.49L465.28 340.29L465.88 340.1L466.49 339.92L467.1 339.74L467.7 339.56L468.31 339.39L468.91 339.22L469.52 339.05L470.13 338.89L470.73 338.73L471.34 338.57L471.95 338.42L472.55 338.28L473.16 338.13L473.76 337.99L474.37 337.86L474.98 337.72L475.58 337.59L476.19 337.47L476.79 337.35L477.4 337.23L478.01 337.11L478.61 337L479.22 336.89L479.83 336.78L480.43 336.67L481.04 336.57L481.64 336.46L482.25 336.36L482.86 336.26L483.46 336.16L484.07 336.06L484.67 335.96L485.28 335.87L485.89 335.77L486.49 335.68L487.1 335.59L487.71 335.5L488.31 335.41L488.92 335.32L489.52 335.23L490.13 335.15L490.74 335.06L491.34 334.98L491.95 334.89L492.56 334.81L493.16 334.73L493.77 334.65L494.37 334.57L494.98 334.49L495.59 334.42L496.19 334.34L496.8 334.27L497.4 334.19L498.01 334.12L498.62 334.05L499.22 333.97L499.83 333.9L500.44 333.83L501.04 333.76L501.65 333.7L502.25 333.63L502.86 333.56L503.47 333.49L504.07 333.43L504.68 333.36L505.28 333.3L505.89 333.24L506.5 333.17L507.1 333.11L507.71 333.05L508.32 332.99L508.92 332.93L509.53 332.87L510.13 332.81L510.74 332.75L511.35 332.69L511.95 332.64L512.56 332.58L513.16 332.52L513.77 332.47L514.38 332.41L514.98 332.36L515.59 332.3L516.2 332.25L516.8 332.2L517.41 332.14L518.01 332.09L518.62 332.04L519.23 331.99L519.83 331.94L520.44 331.89L521.05 331.84L521.65 331.79L522.26 331.74L522.86 331.69L523.47 331.64L524.08 331.59L524.68 331.54L525.29 331.49L525.89 331.45L526.5 331.4L527.11 331.35L527.71 331.31L528.32 331.26L528.93 331.22L529.53 331.17L530.14 331.13L530.74 331.08L531.35 331.04L531.96 330.99L532.56 330.95L533.17 330.9L533.77 330.86L534.38 330.82L534.99 330.77L535.59 330.73L536.2 330.69L536.81 330.65L537.41 330.6L538.02 330.56L538.62 330.52L539.23 330.48L539.84 330.44L540.44 330.4L541.05 330.36L541.65 330.32L542.26 330.28L542.87 330.24L543.47 330.2L544.08 330.16L544.69 330.12L545.29 330.08L545.9 330.04L546.5 330.01L547.11 329.97L547.72 329.93L548.32 329.9L548.93 329.86L549.54 329.82L550.14 329.79L550.75 329.75L551.35 329.72L551.96 329.68L552.57 329.65L553.17 329.61L553.78 329.58L554.38 329.55L554.99 329.51L555.6 329.48L556.2 329.45L556.81 329.41L557.42 329.38L558.02 329.35L558.63 329.32L559.23 329.29L559.84 329.25L560.45 329.22L561.05 329.19L561.66 329.16L562.26 329.13L562.87 329.1L563.48 329.07L564.08 329.04L564.69 329.01L565.3 328.98L565.9 328.95L566.51 328.92L567.11 328.89L567.72 328.86L568.33 328.83L568.93 328.8L569.54 328.77L570.14 328.75L570.75 328.72L571.36 328.69L571.96 328.66L572.57 328.63L573.18 328.6L573.78 328.58L574.39 328.55L574.99 328.52L575.6 328.49L576.21 328.47L576.81 328.44L577.42 328.41L578.03 328.39L578.63 328.36L579.24 328.33L579.84 328.31L580.45 328.28L581.06 328.25L581.66 328.23L582.27 328.2L582.87 328.18L583.48 328.15L584.09 328.12L584.69 328.1L585.3 328.07L585.91 328.05L586.51 328.02L587.12 327.99L587.72 327.97L588.33 327.94L588.94 327.92L589.54 327.89L590.15 327.87L590.75 327.84L591.36 327.82L591.97 327.79L592.57 327.77L593.18 327.74L593.79 327.72L594.39 327.69L595 327.67L595.6 327.64L596.21 327.62L596.82 327.59L597.42 327.57L598.03 327.54L598.63 327.52L599.24 327.49L599.85 327.47L600.45 327.44L601.06 327.42L601.67 327.4L602.27 327.37L602.88 327.35L603.48 327.32L604.09 327.3L604.7 327.27L605.3 327.25L605.91 327.22L606.52 327.2L607.12 327.18L607.73 327.15L608.33 327.13L608.94 327.11L609.55 327.08L610.15 327.06L610.76 327.03L611.36 327.01L611.97 326.99L612.58 326.96L613.18 326.94L613.79 326.92L614.4 326.89L615 326.87L615.61 326.85L616.21 326.83L616.82 326.8L617.43 326.78L618.03 326.76L618.64 326.73L619.24 326.71L619.85 326.69L620.46 326.67L621.06 326.64L621.67 326.62L622.28 326.6L622.88 326.58L623.49 326.55L624.09 326.53L624.7 326.51L625.31 326.49L625.91 326.47L626.52 326.44L627.12 326.42L627.73 326.4L628.34 326.38L628.94 326.36L629.55 326.34L630.16 326.32L630.76 326.29L631.37 326.27L631.97 326.25L632.58 326.23L633.19 326.21L633.79 326.19L634.4 326.17L635.01 326.15L635.61 326.13L636.22 326.1L636.82 326.08L637.43 326.06L638.04 326.04L638.64 326.02L639.25 326L639.85 325.98L640.46 325.96L641.07 325.94L641.67 325.92L642.28 325.9L642.89 325.88L643.49 325.86L644.1 325.84L644.7 325.82L645.31 325.8L645.92 325.78L646.52 325.76L647.13 325.74L647.73 325.72L648.34 325.7L648.95 325.68L649.55 325.66L650.16 325.64L650.77 325.62L651.37 325.6L651.98 325.58L652.58 325.56L653.19 325.55L653.8 325.53L654.4 325.51L655.01 325.49L655.61 325.47L656.22 325.45L656.83 325.43L657.43 325.41L658.04 325.39L658.65 325.38L659.25 325.36L659.86 325.34L660.46 325.32L661.07 325.3L661.68 325.28L662.28 325.26L662.89 325.25L663.5 325.23L664.1 325.21L664.71 325.19L665.31 325.17L665.92 325.16L666.53 325.14L667.13 325.12L667.74 325.1L668.34 325.08L668.95 325.07L669.56 325.05L670.16 325.03L670.77 325.01L671.38 325L671.98 324.98L672.59 324.96L673.19 324.94L673.8 324.93" fill="none" stroke="#ff3030" stroke-width="1.1" stroke-dasharray="4.4 4.2" opacity="1.0"/>
<path d="M416.5 493L416.5 491.17L416.5 487.85L416.51 483.6L416.52 478.69L416.53 473.28L416.56 467.56L416.59 461.7L416.63 455.9L416.69 450.39L416.76 445.4L416.85 440.77L416.95 436.23L417.07 431.83L417.21 427.63L417.38 423.66L417.57 419.97L417.78 416.6L418.02 413.61L418.29 410.88L418.58 408.24L418.91 405.69L419.27 403.23L419.67 400.87L420.1 398.61L420.57 396.46L421.07 394.41L421.62 392.48L422.21 390.64L422.85 388.92L423.53 387.29L424.25 385.75L425.03 384.32L425.85 383L426.73 381.77L427.66 380.61L428.64 379.51L429.68 378.45L430.78 377.4L431.94 376.33L431.94 376.33L432.54 375.79L433.15 375.27L433.76 374.77L434.36 374.28L434.97 373.8L435.58 373.34L436.18 372.89L436.79 372.45L437.39 372.03L438 371.61L438.61 371.21L439.21 370.81L439.82 370.43L440.42 370.05L441.03 369.69L441.64 369.33L442.24 368.98L442.85 368.63L443.46 368.3L444.06 367.97L444.67 367.65L445.27 367.33L445.88 367.02L446.49 366.72L447.09 366.42L447.7 366.12L448.3 365.84L448.91 365.55L449.52 365.27L450.12 364.99L450.73 364.72L451.34 364.45L451.94 364.18L452.55 363.92L453.15 363.66L453.76 363.41L454.37 363.16L454.97 362.91L455.58 362.66L456.18 362.42L456.79 362.18L457.4 361.95L458 361.71L458.61 361.48L459.22 361.26L459.82 361.03L460.43 360.81L461.03 360.6L461.64 360.38L462.25 360.17L462.85 359.96L463.46 359.75L464.07 359.55L464.67 359.35L465.28 359.15L465.88 358.95L466.49 358.76L467.1 358.57L467.7 358.38L468.31 358.19L468.91 358.01L469.52 357.83L470.13 357.65L470.73 357.47L471.34 357.3L471.95 357.13L472.55 356.96L473.16 356.79L473.76 356.62L474.37 356.46L474.98 356.3L475.58 356.14L476.19 355.99L476.79 355.83L477.4 355.68L478.01 355.53L478.61 355.38L479.22 355.23L479.83 355.09L480.43 354.94L481.04 354.8L481.64 354.66L482.25 354.52L482.86 354.38L483.46 354.24L484.07 354.11L484.67 353.97L485.28 353.84L485.89 353.71L486.49 353.58L487.1 353.45L487.71 353.32L488.31 353.19L488.92 353.07L489.52 352.94L490.13 352.82L490.74 352.69L491.34 352.57L491.95 352.45L492.56 352.33L493.16 352.21L493.77 352.1L494.37 351.98L494.98 351.86L495.59 351.75L496.19 351.63L496.8 351.52L497.4 351.41L498.01 351.3L498.62 351.19L499.22 351.08L499.83 350.97L500.44 350.86L501.04 350.75L501.65 350.65L502.25 350.54L502.86 350.43L503.47 350.33L504.07 350.23L504.68 350.12L505.28 350.02L505.89 349.92L506.5 349.82L507.1 349.72L507.71 349.62L508.32 349.52L508.92 349.42L509.53 349.32L510.13 349.23L510.74 349.13L511.35 349.04L511.95 348.94L512.56 348.85L513.16 348.75L513.77 348.66L514.38 348.57L514.98 348.47L515.59 348.38L516.2 348.29L516.8 348.2L517.41 348.11L518.01 348.02L518.62 347.93L519.23 347.84L519.83 347.75L520.44 347.66L521.05 347.58L521.65 347.49L522.26 347.4L522.86 347.32L523.47 347.23L524.08 347.15L524.68 347.06L525.29 346.98L525.89 346.89L526.5 346.81L527.11 346.73L527.71 346.64L528.32 346.56L528.93 346.48L529.53 346.4L530.14 346.31L530.74 346.23L531.35 346.15L531.96 346.07L532.56 345.99L533.17 345.91L533.77 345.83L534.38 345.75L534.99 345.68L535.59 345.6L536.2 345.52L536.81 345.44L537.41 345.36L538.02 345.29L538.62 345.21L539.23 345.13L539.84 345.06L540.44 344.98L541.05 344.9L541.65 344.83L542.26 344.75L542.87 344.68L543.47 344.6L544.08 344.53L544.69 344.46L545.29 344.39L545.9 344.31L546.5 344.24L547.11 344.17L547.72 344.1L548.32 344.03L548.93 343.96L549.54 343.89L550.14 343.82L550.75 343.75L551.35 343.68L551.96 343.61L552.57 343.54L553.17 343.47L553.78 343.41L554.38 343.34L554.99 343.27L555.6 343.21L556.2 343.14L556.81 343.07L557.42 343.01L558.02 342.94L558.63 342.88L559.23 342.81L559.84 342.75L560.45 342.68L561.05 342.62L561.66 342.56L562.26 342.49L562.87 342.43L563.48 342.37L564.08 342.3L564.69 342.24L565.3 342.18L565.9 342.12L566.51 342.06L567.11 341.99L567.72 341.93L568.33 341.87L568.93 341.81L569.54 341.75L570.14 341.69L570.75 341.63L571.36 341.57L571.96 341.51L572.57 341.45L573.18 341.39L573.78 341.33L574.39 341.28L574.99 341.22L575.6 341.16L576.21 341.1L576.81 341.04L577.42 340.98L578.03 340.93L578.63 340.87L579.24 340.81L579.84 340.75L580.45 340.7L581.06 340.64L581.66 340.58L582.27 340.53L582.87 340.47L583.48 340.41L584.09 340.36L584.69 340.3L585.3 340.25L585.91 340.19L586.51 340.13L587.12 340.08L587.72 340.02L588.33 339.97L588.94 339.91L589.54 339.86L590.15 339.8L590.75 339.75L591.36 339.69L591.97 339.64L592.57 339.59L593.18 339.53L593.79 339.48L594.39 339.42L595 339.37L595.6 339.32L596.21 339.26L596.82 339.21L597.42 339.15L598.03 339.1L598.63 339.05L599.24 338.99L599.85 338.94L600.45 338.89L601.06 338.83L601.67 338.78L602.27 338.73L602.88 338.68L603.48 338.62L604.09 338.57L604.7 338.52L605.3 338.47L605.91 338.41L606.52 338.36L607.12 338.31L607.73 338.26L608.33 338.21L608.94 338.16L609.55 338.1L610.15 338.05L610.76 338L611.36 337.95L611.97 337.9L612.58 337.85L613.18 337.8L613.79 337.75L614.4 337.7L615 337.65L615.61 337.6L616.21 337.55L616.82 337.5L617.43 337.45L618.03 337.4L618.64 337.35L619.24 337.3L619.85 337.25L620.46 337.2L621.06 337.15L621.67 337.1L622.28 337.05L622.88 337L623.49 336.96L624.09 336.91L624.7 336.86L625.31 336.81L625.91 336.76L626.52 336.71L627.12 336.67L627.73 336.62L628.34 336.57L628.94 336.52L629.55 336.47L630.16 336.43L630.76 336.38L631.37 336.33L631.97 336.29L632.58 336.24L633.19 336.19L633.79 336.14L634.4 336.1L635.01 336.05L635.61 336.01L636.22 335.96L636.82 335.91L637.43 335.87L638.04 335.82L638.64 335.77L639.25 335.73L639.85 335.68L640.46 335.64L641.07 335.59L641.67 335.55L642.28 335.5L642.89 335.46L643.49 335.41L644.1 335.37L644.7 335.32L645.31 335.28L645.92 335.23L646.52 335.19L647.13 335.14L647.73 335.1L648.34 335.05L648.95 335.01L649.55 334.96L650.16 334.92L650.77 334.88L651.37 334.83L651.98 334.79L652.58 334.74L653.19 334.7L653.8 334.66L654.4 334.61L655.01 334.57L655.61 334.53L656.22 334.48L656.83 334.44L657.43 334.4L658.04 334.36L658.65 334.31L659.25 334.27L659.86 334.23L660.46 334.19L661.07 334.14L661.68 334.1L662.28 334.06L662.89 334.02L663.5 333.97L664.1 333.93L664.71 333.89L665.31 333.85L665.92 333.81L666.53 333.77L667.13 333.72L667.74 333.68L668.34 333.64L668.95 333.6L669.56 333.56L670.16 333.52L670.77 333.48L671.38 333.44L671.98 333.39L672.59 333.35L673.19 333.31L673.8 333.27" fill="none" stroke="#333333" stroke-width="1.1" stroke-dasharray="4.4 4.2" opacity="1.0"/>
<rect x="414.25" y="490.75" width="4.5" height="4.5" fill="none" stroke="#333333" stroke-width="0.85"/>
<path d="M421.92 389.23h4.6M421.92 377.09h4.6M424.22 389.23V385.76M424.22 377.09V380.56" stroke="#333333" stroke-width="0.7" fill="none" opacity="0.4"/>
<rect x="421.97" y="380.91" width="4.5" height="4.5" fill="none" stroke="#333333" stroke-width="0.85"/>
<path d="M429.64 380.51h4.6M429.64 368.37h4.6M431.94 380.51V377.04M431.94 368.37V371.84" stroke="#333333" stroke-width="0.7" fill="none" opacity="0.4"/>
<rect x="429.69" y="372.19" width="4.5" height="4.5" fill="none" stroke="#333333" stroke-width="0.85"/>
<path d="M437.36 377.47h4.6M437.36 365.33h4.6M439.66 377.47V374M439.66 365.33V368.8" stroke="#333333" stroke-width="0.7" fill="none" opacity="0.4"/>
<rect x="437.41" y="369.15" width="4.5" height="4.5" fill="none" stroke="#333333" stroke-width="0.85"/>
<path d="M445.08 370.83h4.6M445.08 358.69h4.6M447.38 370.83V367.36M447.38 358.69V362.16" stroke="#333333" stroke-width="0.7" fill="none" opacity="0.4"/>
<rect x="445.13" y="362.51" width="4.5" height="4.5" fill="none" stroke="#333333" stroke-width="0.85"/>
<path d="M460.51 360.4h4.6M460.51 351.67h4.6M462.81 360.4V358.64M462.81 351.67V353.44" stroke="#333333" stroke-width="0.7" fill="none" opacity="0.4"/>
<rect x="460.56" y="353.79" width="4.5" height="4.5" fill="none" stroke="#333333" stroke-width="0.85"/>
<path d="M475.95 359.45h4.6M475.95 350.73h4.6M478.25 359.45V357.69M478.25 350.73V352.49" stroke="#333333" stroke-width="0.7" fill="none" opacity="0.4"/>
<rect x="476" y="352.84" width="4.5" height="4.5" fill="none" stroke="#333333" stroke-width="0.85"/>
<path d="M506.83 355.28h4.6M506.83 346.55h4.6M509.13 355.28V353.51M509.13 346.55V348.31" stroke="#333333" stroke-width="0.7" fill="none" opacity="0.4"/>
<rect x="506.88" y="348.66" width="4.5" height="4.5" fill="none" stroke="#333333" stroke-width="0.85"/>
<path d="M537.7 351.29h4.6M537.7 342.57h4.6M540 351.29V349.53M540 342.57V344.33" stroke="#333333" stroke-width="0.7" fill="none" opacity="0.4"/>
<rect x="537.75" y="344.68" width="4.5" height="4.5" fill="none" stroke="#333333" stroke-width="0.85"/>
<path d="M568.58 342.38h4.6M568.58 333.65h4.6M570.88 342.38V340.62M570.88 333.65V335.42" stroke="#333333" stroke-width="0.7" fill="none" opacity="0.4"/>
<rect x="568.63" y="335.77" width="4.5" height="4.5" fill="none" stroke="#333333" stroke-width="0.85"/>
<path d="M599.46 339.91h4.6M599.46 331.19h4.6M601.76 339.91V338.15M601.76 331.19V332.95" stroke="#333333" stroke-width="0.7" fill="none" opacity="0.4"/>
<rect x="599.51" y="333.3" width="4.5" height="4.5" fill="none" stroke="#333333" stroke-width="0.85"/>
<path d="M630.33 340.29h4.6M630.33 331.57h4.6M632.63 340.29V338.53M632.63 331.57V333.33" stroke="#333333" stroke-width="0.7" fill="none" opacity="0.4"/>
<rect x="630.38" y="333.68" width="4.5" height="4.5" fill="none" stroke="#333333" stroke-width="0.85"/>
<path d="M661.21 334.79h4.6M661.21 326.06h4.6M663.51 334.79V333.03M663.51 326.06V327.83" stroke="#333333" stroke-width="0.7" fill="none" opacity="0.4"/>
<rect x="661.26" y="328.18" width="4.5" height="4.5" fill="none" stroke="#333333" stroke-width="0.85"/>
<circle cx="416.5" cy="493" r="2.5" fill="none" stroke="#ff3030" stroke-width="0.85"/>
<path d="M421.92 379.94h4.6M421.92 367.8h4.6M424.22 379.94V376.47M424.22 367.8V371.27" stroke="#ff3030" stroke-width="0.7" fill="none" opacity="0.4"/>
<circle cx="424.22" cy="373.87" r="2.5" fill="none" stroke="#ff3030" stroke-width="0.85"/>
<path d="M429.64 366.66h4.6M429.64 354.52h4.6M431.94 366.66V363.19M431.94 354.52V357.99" stroke="#ff3030" stroke-width="0.7" fill="none" opacity="0.4"/>
<circle cx="431.94" cy="360.59" r="2.5" fill="none" stroke="#ff3030" stroke-width="0.85"/>
<path d="M437.36 373.87h4.6M437.36 361.73h4.6M439.66 373.87V370.4M439.66 361.73V365.2" stroke="#ff3030" stroke-width="0.7" fill="none" opacity="0.4"/>
<circle cx="439.66" cy="367.8" r="2.5" fill="none" stroke="#ff3030" stroke-width="0.85"/>
<path d="M445.08 355.66h4.6M445.08 343.52h4.6M447.38 355.66V352.19M447.38 343.52V346.99" stroke="#ff3030" stroke-width="0.7" fill="none" opacity="0.4"/>
<circle cx="447.38" cy="349.59" r="2.5" fill="none" stroke="#ff3030" stroke-width="0.85"/>
<path d="M460.51 342h4.6M460.51 333.27h4.6M462.81 342V340.24M462.81 333.27V335.04" stroke="#ff3030" stroke-width="0.7" fill="none" opacity="0.4"/>
<circle cx="462.81" cy="337.64" r="2.5" fill="none" stroke="#ff3030" stroke-width="0.85"/>
<path d="M475.95 339.34h4.6M475.95 330.62h4.6M478.25 339.34V337.58M478.25 330.62V332.38" stroke="#ff3030" stroke-width="0.7" fill="none" opacity="0.4"/>
<circle cx="478.25" cy="334.98" r="2.5" fill="none" stroke="#ff3030" stroke-width="0.85"/>
<path d="M506.83 335.36h4.6M506.83 326.63h4.6M509.13 335.36V333.6M509.13 326.63V328.4" stroke="#ff3030" stroke-width="0.7" fill="none" opacity="0.4"/>
<circle cx="509.13" cy="331" r="2.5" fill="none" stroke="#ff3030" stroke-width="0.85"/>
<path d="M537.7 332.89h4.6M537.7 324.17h4.6M540 332.89V331.13M540 324.17V325.93" stroke="#ff3030" stroke-width="0.7" fill="none" opacity="0.4"/>
<circle cx="540" cy="328.53" r="2.5" fill="none" stroke="#ff3030" stroke-width="0.85"/>
<path d="M568.58 334.41h4.6M568.58 325.68h4.6M570.88 334.41V332.65M570.88 325.68V327.45" stroke="#ff3030" stroke-width="0.7" fill="none" opacity="0.4"/>
<circle cx="570.88" cy="330.05" r="2.5" fill="none" stroke="#ff3030" stroke-width="0.85"/>
<path d="M599.46 330.05h4.6M599.46 321.32h4.6M601.76 330.05V328.28M601.76 321.32V323.08" stroke="#ff3030" stroke-width="0.7" fill="none" opacity="0.4"/>
<circle cx="601.76" cy="325.68" r="2.5" fill="none" stroke="#ff3030" stroke-width="0.85"/>
<path d="M630.33 330.05h4.6M630.33 321.32h4.6M632.63 330.05V328.28M632.63 321.32V323.08" stroke="#ff3030" stroke-width="0.7" fill="none" opacity="0.4"/>
<circle cx="632.63" cy="325.68" r="2.5" fill="none" stroke="#ff3030" stroke-width="0.85"/>
<path d="M661.21 328.91h4.6M661.21 320.18h4.6M663.51 328.91V327.15M663.51 320.18V321.95" stroke="#ff3030" stroke-width="0.7" fill="none" opacity="0.4"/>
<circle cx="663.51" cy="324.55" r="2.5" fill="none" stroke="#ff3030" stroke-width="0.85"/>
<path d="M416.5 490.27L419.41 495.03L413.59 495.03Z" fill="none" stroke="#2255ee" stroke-width="0.85"/>
<path d="M421.92 356.99h4.6M421.92 344.84h4.6M424.22 356.99V353.51M424.22 344.84V348.31" stroke="#2255ee" stroke-width="0.7" fill="none" opacity="0.4"/>
<path d="M424.22 348.18L427.13 352.94L421.31 352.94Z" fill="none" stroke="#2255ee" stroke-width="0.85"/>
<path d="M429.64 343.71h4.6M429.64 331.57h4.6M431.94 343.71V340.24M431.94 331.57V335.04" stroke="#2255ee" stroke-width="0.7" fill="none" opacity="0.4"/>
<path d="M431.94 334.91L434.85 339.66L429.03 339.66Z" fill="none" stroke="#2255ee" stroke-width="0.85"/>
<path d="M437.36 338.96h4.6M437.36 326.82h4.6M439.66 338.96V335.49M439.66 326.82V330.29" stroke="#2255ee" stroke-width="0.7" fill="none" opacity="0.4"/>
<path d="M439.66 330.16L442.57 334.92L436.75 334.92Z" fill="none" stroke="#2255ee" stroke-width="0.85"/>
<path d="M445.08 334.98h4.6M445.08 322.84h4.6M447.38 334.98V331.51M447.38 322.84V326.31" stroke="#2255ee" stroke-width="0.7" fill="none" opacity="0.4"/>
<path d="M447.38 326.18L450.29 330.94L444.46 330.94Z" fill="none" stroke="#2255ee" stroke-width="0.85"/>
<path d="M460.51 330.81h4.6M460.51 322.08h4.6M462.81 330.81V329.04M462.81 322.08V323.84" stroke="#2255ee" stroke-width="0.7" fill="none" opacity="0.4"/>
<path d="M462.81 323.71L465.73 328.47L459.9 328.47Z" fill="none" stroke="#2255ee" stroke-width="0.85"/>
<path d="M475.95 326.82h4.6M475.95 318.1h4.6M478.25 326.82V325.06M478.25 318.1V319.86" stroke="#2255ee" stroke-width="0.7" fill="none" opacity="0.4"/>
<path d="M478.25 319.73L481.16 324.49L475.34 324.49Z" fill="none" stroke="#2255ee" stroke-width="0.85"/>
<path d="M506.83 327.2h4.6M506.83 318.48h4.6M509.13 327.2V325.44M509.13 318.48V320.24" stroke="#2255ee" stroke-width="0.7" fill="none" opacity="0.4"/>
<path d="M509.13 320.11L512.04 324.87L506.22 324.87Z" fill="none" stroke="#2255ee" stroke-width="0.85"/>
<path d="M537.7 323.98h4.6M537.7 315.25h4.6M540 323.98V322.21M540 315.25V317.01" stroke="#2255ee" stroke-width="0.7" fill="none" opacity="0.4"/>
<path d="M540 316.88L542.92 321.64L537.09 321.64Z" fill="none" stroke="#2255ee" stroke-width="0.85"/>
<path d="M568.58 323.98h4.6M568.58 315.25h4.6M570.88 323.98V322.21M570.88 315.25V317.01" stroke="#2255ee" stroke-width="0.7" fill="none" opacity="0.4"/>
<path d="M570.88 316.88L573.79 321.64L567.97 321.64Z" fill="none" stroke="#2255ee" stroke-width="0.85"/>
<path d="M599.46 322.46h4.6M599.46 313.73h4.6M601.76 322.46V320.7M601.76 313.73V315.5" stroke="#2255ee" stroke-width="0.7" fill="none" opacity="0.4"/>
<path d="M601.76 315.37L604.67 320.12L598.84 320.12Z" fill="none" stroke="#2255ee" stroke-width="0.85"/>
<path d="M630.33 320.56h4.6M630.33 311.84h4.6M632.63 320.56V318.8M632.63 311.84V313.6" stroke="#2255ee" stroke-width="0.7" fill="none" opacity="0.4"/>
<path d="M632.63 313.47L635.54 318.23L629.72 318.23Z" fill="none" stroke="#2255ee" stroke-width="0.85"/>
<path d="M661.21 318.1h4.6M661.21 309.37h4.6M663.51 318.1V316.33M663.51 309.37V311.13" stroke="#2255ee" stroke-width="0.7" fill="none" opacity="0.4"/>
<path d="M663.51 311L666.42 315.76L660.6 315.76Z" fill="none" stroke="#2255ee" stroke-width="0.85"/>
<path d="M416.5 495.73L419.41 490.97L413.59 490.97Z" fill="none" stroke="#2a9a40" stroke-width="0.85"/>
<path d="M421.92 342.38h4.6M421.92 330.24h4.6M424.22 342.38V338.91M424.22 330.24V333.71" stroke="#2a9a40" stroke-width="0.7" fill="none" opacity="0.4"/>
<path d="M424.22 339.04L427.13 334.28L421.31 334.28Z" fill="none" stroke="#2a9a40" stroke-width="0.85"/>
<path d="M429.64 332.13h4.6M429.64 319.99h4.6M431.94 332.13V328.66M431.94 319.99V323.46" stroke="#2a9a40" stroke-width="0.7" fill="none" opacity="0.4"/>
<path d="M431.94 328.79L434.85 324.04L429.03 324.04Z" fill="none" stroke="#2a9a40" stroke-width="0.85"/>
<path d="M437.36 329.48h4.6M437.36 317.34h4.6M439.66 329.48V326.01M439.66 317.34V320.81" stroke="#2a9a40" stroke-width="0.7" fill="none" opacity="0.4"/>
<path d="M439.66 326.14L442.57 321.38L436.75 321.38Z" fill="none" stroke="#2a9a40" stroke-width="0.85"/>
<path d="M445.08 326.44h4.6M445.08 314.3h4.6M447.38 326.44V322.97M447.38 314.3V317.77" stroke="#2a9a40" stroke-width="0.7" fill="none" opacity="0.4"/>
<path d="M447.38 323.1L450.29 318.34L444.46 318.34Z" fill="none" stroke="#2a9a40" stroke-width="0.85"/>
<path d="M460.51 321.7h4.6M460.51 312.97h4.6M462.81 321.7V319.94M462.81 312.97V314.74" stroke="#2a9a40" stroke-width="0.7" fill="none" opacity="0.4"/>
<path d="M462.81 320.07L465.73 315.31L459.9 315.31Z" fill="none" stroke="#2a9a40" stroke-width="0.85"/>
<path d="M475.95 319.61h4.6M475.95 310.89h4.6M478.25 319.61V317.85M478.25 310.89V312.65" stroke="#2a9a40" stroke-width="0.7" fill="none" opacity="0.4"/>
<path d="M478.25 317.98L481.16 313.22L475.34 313.22Z" fill="none" stroke="#2a9a40" stroke-width="0.85"/>
<path d="M506.83 316.96h4.6M506.83 308.23h4.6M509.13 316.96V315.2M509.13 308.23V310" stroke="#2a9a40" stroke-width="0.7" fill="none" opacity="0.4"/>
<path d="M509.13 315.33L512.04 310.57L506.22 310.57Z" fill="none" stroke="#2a9a40" stroke-width="0.85"/>
<path d="M537.7 315.44h4.6M537.7 306.71h4.6M540 315.44V313.68M540 306.71V308.48" stroke="#2a9a40" stroke-width="0.7" fill="none" opacity="0.4"/>
<path d="M540 313.81L542.92 309.05L537.09 309.05Z" fill="none" stroke="#2a9a40" stroke-width="0.85"/>
<path d="M568.58 314.11h4.6M568.58 305.39h4.6M570.88 314.11V312.35M570.88 305.39V307.15" stroke="#2a9a40" stroke-width="0.7" fill="none" opacity="0.4"/>
<path d="M570.88 312.48L573.79 307.72L567.97 307.72Z" fill="none" stroke="#2a9a40" stroke-width="0.85"/>
<path d="M599.46 312.6h4.6M599.46 303.87h4.6M601.76 312.6V310.83M601.76 303.87V305.63" stroke="#2a9a40" stroke-width="0.7" fill="none" opacity="0.4"/>
<path d="M601.76 310.96L604.67 306.2L598.84 306.2Z" fill="none" stroke="#2a9a40" stroke-width="0.85"/>
<path d="M630.33 311.65h4.6M630.33 302.92h4.6M632.63 311.65V309.88M632.63 302.92V304.68" stroke="#2a9a40" stroke-width="0.7" fill="none" opacity="0.4"/>
<path d="M632.63 310.01L635.54 305.26L629.72 305.26Z" fill="none" stroke="#2a9a40" stroke-width="0.85"/>
<path d="M661.21 311.65h4.6M661.21 302.92h4.6M663.51 311.65V309.88M663.51 302.92V304.68" stroke="#2a9a40" stroke-width="0.7" fill="none" opacity="0.4"/>
<path d="M663.51 310.01L666.42 305.26L660.6 305.26Z" fill="none" stroke="#2a9a40" stroke-width="0.85"/>
<rect x="390.7" y="284.4" width="283.8" height="227.6" fill="none" stroke="#2a2a2a" stroke-width="1.2"/>
<path d="M416.5 512V516M447.38 512V516M478.25 512V516M509.13 512V516M540 512V516M570.88 512V516M601.76 512V516M632.63 512V516M663.51 512V516M401.06 512V514.2M431.94 512V514.2M462.81 512V514.2M493.69 512V514.2M524.57 512V514.2M555.44 512V514.2M586.32 512V514.2M617.19 512V514.2M648.07 512V514.2" stroke="#2a2a2a" stroke-width="1.0" fill="none"/>
<text x="416.5" y="527.3" font-size="9.48" text-anchor="middle" fill="#1e1e1e"  stroke="#1e1e1e" stroke-width="0.22">0</text>
<text x="447.38" y="527.3" font-size="9.48" text-anchor="middle" fill="#1e1e1e"  stroke="#1e1e1e" stroke-width="0.22">60</text>
<text x="478.25" y="527.3" font-size="9.48" text-anchor="middle" fill="#1e1e1e"  stroke="#1e1e1e" stroke-width="0.22">120</text>
<text x="509.13" y="527.3" font-size="9.48" text-anchor="middle" fill="#1e1e1e"  stroke="#1e1e1e" stroke-width="0.22">180</text>
<text x="540" y="527.3" font-size="9.48" text-anchor="middle" fill="#1e1e1e"  stroke="#1e1e1e" stroke-width="0.22">240</text>
<text x="570.88" y="527.3" font-size="9.48" text-anchor="middle" fill="#1e1e1e"  stroke="#1e1e1e" stroke-width="0.22">300</text>
<text x="601.76" y="527.3" font-size="9.48" text-anchor="middle" fill="#1e1e1e"  stroke="#1e1e1e" stroke-width="0.22">360</text>
<text x="632.63" y="527.3" font-size="9.48" text-anchor="middle" fill="#1e1e1e"  stroke="#1e1e1e" stroke-width="0.22">420</text>
<text x="663.51" y="527.3" font-size="9.48" text-anchor="middle" fill="#1e1e1e"  stroke="#1e1e1e" stroke-width="0.22">480</text>
<path d="M390.7 493H386.2M390.7 455.06H386.2M390.7 417.12H386.2M390.7 379.18H386.2M390.7 341.24H386.2M390.7 303.3H386.2M390.7 511.97H388.5M390.7 474.03H388.5M390.7 436.09H388.5M390.7 398.15H388.5M390.7 360.21H388.5M390.7 322.27H388.5M390.7 284.33H388.5" stroke="#2a2a2a" stroke-width="1.0" fill="none"/>
<text x="382.8" y="495.79" font-size="9.27" text-anchor="end" fill="#1e1e1e"  stroke="#1e1e1e" stroke-width="0.22">0</text>
<text x="382.8" y="457.85" font-size="9.27" text-anchor="end" fill="#1e1e1e"  stroke="#1e1e1e" stroke-width="0.22">20</text>
<text x="382.8" y="419.91" font-size="9.27" text-anchor="end" fill="#1e1e1e"  stroke="#1e1e1e" stroke-width="0.22">40</text>
<text x="382.8" y="381.97" font-size="9.27" text-anchor="end" fill="#1e1e1e"  stroke="#1e1e1e" stroke-width="0.22">60</text>
<text x="382.8" y="344.03" font-size="9.27" text-anchor="end" fill="#1e1e1e"  stroke="#1e1e1e" stroke-width="0.22">80</text>
<text x="382.8" y="306.09" font-size="9.27" text-anchor="end" fill="#1e1e1e"  stroke="#1e1e1e" stroke-width="0.22">100</text>
<text x="0" y="0" transform="translate(362.4,397.9) rotate(-90)" font-size="9.64" text-anchor="middle" fill="#1e1e1e"  stroke="#1e1e1e" stroke-width="0.22">Removal%</text>
<text x="532.4" y="543.5" font-size="9.79" text-anchor="middle" fill="#1e1e1e"  stroke="#1e1e1e" stroke-width="0.22">Time (min)</text>
<text x="404.6" y="301.9" font-size="12.88" text-anchor="start" fill="#1e1e1e"  stroke="#1e1e1e" stroke-width="0.22">(d)</text>
<rect x="605.9" y="441.4" width="5" height="5" fill="none" stroke="#333333" stroke-width="0.9"/>
<text x="621.9" y="447.3" font-size="9.79" text-anchor="start" fill="#1e1e1e"  stroke="#1e1e1e" stroke-width="0.22">0.25 g/L</text>
<circle cx="608.4" cy="455.9" r="2.5" fill="none" stroke="#ff3030" stroke-width="0.9"/>
<text x="621.9" y="459.3" font-size="9.79" text-anchor="start" fill="#1e1e1e"  stroke="#1e1e1e" stroke-width="0.22">0.5 g/L</text>
<path d="M608.4 464.96L611.54 470.08L605.26 470.08Z" fill="none" stroke="#2255ee" stroke-width="0.9"/>
<text x="621.9" y="471.3" font-size="9.79" text-anchor="start" fill="#1e1e1e"  stroke="#1e1e1e" stroke-width="0.22">0.75 g/L</text>
<path d="M608.4 482.84L611.54 477.72L605.26 477.72Z" fill="none" stroke="#2a9a40" stroke-width="0.9"/>
<text x="621.9" y="483.3" font-size="9.79" text-anchor="start" fill="#1e1e1e"  stroke="#1e1e1e" stroke-width="0.22">1 g/L</text>
<path d="M46.1 777.9L46.1 776.85L46.1 774.95L46.1 772.5L46.11 769.63L46.11 766.42L46.12 762.92L46.13 759.19L46.14 755.27L46.16 751.2L46.19 747.03L46.22 742.78L46.25 738.51L46.29 734.24L46.34 729.84L46.39 725.33L46.46 720.77L46.53 716.22L46.61 711.76L46.7 707.46L46.8 703.43L46.9 699.77L47.03 696.52L47.16 693.48L47.3 690.59L47.46 687.84L47.63 685.23L47.81 682.73L48.01 680.33L48.22 678L48.45 675.72L48.69 673.46L48.95 671.25L49.22 669.12L49.51 667.07L49.83 665.08L50.15 663.14L50.5 661.23L50.87 659.34L51.25 657.44L51.25 657.44L51.86 654.63L52.47 652.03L53.08 649.61L53.68 647.36L54.29 645.26L54.9 643.31L55.5 641.5L56.11 639.82L56.72 638.26L57.33 636.79L57.93 635.4L58.54 634.09L59.15 632.86L59.75 631.69L60.36 630.58L60.97 629.54L61.57 628.55L62.18 627.62L62.79 626.73L63.4 625.88L64 625.07L64.61 624.3L65.22 623.57L65.82 622.88L66.43 622.22L67.04 621.61L67.65 621.03L68.25 620.48L68.86 619.97L69.47 619.47L70.07 619L70.68 618.54L71.29 618.1L71.9 617.66L72.5 617.23L73.11 616.8L73.72 616.37L74.32 615.94L74.93 615.51L75.54 615.08L76.15 614.65L76.75 614.22L77.36 613.79L77.97 613.37L78.57 612.96L79.18 612.55L79.79 612.15L80.4 611.76L81 611.38L81.61 611.01L82.22 610.65L82.82 610.3L83.43 609.96L84.04 609.63L84.65 609.32L85.25 609.02L85.86 608.74L86.47 608.47L87.07 608.22L87.68 607.98L88.29 607.75L88.89 607.52L89.5 607.29L90.11 607.07L90.72 606.85L91.32 606.64L91.93 606.43L92.54 606.22L93.14 606.01L93.75 605.81L94.36 605.61L94.97 605.42L95.57 605.22L96.18 605.03L96.79 604.85L97.39 604.66L98 604.48L98.61 604.3L99.22 604.13L99.82 603.96L100.43 603.78L101.04 603.62L101.64 603.45L102.25 603.29L102.86 603.13L103.47 602.97L104.07 602.81L104.68 602.66L105.29 602.5L105.89 602.35L106.5 602.2L107.11 602.06L107.72 601.91L108.32 601.77L108.93 601.63L109.54 601.49L110.14 601.36L110.75 601.22L111.36 601.09L111.97 600.96L112.57 600.83L113.18 600.7L113.79 600.57L114.39 600.45L115 600.33L115.61 600.2L116.22 600.08L116.82 599.97L117.43 599.85L118.04 599.73L118.64 599.62L119.25 599.51L119.86 599.39L120.46 599.28L121.07 599.18L121.68 599.07L122.29 598.96L122.89 598.86L123.5 598.75L124.11 598.65L124.71 598.55L125.32 598.45L125.93 598.35L126.54 598.25L127.14 598.16L127.75 598.06L128.36 597.97L128.96 597.87L129.57 597.78L130.18 597.69L130.79 597.6L131.39 597.51L132 597.42L132.61 597.33L133.21 597.25L133.82 597.16L134.43 597.08L135.04 597L135.64 596.91L136.25 596.83L136.86 596.75L137.46 596.67L138.07 596.59L138.68 596.51L139.29 596.44L139.89 596.36L140.5 596.28L141.11 596.21L141.71 596.13L142.32 596.06L142.93 595.98L143.54 595.91L144.14 595.84L144.75 595.77L145.36 595.7L145.96 595.62L146.57 595.55L147.18 595.48L147.78 595.42L148.39 595.35L149 595.28L149.61 595.21L150.21 595.14L150.82 595.08L151.43 595.01L152.03 594.94L152.64 594.88L153.25 594.81L153.86 594.75L154.46 594.69L155.07 594.62L155.68 594.56L156.28 594.5L156.89 594.44L157.5 594.38L158.11 594.31L158.71 594.25L159.32 594.19L159.93 594.13L160.53 594.08L161.14 594.02L161.75 593.96L162.36 593.9L162.96 593.84L163.57 593.79L164.18 593.73L164.78 593.67L165.39 593.62L166 593.56L166.61 593.51L167.21 593.45L167.82 593.4L168.43 593.35L169.03 593.29L169.64 593.24L170.25 593.19L170.86 593.13L171.46 593.08L172.07 593.03L172.68 592.98L173.28 592.93L173.89 592.88L174.5 592.83L175.11 592.78L175.71 592.73L176.32 592.68L176.93 592.63L177.53 592.59L178.14 592.54L178.75 592.49L179.35 592.44L179.96 592.4L180.57 592.35L181.18 592.31L181.78 592.26L182.39 592.22L183 592.17L183.6 592.13L184.21 592.08L184.82 592.04L185.43 591.99L186.03 591.95L186.64 591.91L187.25 591.87L187.85 591.82L188.46 591.78L189.07 591.74L189.68 591.7L190.28 591.66L190.89 591.62L191.5 591.58L192.1 591.54L192.71 591.5L193.32 591.46L193.93 591.42L194.53 591.38L195.14 591.34L195.75 591.3L196.35 591.27L196.96 591.23L197.57 591.19L198.18 591.15L198.78 591.12L199.39 591.08L200 591.04L200.6 591.01L201.21 590.97L201.82 590.94L202.43 590.9L203.03 590.87L203.64 590.83L204.25 590.8L204.85 590.76L205.46 590.73L206.07 590.7L206.67 590.66L207.28 590.63L207.89 590.6L208.5 590.57L209.1 590.53L209.71 590.5L210.32 590.47L210.92 590.44L211.53 590.41L212.14 590.38L212.75 590.35L213.35 590.32L213.96 590.29L214.57 590.26L215.17 590.23L215.78 590.2L216.39 590.17L217 590.14L217.6 590.11L218.21 590.08L218.82 590.05L219.42 590.03L220.03 590L220.64 589.97L221.25 589.94L221.85 589.91L222.46 589.89L223.07 589.86L223.67 589.83L224.28 589.81L224.89 589.78L225.5 589.75L226.1 589.73L226.71 589.7L227.32 589.67L227.92 589.65L228.53 589.62L229.14 589.59L229.75 589.57L230.35 589.54L230.96 589.52L231.57 589.49L232.17 589.47L232.78 589.44L233.39 589.41L233.99 589.39L234.6 589.37L235.21 589.34L235.82 589.32L236.42 589.29L237.03 589.27L237.64 589.24L238.24 589.22L238.85 589.19L239.46 589.17L240.07 589.15L240.67 589.12L241.28 589.1L241.89 589.08L242.49 589.05L243.1 589.03L243.71 589.01L244.32 588.99L244.92 588.96L245.53 588.94L246.14 588.92L246.74 588.9L247.35 588.87L247.96 588.85L248.57 588.83L249.17 588.81L249.78 588.79L250.39 588.77L250.99 588.75L251.6 588.73L252.21 588.7L252.82 588.68L253.42 588.66L254.03 588.64L254.64 588.62L255.24 588.6L255.85 588.58L256.46 588.56L257.07 588.54L257.67 588.52L258.28 588.5L258.89 588.48L259.49 588.47L260.1 588.45L260.71 588.43L261.32 588.41L261.92 588.39L262.53 588.37L263.14 588.35L263.74 588.34L264.35 588.32L264.96 588.3L265.56 588.28L266.17 588.27L266.78 588.25L267.39 588.23L267.99 588.21L268.6 588.2L269.21 588.18L269.81 588.16L270.42 588.15L271.03 588.13L271.64 588.11L272.24 588.1L272.85 588.08L273.46 588.07L274.06 588.05L274.67 588.04L275.28 588.02L275.89 588.01L276.49 587.99L277.1 587.98L277.71 587.96L278.31 587.95L278.92 587.93L279.53 587.92L280.14 587.9L280.74 587.89L281.35 587.88L281.96 587.86L282.56 587.85L283.17 587.83L283.78 587.82L284.39 587.81L284.99 587.8L285.6 587.78L286.21 587.77L286.81 587.76L287.42 587.75L288.03 587.73L288.64 587.72L289.24 587.71L289.85 587.7L290.46 587.69L291.06 587.67L291.67 587.66L292.28 587.65L292.88 587.64L293.49 587.63" fill="none" stroke="#ff3a3a" stroke-width="1.1" stroke-dasharray="4.4 4.2" opacity="1.0"/>
<path d="M46.1 777.9L46.1 776.94L46.1 775.21L46.1 772.98L46.11 770.36L46.11 767.44L46.12 764.25L46.13 760.86L46.14 757.29L46.16 753.59L46.19 749.8L46.22 745.95L46.25 742.08L46.29 738.22L46.34 734.26L46.39 730.2L46.46 726.11L46.53 722.03L46.61 718.03L46.7 714.17L46.8 710.54L46.9 707.22L47.03 704.26L47.16 701.47L47.3 698.81L47.46 696.29L47.63 693.88L47.81 691.57L48.01 689.35L48.22 687.18L48.45 685.06L48.69 682.95L48.95 680.88L49.22 678.88L49.51 676.95L49.83 675.07L50.15 673.23L50.5 671.43L50.87 669.65L51.25 667.87L51.25 667.87L51.86 665.28L52.47 662.92L53.08 660.73L53.68 658.7L54.29 656.78L54.9 654.97L55.5 653.25L56.11 651.59L56.72 649.99L57.33 648.44L57.93 646.92L58.54 645.46L59.15 644.03L59.75 642.65L60.36 641.32L60.97 640.03L61.57 638.78L62.18 637.57L62.79 636.41L63.4 635.29L64 634.22L64.61 633.19L65.22 632.2L65.82 631.25L66.43 630.34L67.04 629.48L67.65 628.65L68.25 627.84L68.86 627.06L69.47 626.31L70.07 625.59L70.68 624.88L71.29 624.2L71.9 623.53L72.5 622.89L73.11 622.26L73.72 621.65L74.32 621.05L74.93 620.47L75.54 619.9L76.15 619.34L76.75 618.79L77.36 618.26L77.97 617.72L78.57 617.2L79.18 616.68L79.79 616.16L80.4 615.66L81 615.17L81.61 614.69L82.22 614.22L82.82 613.77L83.43 613.33L84.04 612.91L84.65 612.51L85.25 612.13L85.86 611.76L86.47 611.42L87.07 611.1L87.68 610.79L88.29 610.5L88.89 610.21L89.5 609.93L90.11 609.66L90.72 609.4L91.32 609.14L91.93 608.89L92.54 608.65L93.14 608.41L93.75 608.18L94.36 607.96L94.97 607.74L95.57 607.52L96.18 607.31L96.79 607.1L97.39 606.9L98 606.7L98.61 606.51L99.22 606.32L99.82 606.13L100.43 605.95L101.04 605.77L101.64 605.59L102.25 605.42L102.86 605.24L103.47 605.07L104.07 604.91L104.68 604.74L105.29 604.58L105.89 604.41L106.5 604.25L107.11 604.1L107.72 603.94L108.32 603.78L108.93 603.63L109.54 603.47L110.14 603.32L110.75 603.17L111.36 603.02L111.97 602.87L112.57 602.72L113.18 602.57L113.79 602.42L114.39 602.27L115 602.12L115.61 601.97L116.22 601.82L116.82 601.67L117.43 601.52L118.04 601.37L118.64 601.22L119.25 601.07L119.86 600.92L120.46 600.76L121.07 600.61L121.68 600.46L122.29 600.3L122.89 600.15L123.5 599.99L124.11 599.83L124.71 599.67L125.32 599.51L125.93 599.35L126.54 599.19L127.14 599.02L127.75 598.86L128.36 598.69L128.96 598.52L129.57 598.34L130.18 598.16L130.79 597.97L131.39 597.78L132 597.58L132.61 597.39L133.21 597.19L133.82 597L134.43 596.8L135.04 596.62L135.64 596.44L136.25 596.26L136.86 596.09L137.46 595.93L138.07 595.79L138.68 595.65L139.29 595.52L139.89 595.41L140.5 595.31L141.11 595.2L141.71 595.1L142.32 595L142.93 594.9L143.54 594.81L144.14 594.71L144.75 594.61L145.36 594.52L145.96 594.43L146.57 594.34L147.18 594.25L147.78 594.16L148.39 594.07L149 593.99L149.61 593.9L150.21 593.82L150.82 593.74L151.43 593.66L152.03 593.58L152.64 593.5L153.25 593.42L153.86 593.34L154.46 593.27L155.07 593.19L155.68 593.12L156.28 593.05L156.89 592.97L157.5 592.9L158.11 592.83L158.71 592.76L159.32 592.7L159.93 592.63L160.53 592.56L161.14 592.5L161.75 592.43L162.36 592.37L162.96 592.3L163.57 592.24L164.18 592.18L164.78 592.12L165.39 592.05L166 591.99L166.61 591.94L167.21 591.88L167.82 591.82L168.43 591.76L169.03 591.7L169.64 591.65L170.25 591.59L170.86 591.54L171.46 591.48L172.07 591.43L172.68 591.38L173.28 591.32L173.89 591.27L174.5 591.22L175.11 591.17L175.71 591.12L176.32 591.07L176.93 591.02L177.53 590.97L178.14 590.92L178.75 590.87L179.35 590.82L179.96 590.77L180.57 590.73L181.18 590.68L181.78 590.63L182.39 590.58L183 590.54L183.6 590.49L184.21 590.45L184.82 590.4L185.43 590.36L186.03 590.31L186.64 590.27L187.25 590.23L187.85 590.18L188.46 590.14L189.07 590.1L189.68 590.05L190.28 590.01L190.89 589.97L191.5 589.93L192.1 589.88L192.71 589.84L193.32 589.8L193.93 589.76L194.53 589.72L195.14 589.68L195.75 589.64L196.35 589.6L196.96 589.56L197.57 589.52L198.18 589.48L198.78 589.44L199.39 589.4L200 589.36L200.6 589.32L201.21 589.28L201.82 589.24L202.43 589.2L203.03 589.16L203.64 589.12L204.25 589.08L204.85 589.04L205.46 589L206.07 588.96L206.67 588.92L207.28 588.88L207.89 588.84L208.5 588.81L209.1 588.77L209.71 588.73L210.32 588.69L210.92 588.65L211.53 588.61L212.14 588.57L212.75 588.53L213.35 588.49L213.96 588.45L214.57 588.42L215.17 588.38L215.78 588.34L216.39 588.3L217 588.26L217.6 588.22L218.21 588.18L218.82 588.14L219.42 588.1L220.03 588.06L220.64 588.02L221.25 587.99L221.85 587.95L222.46 587.91L223.07 587.87L223.67 587.83L224.28 587.79L224.89 587.76L225.5 587.72L226.1 587.68L226.71 587.64L227.32 587.61L227.92 587.57L228.53 587.53L229.14 587.5L229.75 587.46L230.35 587.42L230.96 587.39L231.57 587.35L232.17 587.32L232.78 587.28L233.39 587.25L233.99 587.21L234.6 587.17L235.21 587.14L235.82 587.1L236.42 587.07L237.03 587.04L237.64 587L238.24 586.97L238.85 586.93L239.46 586.9L240.07 586.86L240.67 586.83L241.28 586.8L241.89 586.76L242.49 586.73L243.1 586.7L243.71 586.66L244.32 586.63L244.92 586.6L245.53 586.57L246.14 586.53L246.74 586.5L247.35 586.47L247.96 586.44L248.57 586.4L249.17 586.37L249.78 586.34L250.39 586.31L250.99 586.28L251.6 586.25L252.21 586.22L252.82 586.18L253.42 586.15L254.03 586.12L254.64 586.09L255.24 586.06L255.85 586.03L256.46 586L257.07 585.97L257.67 585.94L258.28 585.91L258.89 585.88L259.49 585.85L260.1 585.82L260.71 585.79L261.32 585.77L261.92 585.74L262.53 585.71L263.14 585.68L263.74 585.65L264.35 585.62L264.96 585.59L265.56 585.57L266.17 585.54L266.78 585.51L267.39 585.48L267.99 585.45L268.6 585.43L269.21 585.4L269.81 585.37L270.42 585.34L271.03 585.32L271.64 585.29L272.24 585.26L272.85 585.24L273.46 585.21L274.06 585.18L274.67 585.16L275.28 585.13L275.89 585.11L276.49 585.08L277.1 585.05L277.71 585.03L278.31 585L278.92 584.98L279.53 584.95L280.14 584.93L280.74 584.9L281.35 584.88L281.96 584.85L282.56 584.83L283.17 584.8L283.78 584.78L284.39 584.76L284.99 584.73L285.6 584.71L286.21 584.68L286.81 584.66L287.42 584.64L288.03 584.61L288.64 584.59L289.24 584.57L289.85 584.54L290.46 584.52L291.06 584.5L291.67 584.47L292.28 584.45L292.88 584.43L293.49 584.41" fill="none" stroke="#333333" stroke-width="1.1" stroke-dasharray="4.4 4.2" opacity="1.0"/>
<path d="M46.1 777.9L46.1 775.93L46.1 772.37L46.1 767.81L46.11 762.5L46.11 756.64L46.12 750.38L46.13 743.88L46.14 737.29L46.16 730.78L46.19 724.55L46.22 718.38L46.25 712.04L46.29 705.67L46.34 699.41L46.39 693.45L46.46 687.99L46.53 683.28L46.61 679.57L46.7 676.66L46.8 673.97L46.9 671.47L47.03 669.16L47.16 667.03L47.3 665.04L47.46 663.18L47.63 661.42L47.81 659.71L48.01 658.03L48.22 656.32L48.45 654.53L48.69 652.61L48.95 650.61L49.22 648.63L49.51 646.67L49.83 644.74L50.15 642.85L50.5 641.01L50.87 639.23L51.25 637.52L51.25 637.52L51.86 635.08L52.47 632.85L53.08 630.81L53.68 628.94L54.29 627.23L54.9 625.67L55.5 624.24L56.11 622.94L56.72 621.75L57.33 620.62L57.93 619.54L58.54 618.52L59.15 617.54L59.75 616.61L60.36 615.73L60.97 614.89L61.57 614.1L62.18 613.35L62.79 612.64L63.4 611.98L64 611.36L64.61 610.78L65.22 610.24L65.82 609.73L66.43 609.27L67.04 608.84L67.65 608.43L68.25 608.04L68.86 607.66L69.47 607.3L70.07 606.95L70.68 606.62L71.29 606.29L71.9 605.98L72.5 605.68L73.11 605.38L73.72 605.1L74.32 604.83L74.93 604.57L75.54 604.31L76.15 604.06L76.75 603.82L77.36 603.59L77.97 603.37L78.57 603.15L79.18 602.93L79.79 602.73L80.4 602.52L81 602.33L81.61 602.14L82.22 601.95L82.82 601.77L83.43 601.59L84.04 601.41L84.65 601.24L85.25 601.08L85.86 600.91L86.47 600.75L87.07 600.6L87.68 600.44L88.29 600.29L88.89 600.14L89.5 599.99L90.11 599.85L90.72 599.7L91.32 599.56L91.93 599.42L92.54 599.28L93.14 599.14L93.75 599.01L94.36 598.87L94.97 598.74L95.57 598.61L96.18 598.48L96.79 598.36L97.39 598.23L98 598.11L98.61 597.99L99.22 597.87L99.82 597.75L100.43 597.63L101.04 597.52L101.64 597.4L102.25 597.29L102.86 597.18L103.47 597.07L104.07 596.96L104.68 596.85L105.29 596.74L105.89 596.64L106.5 596.54L107.11 596.43L107.72 596.33L108.32 596.23L108.93 596.14L109.54 596.04L110.14 595.94L110.75 595.85L111.36 595.76L111.97 595.66L112.57 595.57L113.18 595.48L113.79 595.4L114.39 595.31L115 595.22L115.61 595.14L116.22 595.05L116.82 594.97L117.43 594.89L118.04 594.81L118.64 594.73L119.25 594.65L119.86 594.57L120.46 594.5L121.07 594.42L121.68 594.35L122.29 594.27L122.89 594.2L123.5 594.13L124.11 594.06L124.71 593.99L125.32 593.92L125.93 593.86L126.54 593.79L127.14 593.73L127.75 593.66L128.36 593.6L128.96 593.53L129.57 593.47L130.18 593.41L130.79 593.35L131.39 593.29L132 593.24L132.61 593.18L133.21 593.12L133.82 593.07L134.43 593.01L135.04 592.96L135.64 592.91L136.25 592.86L136.86 592.81L137.46 592.76L138.07 592.71L138.68 592.66L139.29 592.61L139.89 592.56L140.5 592.52L141.11 592.47L141.71 592.43L142.32 592.38L142.93 592.34L143.54 592.3L144.14 592.25L144.75 592.21L145.36 592.17L145.96 592.13L146.57 592.08L147.18 592.04L147.78 592L148.39 591.96L149 591.92L149.61 591.88L150.21 591.85L150.82 591.81L151.43 591.77L152.03 591.73L152.64 591.69L153.25 591.66L153.86 591.62L154.46 591.59L155.07 591.55L155.68 591.51L156.28 591.48L156.89 591.44L157.5 591.41L158.11 591.38L158.71 591.34L159.32 591.31L159.93 591.27L160.53 591.24L161.14 591.21L161.75 591.18L162.36 591.15L162.96 591.11L163.57 591.08L164.18 591.05L164.78 591.02L165.39 590.99L166 590.96L166.61 590.93L167.21 590.9L167.82 590.87L168.43 590.84L169.03 590.81L169.64 590.78L170.25 590.75L170.86 590.72L171.46 590.7L172.07 590.67L172.68 590.64L173.28 590.61L173.89 590.59L174.5 590.56L175.11 590.53L175.71 590.5L176.32 590.48L176.93 590.45L177.53 590.43L178.14 590.4L178.75 590.37L179.35 590.35L179.96 590.32L180.57 590.3L181.18 590.27L181.78 590.25L182.39 590.22L183 590.2L183.6 590.17L184.21 590.15L184.82 590.12L185.43 590.1L186.03 590.08L186.64 590.05L187.25 590.03L187.85 590.01L188.46 589.98L189.07 589.96L189.68 589.94L190.28 589.91L190.89 589.89L191.5 589.87L192.1 589.84L192.71 589.82L193.32 589.8L193.93 589.78L194.53 589.76L195.14 589.73L195.75 589.71L196.35 589.69L196.96 589.67L197.57 589.65L198.18 589.62L198.78 589.6L199.39 589.58L200 589.56L200.6 589.54L201.21 589.52L201.82 589.5L202.43 589.48L203.03 589.45L203.64 589.43L204.25 589.41L204.85 589.39L205.46 589.37L206.07 589.35L206.67 589.33L207.28 589.31L207.89 589.29L208.5 589.27L209.1 589.25L209.71 589.23L210.32 589.21L210.92 589.19L211.53 589.17L212.14 589.15L212.75 589.13L213.35 589.11L213.96 589.09L214.57 589.07L215.17 589.05L215.78 589.03L216.39 589.01L217 588.99L217.6 588.97L218.21 588.95L218.82 588.93L219.42 588.91L220.03 588.89L220.64 588.87L221.25 588.85L221.85 588.83L222.46 588.81L223.07 588.79L223.67 588.77L224.28 588.76L224.89 588.74L225.5 588.72L226.1 588.7L226.71 588.68L227.32 588.66L227.92 588.64L228.53 588.63L229.14 588.61L229.75 588.59L230.35 588.57L230.96 588.55L231.57 588.54L232.17 588.52L232.78 588.5L233.39 588.48L233.99 588.46L234.6 588.45L235.21 588.43L235.82 588.41L236.42 588.39L237.03 588.38L237.64 588.36L238.24 588.34L238.85 588.32L239.46 588.31L240.07 588.29L240.67 588.27L241.28 588.26L241.89 588.24L242.49 588.22L243.1 588.21L243.71 588.19L244.32 588.17L244.92 588.16L245.53 588.14L246.14 588.13L246.74 588.11L247.35 588.09L247.96 588.08L248.57 588.06L249.17 588.05L249.78 588.03L250.39 588.01L250.99 588L251.6 587.98L252.21 587.97L252.82 587.95L253.42 587.94L254.03 587.92L254.64 587.91L255.24 587.89L255.85 587.87L256.46 587.86L257.07 587.84L257.67 587.83L258.28 587.81L258.89 587.8L259.49 587.79L260.1 587.77L260.71 587.76L261.32 587.74L261.92 587.73L262.53 587.71L263.14 587.7L263.74 587.68L264.35 587.67L264.96 587.66L265.56 587.64L266.17 587.63L266.78 587.61L267.39 587.6L267.99 587.59L268.6 587.57L269.21 587.56L269.81 587.54L270.42 587.53L271.03 587.52L271.64 587.5L272.24 587.49L272.85 587.48L273.46 587.46L274.06 587.45L274.67 587.44L275.28 587.43L275.89 587.41L276.49 587.4L277.1 587.39L277.71 587.37L278.31 587.36L278.92 587.35L279.53 587.34L280.14 587.32L280.74 587.31L281.35 587.3L281.96 587.29L282.56 587.27L283.17 587.26L283.78 587.25L284.39 587.24L284.99 587.22L285.6 587.21L286.21 587.2L286.81 587.19L287.42 587.18L288.03 587.17L288.64 587.15L289.24 587.14L289.85 587.13L290.46 587.12L291.06 587.11L291.67 587.1L292.28 587.08L292.88 587.07L293.49 587.06" fill="none" stroke="#30b030" stroke-width="1.1" stroke-dasharray="4.4 4.2" opacity="1.0"/>
<path d="M46.1 777.9L46.1 775.75L46.1 771.84L46.1 766.85L46.11 761.06L46.11 754.68L46.12 747.9L46.13 740.9L46.14 733.89L46.16 727.1L46.19 720.76L46.22 714.64L46.25 708.45L46.29 702.31L46.34 696.35L46.39 690.72L46.46 685.6L46.53 681.18L46.61 677.66L46.7 674.87L46.8 672.29L46.9 669.91L47.03 667.72L47.16 665.7L47.3 663.83L47.46 662.07L47.63 660.39L47.81 658.75L48.01 657.12L48.22 655.43L48.45 653.63L48.69 651.65L48.95 649.57L49.22 647.46L49.51 645.35L49.83 643.25L50.15 641.17L50.5 639.13L50.87 637.15L51.25 635.25L51.25 635.25L51.86 632.5L52.47 629.96L53.08 627.63L53.68 625.52L54.29 623.63L54.9 621.98L55.5 620.55L56.11 619.3L56.72 618.18L57.33 617.16L57.93 616.23L58.54 615.36L59.15 614.55L59.75 613.79L60.36 613.07L60.97 612.38L61.57 611.71L62.18 611.06L62.79 610.43L63.4 609.84L64 609.27L64.61 608.73L65.22 608.23L65.82 607.77L66.43 607.35L67.04 606.97L67.65 606.6L68.25 606.25L68.86 605.9L69.47 605.57L70.07 605.25L70.68 604.94L71.29 604.63L71.9 604.34L72.5 604.05L73.11 603.78L73.72 603.51L74.32 603.25L74.93 603L75.54 602.75L76.15 602.52L76.75 602.29L77.36 602.06L77.97 601.84L78.57 601.63L79.18 601.43L79.79 601.23L80.4 601.04L81 600.85L81.61 600.67L82.22 600.49L82.82 600.32L83.43 600.16L84.04 600L84.65 599.84L85.25 599.69L85.86 599.54L86.47 599.4L87.07 599.26L87.68 599.13L88.29 598.99L88.89 598.87L89.5 598.74L90.11 598.61L90.72 598.49L91.32 598.37L91.93 598.25L92.54 598.14L93.14 598.02L93.75 597.91L94.36 597.8L94.97 597.69L95.57 597.58L96.18 597.47L96.79 597.37L97.39 597.27L98 597.17L98.61 597.07L99.22 596.97L99.82 596.87L100.43 596.78L101.04 596.69L101.64 596.59L102.25 596.5L102.86 596.41L103.47 596.33L104.07 596.24L104.68 596.15L105.29 596.07L105.89 595.98L106.5 595.9L107.11 595.82L107.72 595.74L108.32 595.66L108.93 595.58L109.54 595.51L110.14 595.43L110.75 595.36L111.36 595.28L111.97 595.21L112.57 595.14L113.18 595.06L113.79 594.99L114.39 594.92L115 594.86L115.61 594.79L116.22 594.72L116.82 594.65L117.43 594.59L118.04 594.52L118.64 594.46L119.25 594.39L119.86 594.33L120.46 594.27L121.07 594.21L121.68 594.15L122.29 594.09L122.89 594.03L123.5 593.97L124.11 593.91L124.71 593.85L125.32 593.79L125.93 593.74L126.54 593.68L127.14 593.63L127.75 593.57L128.36 593.52L128.96 593.46L129.57 593.41L130.18 593.36L130.79 593.3L131.39 593.25L132 593.2L132.61 593.15L133.21 593.1L133.82 593.05L134.43 593L135.04 592.95L135.64 592.9L136.25 592.85L136.86 592.8L137.46 592.75L138.07 592.7L138.68 592.66L139.29 592.61L139.89 592.56L140.5 592.52L141.11 592.47L141.71 592.43L142.32 592.38L142.93 592.34L143.54 592.29L144.14 592.25L144.75 592.2L145.36 592.16L145.96 592.12L146.57 592.07L147.18 592.03L147.78 591.99L148.39 591.95L149 591.9L149.61 591.86L150.21 591.82L150.82 591.78L151.43 591.74L152.03 591.7L152.64 591.66L153.25 591.62L153.86 591.58L154.46 591.54L155.07 591.5L155.68 591.46L156.28 591.43L156.89 591.39L157.5 591.35L158.11 591.31L158.71 591.28L159.32 591.24L159.93 591.2L160.53 591.17L161.14 591.13L161.75 591.09L162.36 591.06L162.96 591.02L163.57 590.99L164.18 590.95L164.78 590.92L165.39 590.88L166 590.85L166.61 590.81L167.21 590.78L167.82 590.75L168.43 590.71L169.03 590.68L169.64 590.65L170.25 590.61L170.86 590.58L171.46 590.55L172.07 590.52L172.68 590.48L173.28 590.45L173.89 590.42L174.5 590.39L175.11 590.36L175.71 590.33L176.32 590.3L176.93 590.27L177.53 590.24L178.14 590.21L178.75 590.18L179.35 590.15L179.96 590.12L180.57 590.09L181.18 590.06L181.78 590.03L182.39 590L183 589.97L183.6 589.94L184.21 589.91L184.82 589.89L185.43 589.86L186.03 589.83L186.64 589.8L187.25 589.78L187.85 589.75L188.46 589.72L189.07 589.69L189.68 589.67L190.28 589.64L190.89 589.61L191.5 589.59L192.1 589.56L192.71 589.54L193.32 589.51L193.93 589.48L194.53 589.46L195.14 589.43L195.75 589.41L196.35 589.38L196.96 589.36L197.57 589.33L198.18 589.31L198.78 589.28L199.39 589.26L200 589.24L200.6 589.21L201.21 589.19L201.82 589.16L202.43 589.14L203.03 589.12L203.64 589.09L204.25 589.07L204.85 589.05L205.46 589.02L206.07 589L206.67 588.98L207.28 588.96L207.89 588.93L208.5 588.91L209.1 588.89L209.71 588.87L210.32 588.84L210.92 588.82L211.53 588.8L212.14 588.78L212.75 588.76L213.35 588.74L213.96 588.71L214.57 588.69L215.17 588.67L215.78 588.65L216.39 588.63L217 588.61L217.6 588.59L218.21 588.57L218.82 588.55L219.42 588.53L220.03 588.51L220.64 588.49L221.25 588.47L221.85 588.45L222.46 588.43L223.07 588.41L223.67 588.39L224.28 588.37L224.89 588.35L225.5 588.33L226.1 588.31L226.71 588.29L227.32 588.27L227.92 588.25L228.53 588.23L229.14 588.22L229.75 588.2L230.35 588.18L230.96 588.16L231.57 588.14L232.17 588.12L232.78 588.1L233.39 588.09L233.99 588.07L234.6 588.05L235.21 588.03L235.82 588.01L236.42 588L237.03 587.98L237.64 587.96L238.24 587.94L238.85 587.93L239.46 587.91L240.07 587.89L240.67 587.87L241.28 587.86L241.89 587.84L242.49 587.82L243.1 587.81L243.71 587.79L244.32 587.77L244.92 587.75L245.53 587.74L246.14 587.72L246.74 587.71L247.35 587.69L247.96 587.67L248.57 587.66L249.17 587.64L249.78 587.62L250.39 587.61L250.99 587.59L251.6 587.58L252.21 587.56L252.82 587.55L253.42 587.53L254.03 587.51L254.64 587.5L255.24 587.48L255.85 587.47L256.46 587.45L257.07 587.44L257.67 587.42L258.28 587.41L258.89 587.39L259.49 587.38L260.1 587.36L260.71 587.35L261.32 587.34L261.92 587.32L262.53 587.31L263.14 587.29L263.74 587.28L264.35 587.26L264.96 587.25L265.56 587.24L266.17 587.22L266.78 587.21L267.39 587.2L267.99 587.18L268.6 587.17L269.21 587.16L269.81 587.14L270.42 587.13L271.03 587.12L271.64 587.1L272.24 587.09L272.85 587.08L273.46 587.06L274.06 587.05L274.67 587.04L275.28 587.03L275.89 587.01L276.49 587L277.1 586.99L277.71 586.98L278.31 586.96L278.92 586.95L279.53 586.94L280.14 586.93L280.74 586.92L281.35 586.9L281.96 586.89L282.56 586.88L283.17 586.87L283.78 586.86L284.39 586.85L284.99 586.83L285.6 586.82L286.21 586.81L286.81 586.8L287.42 586.79L288.03 586.78L288.64 586.77L289.24 586.76L289.85 586.75L290.46 586.73L291.06 586.72L291.67 586.71L292.28 586.7L292.88 586.69L293.49 586.68" fill="none" stroke="#2a3aff" stroke-width="1.1" stroke-dasharray="4.4 4.2" opacity="1.0"/>
<path d="M46.1 777.9L46.1 776.94L46.1 775.21L46.1 772.98L46.11 770.36L46.11 767.44L46.12 764.25L46.13 760.86L46.14 757.29L46.16 753.59L46.19 749.8L46.22 745.95L46.25 742.08L46.29 738.22L46.34 734.26L46.39 730.2L46.46 726.11L46.53 722.03L46.61 718.03L46.7 714.17L46.8 710.54L46.9 707.22L47.03 704.26L47.16 701.47L47.3 698.81L47.46 696.29L47.63 693.88L47.81 691.57L48.01 689.35L48.22 687.18L48.45 685.06L48.69 682.95L48.95 680.89L49.22 678.9L49.51 676.98L49.83 675.12L50.15 673.29L50.5 671.49L50.87 669.69L51.25 667.87L51.25 667.87L51.86 665.18L52.47 662.67L53.08 660.33L53.68 658.14L54.29 656.09L54.9 654.17L55.5 652.35L56.11 650.65L56.72 649.04L57.33 647.5L57.93 646.03L58.54 644.64L59.15 643.32L59.75 642.08L60.36 640.92L60.97 639.84L61.57 638.84L62.18 637.9L62.79 637.02L63.4 636.18L64 635.39L64.61 634.63L65.22 633.9L65.82 633.2L66.43 632.52L67.04 631.86L67.65 631.23L68.25 630.62L68.86 630.03L69.47 629.46L70.07 628.91L70.68 628.37L71.29 627.84L71.9 627.33L72.5 626.83L73.11 626.33L73.72 625.85L74.32 625.36L74.93 624.89L75.54 624.41L76.15 623.95L76.75 623.49L77.36 623.05L77.97 622.62L78.57 622.21L79.18 621.81L79.79 621.43L80.4 621.06L81 620.72L81.61 620.39L82.22 620.07L82.82 619.77L83.43 619.47L84.04 619.19L84.65 618.91L85.25 618.65L85.86 618.39L86.47 618.14L87.07 617.89L87.68 617.66L88.29 617.42L88.89 617.19L89.5 616.96L90.11 616.73L90.72 616.51L91.32 616.29L91.93 616.07L92.54 615.85L93.14 615.64L93.75 615.43L94.36 615.21L94.97 615.01L95.57 614.8L96.18 614.6L96.79 614.4L97.39 614.2L98 614L98.61 613.8L99.22 613.61L99.82 613.42L100.43 613.23L101.04 613.04L101.64 612.86L102.25 612.67L102.86 612.49L103.47 612.31L104.07 612.13L104.68 611.96L105.29 611.78L105.89 611.61L106.5 611.44L107.11 611.27L107.72 611.1L108.32 610.93L108.93 610.77L109.54 610.6L110.14 610.44L110.75 610.28L111.36 610.12L111.97 609.96L112.57 609.81L113.18 609.66L113.79 609.5L114.39 609.35L115 609.2L115.61 609.05L116.22 608.91L116.82 608.76L117.43 608.62L118.04 608.47L118.64 608.33L119.25 608.19L119.86 608.05L120.46 607.91L121.07 607.78L121.68 607.64L122.29 607.51L122.89 607.38L123.5 607.25L124.11 607.12L124.71 606.99L125.32 606.86L125.93 606.73L126.54 606.61L127.14 606.48L127.75 606.36L128.36 606.24L128.96 606.12L129.57 606L130.18 605.88L130.79 605.76L131.39 605.65L132 605.53L132.61 605.42L133.21 605.31L133.82 605.2L134.43 605.09L135.04 604.98L135.64 604.87L136.25 604.76L136.86 604.65L137.46 604.55L138.07 604.44L138.68 604.34L139.29 604.24L139.89 604.14L140.5 604.04L141.11 603.94L141.71 603.84L142.32 603.74L142.93 603.64L143.54 603.54L144.14 603.45L144.75 603.35L145.36 603.26L145.96 603.16L146.57 603.07L147.18 602.97L147.78 602.88L148.39 602.79L149 602.7L149.61 602.61L150.21 602.52L150.82 602.43L151.43 602.34L152.03 602.25L152.64 602.16L153.25 602.07L153.86 601.99L154.46 601.9L155.07 601.81L155.68 601.73L156.28 601.64L156.89 601.56L157.5 601.48L158.11 601.39L158.71 601.31L159.32 601.23L159.93 601.15L160.53 601.07L161.14 600.98L161.75 600.9L162.36 600.82L162.96 600.75L163.57 600.67L164.18 600.59L164.78 600.51L165.39 600.43L166 600.36L166.61 600.28L167.21 600.21L167.82 600.13L168.43 600.06L169.03 599.98L169.64 599.91L170.25 599.83L170.86 599.76L171.46 599.69L172.07 599.62L172.68 599.54L173.28 599.47L173.89 599.4L174.5 599.33L175.11 599.26L175.71 599.19L176.32 599.12L176.93 599.05L177.53 598.98L178.14 598.92L178.75 598.85L179.35 598.78L179.96 598.71L180.57 598.65L181.18 598.58L181.78 598.52L182.39 598.45L183 598.39L183.6 598.32L184.21 598.26L184.82 598.19L185.43 598.13L186.03 598.07L186.64 598L187.25 597.94L187.85 597.88L188.46 597.82L189.07 597.76L189.68 597.7L190.28 597.64L190.89 597.58L191.5 597.52L192.1 597.46L192.71 597.4L193.32 597.34L193.93 597.28L194.53 597.22L195.14 597.16L195.75 597.11L196.35 597.05L196.96 596.99L197.57 596.94L198.18 596.88L198.78 596.82L199.39 596.77L200 596.71L200.6 596.66L201.21 596.6L201.82 596.55L202.43 596.5L203.03 596.44L203.64 596.39L204.25 596.34L204.85 596.28L205.46 596.23L206.07 596.18L206.67 596.13L207.28 596.08L207.89 596.02L208.5 595.97L209.1 595.92L209.71 595.87L210.32 595.82L210.92 595.77L211.53 595.72L212.14 595.67L212.75 595.62L213.35 595.58L213.96 595.53L214.57 595.48L215.17 595.43L215.78 595.38L216.39 595.34L217 595.29L217.6 595.24L218.21 595.2L218.82 595.15L219.42 595.1L220.03 595.06L220.64 595.01L221.25 594.97L221.85 594.92L222.46 594.87L223.07 594.83L223.67 594.78L224.28 594.74L224.89 594.7L225.5 594.65L226.1 594.61L226.71 594.56L227.32 594.52L227.92 594.48L228.53 594.43L229.14 594.39L229.75 594.35L230.35 594.3L230.96 594.26L231.57 594.22L232.17 594.18L232.78 594.14L233.39 594.09L233.99 594.05L234.6 594.01L235.21 593.97L235.82 593.93L236.42 593.89L237.03 593.85L237.64 593.81L238.24 593.77L238.85 593.73L239.46 593.69L240.07 593.65L240.67 593.61L241.28 593.57L241.89 593.53L242.49 593.49L243.1 593.45L243.71 593.41L244.32 593.38L244.92 593.34L245.53 593.3L246.14 593.26L246.74 593.22L247.35 593.19L247.96 593.15L248.57 593.11L249.17 593.08L249.78 593.04L250.39 593L250.99 592.97L251.6 592.93L252.21 592.89L252.82 592.86L253.42 592.82L254.03 592.79L254.64 592.75L255.24 592.72L255.85 592.68L256.46 592.65L257.07 592.61L257.67 592.58L258.28 592.54L258.89 592.51L259.49 592.48L260.1 592.44L260.71 592.41L261.32 592.38L261.92 592.34L262.53 592.31L263.14 592.28L263.74 592.24L264.35 592.21L264.96 592.18L265.56 592.15L266.17 592.12L266.78 592.08L267.39 592.05L267.99 592.02L268.6 591.99L269.21 591.96L269.81 591.93L270.42 591.9L271.03 591.87L271.64 591.84L272.24 591.81L272.85 591.78L273.46 591.75L274.06 591.72L274.67 591.69L275.28 591.66L275.89 591.63L276.49 591.6L277.1 591.57L277.71 591.54L278.31 591.51L278.92 591.49L279.53 591.46L280.14 591.43L280.74 591.4L281.35 591.37L281.96 591.35L282.56 591.32L283.17 591.29L283.78 591.26L284.39 591.24L284.99 591.21L285.6 591.18L286.21 591.16L286.81 591.13L287.42 591.11L288.03 591.08L288.64 591.05L289.24 591.03L289.85 591L290.46 590.98L291.06 590.95L291.67 590.93L292.28 590.9L292.88 590.88L293.49 590.86" fill="none" stroke="#cc40ff" stroke-width="1.1" stroke-dasharray="4.4 4.2" opacity="1.0"/>
<rect x="43.8" y="775.6" width="4.6" height="4.6" fill="none" stroke="#444444" stroke-width="0.8"/>
<rect x="46.38" y="686.44" width="4.6" height="4.6" fill="none" stroke="#444444" stroke-width="0.8"/>
<rect x="48.95" y="676.96" width="4.6" height="4.6" fill="none" stroke="#444444" stroke-width="0.8"/>
<rect x="51.53" y="661.78" width="4.6" height="4.6" fill="none" stroke="#444444" stroke-width="0.8"/>
<rect x="54.11" y="656.09" width="4.6" height="4.6" fill="none" stroke="#444444" stroke-width="0.8"/>
<rect x="64.42" y="642.81" width="4.6" height="4.6" fill="none" stroke="#444444" stroke-width="0.8"/>
<rect x="74.72" y="606.77" width="4.6" height="4.6" fill="none" stroke="#444444" stroke-width="0.8"/>
<rect x="85.03" y="601.08" width="4.6" height="4.6" fill="none" stroke="#444444" stroke-width="0.8"/>
<rect x="95.34" y="599.18" width="4.6" height="4.6" fill="none" stroke="#444444" stroke-width="0.8"/>
<rect x="105.65" y="595.38" width="4.6" height="4.6" fill="none" stroke="#444444" stroke-width="0.8"/>
<rect x="115.96" y="593.49" width="4.6" height="4.6" fill="none" stroke="#444444" stroke-width="0.8"/>
<rect x="126.26" y="593.49" width="4.6" height="4.6" fill="none" stroke="#444444" stroke-width="0.8"/>
<rect x="291.19" y="591.59" width="4.6" height="4.6" fill="none" stroke="#444444" stroke-width="0.8"/>
<circle cx="46.1" cy="777.9" r="2.3" fill="none" stroke="#ff4040" stroke-width="0.8"/>
<circle cx="48.68" cy="673.56" r="2.3" fill="none" stroke="#ff4040" stroke-width="0.8"/>
<circle cx="51.25" cy="660.29" r="2.3" fill="none" stroke="#ff4040" stroke-width="0.8"/>
<circle cx="56.41" cy="645.11" r="2.3" fill="none" stroke="#ff4040" stroke-width="0.8"/>
<circle cx="66.72" cy="630.88" r="2.3" fill="none" stroke="#ff4040" stroke-width="0.8"/>
<circle cx="77.02" cy="607.17" r="2.3" fill="none" stroke="#ff4040" stroke-width="0.8"/>
<circle cx="87.33" cy="605.27" r="2.3" fill="none" stroke="#ff4040" stroke-width="0.8"/>
<circle cx="97.64" cy="601.48" r="2.3" fill="none" stroke="#ff4040" stroke-width="0.8"/>
<circle cx="107.95" cy="599.58" r="2.3" fill="none" stroke="#ff4040" stroke-width="0.8"/>
<circle cx="118.26" cy="597.68" r="2.3" fill="none" stroke="#ff4040" stroke-width="0.8"/>
<circle cx="128.56" cy="595.79" r="2.3" fill="none" stroke="#ff4040" stroke-width="0.8"/>
<circle cx="293.49" cy="593.89" r="2.3" fill="none" stroke="#ff4040" stroke-width="0.8"/>
<path d="M46.1 775.17L49.01 779.93L43.19 779.93Z" fill="none" stroke="#3366ee" stroke-width="0.8"/>
<path d="M48.68 647.69L51.59 652.45L45.77 652.45Z" fill="none" stroke="#3366ee" stroke-width="0.8"/>
<path d="M51.25 626.45L54.17 631.2L48.34 631.2Z" fill="none" stroke="#3366ee" stroke-width="0.8"/>
<path d="M53.83 621.51L56.74 626.27L50.92 626.27Z" fill="none" stroke="#3366ee" stroke-width="0.8"/>
<path d="M56.41 615.82L59.32 620.58L53.5 620.58Z" fill="none" stroke="#3366ee" stroke-width="0.8"/>
<path d="M66.72 608.23L69.63 612.99L63.8 612.99Z" fill="none" stroke="#3366ee" stroke-width="0.8"/>
<path d="M77.02 596.85L79.94 601.61L74.11 601.61Z" fill="none" stroke="#3366ee" stroke-width="0.8"/>
<path d="M87.33 593.06L90.24 597.82L84.42 597.82Z" fill="none" stroke="#3366ee" stroke-width="0.8"/>
<path d="M97.64 591.16L100.55 595.92L94.73 595.92Z" fill="none" stroke="#3366ee" stroke-width="0.8"/>
<path d="M107.95 591.16L110.86 595.92L105.04 595.92Z" fill="none" stroke="#3366ee" stroke-width="0.8"/>
<path d="M118.26 590.21L121.17 594.97L115.34 594.97Z" fill="none" stroke="#3366ee" stroke-width="0.8"/>
<path d="M128.56 589.26L131.48 594.02L125.65 594.02Z" fill="none" stroke="#3366ee" stroke-width="0.8"/>
<path d="M293.49 588.69L296.4 593.45L290.58 593.45Z" fill="none" stroke="#3366ee" stroke-width="0.8"/>
<path d="M46.1 780.63L49.01 775.87L43.19 775.87Z" fill="none" stroke="#30a040" stroke-width="0.8"/>
<path d="M48.68 669.47L51.59 664.71L45.77 664.71Z" fill="none" stroke="#30a040" stroke-width="0.8"/>
<path d="M51.25 642.53L54.17 637.77L48.34 637.77Z" fill="none" stroke="#30a040" stroke-width="0.8"/>
<path d="M53.83 630.77L56.74 626.01L50.92 626.01Z" fill="none" stroke="#30a040" stroke-width="0.8"/>
<path d="M56.41 624.32L59.32 619.56L53.5 619.56Z" fill="none" stroke="#30a040" stroke-width="0.8"/>
<path d="M66.72 614.64L69.63 609.88L63.8 609.88Z" fill="none" stroke="#30a040" stroke-width="0.8"/>
<path d="M77.02 606.11L79.94 601.35L74.11 601.35Z" fill="none" stroke="#30a040" stroke-width="0.8"/>
<path d="M87.33 602.31L90.24 597.55L84.42 597.55Z" fill="none" stroke="#30a040" stroke-width="0.8"/>
<path d="M97.64 598.52L100.55 593.76L94.73 593.76Z" fill="none" stroke="#30a040" stroke-width="0.8"/>
<path d="M107.95 598.52L110.86 593.76L105.04 593.76Z" fill="none" stroke="#30a040" stroke-width="0.8"/>
<path d="M118.26 597.57L121.17 592.81L115.34 592.81Z" fill="none" stroke="#30a040" stroke-width="0.8"/>
<path d="M128.56 596.62L131.48 591.86L125.65 591.86Z" fill="none" stroke="#30a040" stroke-width="0.8"/>
<path d="M293.49 595.67L296.4 590.91L290.58 590.91Z" fill="none" stroke="#30a040" stroke-width="0.8"/>
<path d="M46.1 774.68L49.32 777.9L46.1 781.12L42.88 777.9Z" fill="none" stroke="#b060f0" stroke-width="0.8"/>
<path d="M48.68 670.34L51.9 673.56L48.68 676.79L45.45 673.56Z" fill="none" stroke="#b060f0" stroke-width="0.8"/>
<path d="M51.25 657.06L54.48 660.29L51.25 663.51L48.03 660.29Z" fill="none" stroke="#b060f0" stroke-width="0.8"/>
<path d="M53.83 653.27L57.06 656.49L53.83 659.72L50.61 656.49Z" fill="none" stroke="#b060f0" stroke-width="0.8"/>
<path d="M56.41 649.47L59.63 652.7L56.41 655.92L53.18 652.7Z" fill="none" stroke="#b060f0" stroke-width="0.8"/>
<path d="M66.72 632.4L69.94 635.62L66.72 638.85L63.49 635.62Z" fill="none" stroke="#b060f0" stroke-width="0.8"/>
<path d="M77.02 624.81L80.25 628.04L77.02 631.26L73.8 628.04Z" fill="none" stroke="#b060f0" stroke-width="0.8"/>
<path d="M87.33 611.53L90.56 614.76L87.33 617.98L84.11 614.76Z" fill="none" stroke="#b060f0" stroke-width="0.8"/>
<path d="M97.64 609.64L100.86 612.86L97.64 616.09L94.42 612.86Z" fill="none" stroke="#b060f0" stroke-width="0.8"/>
<path d="M107.95 602.05L111.17 605.27L107.95 608.5L104.72 605.27Z" fill="none" stroke="#b060f0" stroke-width="0.8"/>
<path d="M118.26 600.15L121.48 603.38L118.26 606.6L115.03 603.38Z" fill="none" stroke="#b060f0" stroke-width="0.8"/>
<path d="M128.56 598.25L131.79 601.48L128.56 604.7L125.34 601.48Z" fill="none" stroke="#b060f0" stroke-width="0.8"/>
<path d="M293.49 596.55L296.72 599.77L293.49 603L290.27 599.77Z" fill="none" stroke="#b060f0" stroke-width="0.8"/>
<rect x="51.33" y="700.09" width="5" height="5" fill="none" stroke="#ff3030" stroke-width="1.0"/>
<rect x="37.5" y="569.3" width="283.5" height="227.6" fill="none" stroke="#2a2a2a" stroke-width="1.2"/>
<path d="M46.1 796.9V800.9M80.46 796.9V800.9M114.82 796.9V800.9M149.18 796.9V800.9M183.54 796.9V800.9M217.9 796.9V800.9M252.26 796.9V800.9M286.62 796.9V800.9M320.98 796.9V800.9M63.28 796.9V799.1M97.64 796.9V799.1M132 796.9V799.1M166.36 796.9V799.1M200.72 796.9V799.1M235.08 796.9V799.1M269.44 796.9V799.1M303.8 796.9V799.1" stroke="#2a2a2a" stroke-width="1.0" fill="none"/>
<text x="46.1" y="812.3" font-size="9.79" text-anchor="middle" fill="#1e1e1e"  stroke="#1e1e1e" stroke-width="0.22">0</text>
<text x="80.46" y="812.3" font-size="9.79" text-anchor="middle" fill="#1e1e1e"  stroke="#1e1e1e" stroke-width="0.22">200</text>
<text x="114.82" y="812.3" font-size="9.79" text-anchor="middle" fill="#1e1e1e"  stroke="#1e1e1e" stroke-width="0.22">400</text>
<text x="149.18" y="812.3" font-size="9.79" text-anchor="middle" fill="#1e1e1e"  stroke="#1e1e1e" stroke-width="0.22">600</text>
<text x="183.54" y="812.3" font-size="9.79" text-anchor="middle" fill="#1e1e1e"  stroke="#1e1e1e" stroke-width="0.22">800</text>
<text x="217.9" y="812.3" font-size="9.79" text-anchor="middle" fill="#1e1e1e"  stroke="#1e1e1e" stroke-width="0.22">1000</text>
<text x="252.26" y="812.3" font-size="9.79" text-anchor="middle" fill="#1e1e1e"  stroke="#1e1e1e" stroke-width="0.22">1200</text>
<text x="286.62" y="812.3" font-size="9.79" text-anchor="middle" fill="#1e1e1e"  stroke="#1e1e1e" stroke-width="0.22">1400</text>
<text x="320.98" y="812.3" font-size="9.79" text-anchor="middle" fill="#1e1e1e"  stroke="#1e1e1e" stroke-width="0.22">1600</text>
<path d="M37.5 777.9H33.5M37.5 739.96H33.5M37.5 702.02H33.5M37.5 664.08H33.5M37.5 626.14H33.5M37.5 588.2H33.5M37.5 796.87H35.3M37.5 758.93H35.3M37.5 720.99H35.3M37.5 683.05H35.3M37.5 645.11H35.3M37.5 607.17H35.3M37.5 569.23H35.3" stroke="#2a2a2a" stroke-width="1.0" fill="none"/>
<text x="30.4" y="780.85" font-size="9.79" text-anchor="end" fill="#1e1e1e"  stroke="#1e1e1e" stroke-width="0.22">0</text>
<text x="30.4" y="742.91" font-size="9.79" text-anchor="end" fill="#1e1e1e"  stroke="#1e1e1e" stroke-width="0.22">20</text>
<text x="30.4" y="704.97" font-size="9.79" text-anchor="end" fill="#1e1e1e"  stroke="#1e1e1e" stroke-width="0.22">40</text>
<text x="30.4" y="667.02" font-size="9.79" text-anchor="end" fill="#1e1e1e"  stroke="#1e1e1e" stroke-width="0.22">60</text>
<text x="30.4" y="629.09" font-size="9.79" text-anchor="end" fill="#1e1e1e"  stroke="#1e1e1e" stroke-width="0.22">80</text>
<text x="30.4" y="591.15" font-size="9.79" text-anchor="end" fill="#1e1e1e"  stroke="#1e1e1e" stroke-width="0.22">100</text>
<text x="0" y="0" transform="translate(9.2,682.8) rotate(-90)" font-size="9.63" text-anchor="middle" fill="#1e1e1e"  stroke="#1e1e1e" stroke-width="0.22">Removal (%)</text>
<text x="179.7" y="828.3" font-size="9.84" text-anchor="middle" fill="#1e1e1e"  stroke="#1e1e1e" stroke-width="0.22">Time (min)</text>
<text x="47.9" y="584.5" font-size="12.67" text-anchor="start" fill="#1e1e1e" letter-spacing="0.5" stroke="#1e1e1e" stroke-width="0.22">(e)</text>
<rect x="239.3" y="698.8" width="4.6" height="4.6" fill="none" stroke="#666666" stroke-width="0.8"/>
<text x="255.2" y="704.5" font-size="9.63" text-anchor="start" fill="#1e1e1e"  stroke="#1e1e1e" stroke-width="0.22">0.5 mg/L</text>
<circle cx="241.6" cy="712.93" r="2.3" fill="none" stroke="#ff5a5a" stroke-width="0.8"/>
<text x="255.2" y="716.33" font-size="9.63" text-anchor="start" fill="#1e1e1e"  stroke="#1e1e1e" stroke-width="0.22">0.75 mg/L</text>
<path d="M241.6 722.03L244.51 726.79L238.69 726.79Z" fill="none" stroke="#4477ff" stroke-width="0.8"/>
<text x="255.2" y="728.16" font-size="9.63" text-anchor="start" fill="#1e1e1e"  stroke="#1e1e1e" stroke-width="0.22">1 mg/L</text>
<path d="M241.6 739.32L244.51 734.56L238.69 734.56Z" fill="none" stroke="#40aa60" stroke-width="0.8"/>
<text x="255.2" y="739.99" font-size="9.63" text-anchor="start" fill="#1e1e1e"  stroke="#1e1e1e" stroke-width="0.22">1.25 mg/L</text>
<path d="M241.6 745.2L244.82 748.42L241.6 751.64L238.38 748.42Z" fill="none" stroke="#a070ff" stroke-width="0.8"/>
<text x="255.2" y="751.82" font-size="9.63" text-anchor="start" fill="#1e1e1e"  stroke="#1e1e1e" stroke-width="0.22">1.5 mg/L</text>
<rect x="390.5" y="598.49" width="47.7" height="212.11" fill="#fbc897" stroke="#555" stroke-width="1"/>
<text x="414.35" y="596.29" font-size="10.2" text-anchor="middle" fill="#1e1e1e"  stroke="#1e1e1e" stroke-width="0.22">97.5</text>
<rect x="450" y="594.36" width="47.7" height="216.24" fill="#fbc897" stroke="#555" stroke-width="1"/>
<text x="473.85" y="592.16" font-size="10.2" text-anchor="middle" fill="#1e1e1e"  stroke="#1e1e1e" stroke-width="0.22">99.4</text>
<rect x="509.5" y="600.66" width="47.7" height="209.94" fill="#fbc897" stroke="#555" stroke-width="1"/>
<text x="533.35" y="598.46" font-size="10.2" text-anchor="middle" fill="#1e1e1e"  stroke="#1e1e1e" stroke-width="0.22">96.5</text>
<rect x="569" y="596.97" width="47.7" height="213.63" fill="#fbc897" stroke="#555" stroke-width="1"/>
<text x="592.85" y="594.77" font-size="10.2" text-anchor="middle" fill="#1e1e1e"  stroke="#1e1e1e" stroke-width="0.22">98.2</text>
<rect x="628.5" y="600.01" width="47.7" height="210.59" fill="#fbc897" stroke="#555" stroke-width="1"/>
<text x="652.35" y="597.81" font-size="10.2" text-anchor="middle" fill="#1e1e1e"  stroke="#1e1e1e" stroke-width="0.22">96.8</text>
<rect x="384.7" y="571.3" width="297.3" height="239.3" fill="none" stroke="#2a2a2a" stroke-width="1.2"/>
<path d="M414.35 810.6V814.8M473.85 810.6V814.8M533.35 810.6V814.8M592.85 810.6V814.8M652.35 810.6V814.8M444.1 810.6V812.8M503.6 810.6V812.8M563.1 810.6V812.8M622.6 810.6V812.8" stroke="#2a2a2a" stroke-width="1" fill="none"/>
<text x="414.35" y="826.7" font-size="10.09" text-anchor="middle" fill="#1e1e1e"  stroke="#1e1e1e" stroke-width="0.22">Run 1</text>
<text x="473.85" y="826.7" font-size="10.09" text-anchor="middle" fill="#1e1e1e"  stroke="#1e1e1e" stroke-width="0.22">Run 2</text>
<text x="533.35" y="826.7" font-size="10.09" text-anchor="middle" fill="#1e1e1e"  stroke="#1e1e1e" stroke-width="0.22">Run 3</text>
<text x="592.85" y="826.7" font-size="10.09" text-anchor="middle" fill="#1e1e1e"  stroke="#1e1e1e" stroke-width="0.22">Run 4</text>
<text x="652.35" y="826.7" font-size="10.09" text-anchor="middle" fill="#1e1e1e"  stroke="#1e1e1e" stroke-width="0.22">Run 5</text>
<path d="M384.7 810.6H380M384.7 767.09H380M384.7 723.58H380M384.7 680.07H380M384.7 636.56H380M384.7 593.05H380M384.7 788.85H382.5M384.7 745.34H382.5M384.7 701.83H382.5M384.7 658.32H382.5M384.7 614.81H382.5M384.7 571.3H382.5" stroke="#2a2a2a" stroke-width="1.0" fill="none"/>
<text x="376.6" y="813.61" font-size="9.99" text-anchor="end" fill="#1e1e1e"  stroke="#1e1e1e" stroke-width="0.22">0</text>
<text x="376.6" y="770.1" font-size="9.99" text-anchor="end" fill="#1e1e1e"  stroke="#1e1e1e" stroke-width="0.22">20</text>
<text x="376.6" y="726.59" font-size="9.99" text-anchor="end" fill="#1e1e1e"  stroke="#1e1e1e" stroke-width="0.22">40</text>
<text x="376.6" y="683.08" font-size="9.99" text-anchor="end" fill="#1e1e1e"  stroke="#1e1e1e" stroke-width="0.22">60</text>
<text x="376.6" y="639.57" font-size="9.99" text-anchor="end" fill="#1e1e1e"  stroke="#1e1e1e" stroke-width="0.22">80</text>
<text x="376.6" y="596.06" font-size="9.99" text-anchor="end" fill="#1e1e1e"  stroke="#1e1e1e" stroke-width="0.22">100</text>
<text x="0" y="0" transform="translate(355,691.2) rotate(-90)" font-size="10.15" text-anchor="middle" fill="#1e1e1e"  stroke="#1e1e1e" stroke-width="0.22">Removal%</text>
<text x="385.6" y="584.8" font-size="12.46" text-anchor="start" fill="#1e1e1e"  stroke="#1e1e1e" stroke-width="0.22">(f)</text>
</svg>
</body></html>
